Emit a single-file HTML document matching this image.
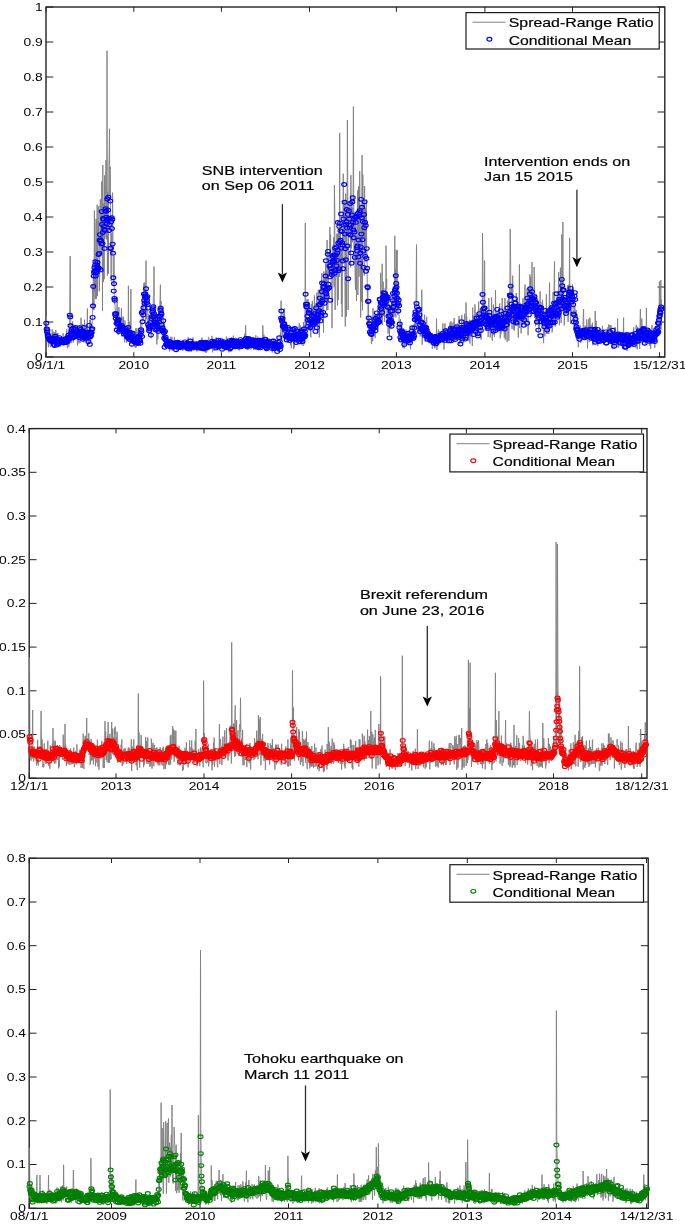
<!DOCTYPE html>
<html><head><meta charset="utf-8"><style>
html,body{margin:0;padding:0;background:#fff;width:685px;height:1224px;overflow:hidden}
svg{display:block;will-change:transform}
text{font-family:"Liberation Sans", sans-serif}
.b{stroke:#000;stroke-width:0.18px}
</style></head><body>
<svg width="685" height="1224" viewBox="0 0 685 1224">
<rect width="685" height="1224" fill="#fff"/>
<path d="M46.0,357.0h7.3M664.8,357.0h-7.3M46.0,322.0h7.3M664.8,322.0h-7.3M46.0,287.0h7.3M664.8,287.0h-7.3M46.0,252.0h7.3M664.8,252.0h-7.3M46.0,217.0h7.3M664.8,217.0h-7.3M46.0,182.0h7.3M664.8,182.0h-7.3M46.0,147.0h7.3M664.8,147.0h-7.3M46.0,112.0h7.3M664.8,112.0h-7.3M46.0,77.0h7.3M664.8,77.0h-7.3M46.0,42.0h7.3M664.8,42.0h-7.3M46.0,7.0h7.3M664.8,7.0h-7.3M46.0,357.0v-4.8M46.0,7.0v4.8M133.8,357.0v-4.8M133.8,7.0v4.8M221.4,357.0v-4.8M221.4,7.0v4.8M309.5,357.0v-4.8M309.5,7.0v4.8M396.4,357.0v-4.8M396.4,7.0v4.8M484.9,357.0v-4.8M484.9,7.0v4.8M572.5,357.0v-4.8M572.5,7.0v4.8M659.6,357.0v-4.8M659.6,7.0v4.8" stroke="#222" stroke-width="1" fill="none"/>
<rect x="46.0" y="7.0" width="618.8" height="350.0" fill="none" stroke="#222" stroke-width="1.4"/>
<text transform="translate(42.80,360.90) scale(1.28,1)" font-size="10.8" text-anchor="end" fill="#000">0</text>
<text transform="translate(42.80,325.90) scale(1.28,1)" font-size="10.8" text-anchor="end" fill="#000">0.1</text>
<text transform="translate(42.80,290.90) scale(1.28,1)" font-size="10.8" text-anchor="end" fill="#000">0.2</text>
<text transform="translate(42.80,255.90) scale(1.28,1)" font-size="10.8" text-anchor="end" fill="#000">0.3</text>
<text transform="translate(42.80,220.90) scale(1.28,1)" font-size="10.8" text-anchor="end" fill="#000">0.4</text>
<text transform="translate(42.80,185.90) scale(1.28,1)" font-size="10.8" text-anchor="end" fill="#000">0.5</text>
<text transform="translate(42.80,150.90) scale(1.28,1)" font-size="10.8" text-anchor="end" fill="#000">0.6</text>
<text transform="translate(42.80,115.90) scale(1.28,1)" font-size="10.8" text-anchor="end" fill="#000">0.7</text>
<text transform="translate(42.80,80.90) scale(1.28,1)" font-size="10.8" text-anchor="end" fill="#000">0.8</text>
<text transform="translate(42.80,45.90) scale(1.28,1)" font-size="10.8" text-anchor="end" fill="#000">0.9</text>
<text transform="translate(42.80,10.90) scale(1.28,1)" font-size="10.8" text-anchor="end" fill="#000">1</text>
<text transform="translate(46.00,368.80) scale(1.28,1)" font-size="10.8" text-anchor="middle" fill="#000">09/1/1</text>
<text transform="translate(133.80,368.80) scale(1.28,1)" font-size="10.8" text-anchor="middle" fill="#000">2010</text>
<text transform="translate(221.40,368.80) scale(1.28,1)" font-size="10.8" text-anchor="middle" fill="#000">2011</text>
<text transform="translate(309.50,368.80) scale(1.28,1)" font-size="10.8" text-anchor="middle" fill="#000">2012</text>
<text transform="translate(396.40,368.80) scale(1.28,1)" font-size="10.8" text-anchor="middle" fill="#000">2013</text>
<text transform="translate(484.90,368.80) scale(1.28,1)" font-size="10.8" text-anchor="middle" fill="#000">2014</text>
<text transform="translate(572.50,368.80) scale(1.28,1)" font-size="10.8" text-anchor="middle" fill="#000">2015</text>
<text transform="translate(659.60,368.80) scale(1.28,1)" font-size="10.8" text-anchor="middle" fill="#000">15/12/31</text>
<polyline points="46.3,315.9 46.7,323.4 47.0,337.5 47.4,330.2 47.7,335.9 48.1,337.0 48.4,347.1 48.8,333.9 49.1,339.6 49.5,327.5 49.8,335.8 50.2,345.9 50.5,347.1 50.9,333.3 51.2,345.1 51.6,336.6 51.9,342.3 52.3,329.2 52.6,340.2 53.0,331.6 53.3,333.0 53.7,343.5 54.0,342.8 54.4,332.2 54.7,340.9 55.1,345.7 55.4,334.2 55.8,330.0 56.1,341.1 56.5,332.9 56.8,341.9 57.2,333.1 57.5,342.3 57.9,333.2 58.2,338.1 58.6,341.9 58.9,339.7 59.3,343.9 59.6,346.6 60.0,346.3 60.3,341.1 60.7,346.3 61.0,338.5 61.4,338.0 61.7,338.3 62.1,343.6 62.4,340.4 62.8,340.8 63.1,333.1 63.5,345.1 63.8,342.9 64.2,342.0 64.5,341.5 64.9,344.8 65.3,344.2 65.6,335.1 66.0,344.3 66.3,335.3 66.7,328.9 67.0,331.9 67.4,348.3 67.7,334.4 68.1,335.8 68.4,335.0 68.8,346.9 69.1,332.7 69.5,344.1 69.8,289.4 70.2,256.0 70.5,306.1 70.9,333.2 71.2,342.9 71.6,323.2 71.9,325.3 72.3,336.0 72.6,321.3 73.0,327.7 73.3,342.6 73.7,336.0 74.0,336.8 74.4,333.8 74.7,331.5 75.1,338.5 75.4,334.4 75.8,328.1 76.1,333.1 76.5,334.9 76.8,335.2 77.2,333.4 77.5,345.6 77.9,331.4 78.2,340.7 78.6,331.8 78.9,343.4 79.3,325.2 79.6,331.1 80.0,342.9 80.3,331.3 80.7,339.3 81.0,317.7 81.4,329.8 81.7,339.8 82.1,332.0 82.4,334.0 82.8,324.2 83.1,331.5 83.5,330.4 83.9,342.3 84.2,328.4 84.6,319.7 84.9,330.0 85.3,334.8 85.6,333.5 86.0,341.6 86.3,333.3 86.7,342.4 87.0,334.3 87.4,308.5 87.7,340.8 88.1,330.4 88.4,344.5 88.8,334.8 89.1,343.7 89.5,319.9 89.8,319.9 90.2,328.3 90.5,319.9 90.9,330.3 91.2,330.7 91.6,337.3 91.9,338.2 92.3,324.3 92.6,284.5 93.0,310.0 93.3,267.6 93.7,279.9 94.0,310.2 94.4,210.6 94.7,291.6 95.1,277.5 95.4,299.1 95.8,236.6 96.1,218.8 96.5,298.8 96.8,250.8 97.2,204.6 97.5,296.1 97.9,260.5 98.2,221.1 98.6,236.7 98.9,206.1 99.3,291.3 99.6,276.7 100.0,238.0 100.3,199.4 100.7,240.7 101.0,255.0 101.4,253.9 101.7,181.4 102.1,216.8 102.5,310.9 102.8,165.0 103.2,250.5 103.5,281.8 103.9,203.5 104.2,279.2 104.6,175.4 104.9,238.4 105.3,195.1 105.6,185.2 106.0,160.1 106.3,239.3 106.7,229.3 107.0,50.6 107.4,275.6 107.7,191.8 108.1,210.0 108.4,273.5 108.8,165.4 109.1,158.3 109.5,128.8 109.8,194.9 110.2,166.8 110.5,188.3 110.9,265.7 111.2,281.1 111.6,233.2 111.9,255.2 112.3,239.2 112.6,192.6 113.0,239.3 113.3,284.9 113.7,284.6 114.0,255.6 114.4,303.8 114.7,297.8 115.1,307.8 115.4,311.2 115.8,328.6 116.1,311.7 116.5,319.8 116.8,310.4 117.2,297.3 117.5,320.5 117.9,315.1 118.2,335.1 118.6,323.5 118.9,307.1 119.3,326.4 119.6,333.1 120.0,324.9 120.3,329.1 120.7,330.0 121.1,331.6 121.4,308.2 121.8,336.6 122.1,332.7 122.5,334.4 122.8,316.8 123.2,332.1 123.5,316.8 123.9,328.4 124.2,330.3 124.6,342.3 124.9,320.3 125.3,327.4 125.6,329.2 126.0,333.9 126.3,336.6 126.7,342.6 127.0,325.9 127.4,331.6 127.7,336.8 128.1,339.0 128.4,285.8 128.8,335.4 129.1,321.6 129.5,329.9 129.8,340.2 130.2,343.5 130.5,338.2 130.9,289.0 131.2,336.7 131.6,335.0 131.9,333.9 132.3,335.7 132.6,339.8 133.0,335.4 133.3,344.5 133.7,340.0 134.0,335.3 134.4,338.4 134.7,346.7 135.1,346.2 135.4,348.0 135.8,328.3 136.1,347.7 136.5,340.7 136.8,328.3 137.2,333.6 137.5,331.9 137.9,342.9 138.2,335.7 138.6,328.3 138.9,340.0 139.3,337.6 139.7,341.8 140.0,339.9 140.4,335.2 140.7,324.2 141.1,340.0 141.4,341.9 141.8,326.4 142.1,320.2 142.5,298.4 142.8,303.9 143.2,320.3 143.5,297.7 143.9,282.9 144.2,295.2 144.6,304.5 144.9,282.4 145.3,302.4 145.6,326.5 146.0,260.6 146.3,319.3 146.7,304.5 147.0,306.8 147.4,309.9 147.7,313.4 148.1,332.9 148.4,314.3 148.8,322.9 149.1,324.7 149.5,316.0 149.8,318.3 150.2,315.3 150.5,306.1 150.9,319.9 151.2,338.2 151.6,317.9 151.9,317.9 152.3,315.1 152.6,323.0 153.0,325.2 153.3,297.3 153.7,294.7 154.0,266.5 154.4,308.1 154.7,320.2 155.1,325.4 155.4,314.2 155.8,324.3 156.1,331.7 156.5,326.8 156.8,344.4 157.2,334.8 157.5,332.0 157.9,339.1 158.3,322.4 158.6,319.8 159.0,328.7 159.3,321.4 159.7,308.2 160.0,299.6 160.4,284.7 160.7,308.7 161.1,301.0 161.4,318.3 161.8,330.0 162.1,331.6 162.5,328.6 162.8,337.0 163.2,309.8 163.5,336.3 163.9,330.4 164.2,333.7 164.6,332.4 164.9,340.8 165.3,346.7 165.6,331.7 166.0,343.3 166.3,342.7 166.7,342.5 167.0,337.6 167.4,340.4 167.7,338.5 168.1,340.5 168.4,343.6 168.8,343.4 169.1,347.8 169.5,351.4 169.8,346.0 170.2,349.2 170.5,336.8 170.9,338.2 171.2,340.2 171.6,347.4 171.9,336.8 172.3,350.9 172.6,349.6 173.0,348.3 173.3,348.9 173.7,344.6 174.0,344.4 174.4,336.9 174.7,341.1 175.1,340.0 175.4,343.5 175.8,345.8 176.1,348.0 176.5,350.5 176.9,348.6 177.2,346.8 177.6,342.2 177.9,351.0 178.3,350.1 178.6,344.4 179.0,349.2 179.3,343.9 179.7,347.0 180.0,348.2 180.4,350.1 180.7,345.6 181.1,348.2 181.4,347.8 181.8,347.8 182.1,344.5 182.5,344.7 182.8,351.1 183.2,346.0 183.5,343.8 183.9,341.1 184.2,342.2 184.6,344.5 184.9,349.6 185.3,348.4 185.6,341.7 186.0,348.1 186.3,341.2 186.7,340.0 187.0,349.3 187.4,343.7 187.7,345.8 188.1,337.3 188.4,342.1 188.8,347.5 189.1,343.9 189.5,348.9 189.8,346.0 190.2,344.6 190.5,344.8 190.9,344.3 191.2,348.9 191.6,351.5 191.9,346.9 192.3,348.9 192.6,348.2 193.0,337.4 193.3,340.7 193.7,346.2 194.0,350.5 194.4,350.1 194.7,344.1 195.1,341.2 195.5,346.7 195.8,345.0 196.2,344.5 196.5,341.3 196.9,351.6 197.2,344.9 197.6,344.0 197.9,341.8 198.3,344.1 198.6,349.6 199.0,347.9 199.3,350.7 199.7,344.8 200.0,344.8 200.4,343.6 200.7,349.2 201.1,349.7 201.4,338.9 201.8,344.7 202.1,337.6 202.5,343.7 202.8,350.5 203.2,342.1 203.5,340.1 203.9,347.1 204.2,351.5 204.6,342.6 204.9,345.7 205.3,344.1 205.6,352.6 206.0,343.3 206.3,352.6 206.7,348.5 207.0,341.4 207.4,351.2 207.7,351.2 208.1,346.8 208.4,337.3 208.8,337.5 209.1,347.4 209.5,340.6 209.8,342.4 210.2,343.7 210.5,343.3 210.9,347.7 211.2,341.3 211.6,340.0 211.9,335.9 212.3,340.7 212.6,352.3 213.0,349.2 213.3,343.1 213.7,344.1 214.0,351.0 214.4,345.0 214.8,346.0 215.1,344.5 215.5,344.8 215.8,340.3 216.2,337.4 216.5,341.3 216.9,348.7 217.2,347.9 217.6,347.1 217.9,344.3 218.3,346.1 218.6,345.8 219.0,348.1 219.3,340.1 219.7,340.7 220.0,340.3 220.4,344.8 220.7,342.6 221.1,348.3 221.4,348.7 221.8,347.0 222.1,342.3 222.5,345.4 222.8,349.2 223.2,344.4 223.5,343.2 223.9,344.3 224.2,347.7 224.6,344.7 224.9,346.9 225.3,346.4 225.6,345.3 226.0,341.9 226.3,336.5 226.7,337.8 227.0,342.3 227.4,346.5 227.7,346.1 228.1,345.8 228.4,339.6 228.8,352.4 229.1,343.4 229.5,351.3 229.8,344.3 230.2,338.3 230.5,348.1 230.9,351.8 231.2,338.2 231.6,337.0 231.9,342.0 232.3,338.3 232.6,347.6 233.0,338.7 233.4,335.7 233.7,341.3 234.1,342.9 234.4,338.1 234.8,338.9 235.1,347.4 235.5,337.7 235.8,340.9 236.2,343.4 236.5,338.0 236.9,340.0 237.2,340.9 237.6,346.4 237.9,340.4 238.3,348.7 238.6,344.6 239.0,350.4 239.3,350.4 239.7,342.2 240.0,344.4 240.4,343.6 240.7,341.4 241.1,342.4 241.4,347.7 241.8,343.4 242.1,344.0 242.5,346.1 242.8,344.2 243.2,345.3 243.5,346.5 243.9,345.1 244.2,342.3 244.6,333.8 244.9,347.0 245.3,340.9 245.6,325.3 246.0,334.8 246.3,344.7 246.7,342.4 247.0,336.7 247.4,338.4 247.7,349.3 248.1,340.6 248.4,344.2 248.8,340.2 249.1,342.4 249.5,339.7 249.8,341.8 250.2,343.8 250.5,337.3 250.9,349.5 251.2,345.2 251.6,347.4 252.0,343.8 252.3,345.3 252.7,343.9 253.0,345.6 253.4,345.6 253.7,349.9 254.1,343.5 254.4,342.1 254.8,346.3 255.1,346.6 255.5,346.6 255.8,335.3 256.2,342.9 256.5,342.2 256.9,345.3 257.2,346.2 257.6,347.8 257.9,336.6 258.3,350.4 258.6,342.7 259.0,343.9 259.3,345.0 259.7,349.9 260.0,348.8 260.4,339.1 260.7,346.7 261.1,339.4 261.4,340.4 261.8,340.7 262.1,339.8 262.5,348.4 262.8,325.3 263.2,340.0 263.5,348.6 263.9,334.6 264.2,346.0 264.6,343.7 264.9,348.0 265.3,341.9 265.6,347.0 266.0,344.8 266.3,348.5 266.7,338.3 267.0,350.1 267.4,342.0 267.7,343.0 268.1,342.3 268.4,348.4 268.8,339.7 269.1,340.1 269.5,343.7 269.8,343.2 270.2,345.2 270.6,341.9 270.9,348.1 271.3,342.5 271.6,343.2 272.0,350.1 272.3,352.5 272.7,345.5 273.0,345.8 273.4,340.1 273.7,345.0 274.1,347.5 274.4,350.3 274.8,346.0 275.1,348.1 275.5,349.8 275.8,346.5 276.2,342.1 276.5,345.9 276.9,350.0 277.2,345.4 277.6,350.2 277.9,351.5 278.3,345.2 278.6,348.9 279.0,343.2 279.3,344.4 279.7,347.5 280.0,341.2 280.4,333.1 280.7,340.4 281.1,300.6 281.4,327.4 281.8,330.9 282.1,335.5 282.5,337.1 282.8,320.0 283.2,312.0 283.5,328.7 283.9,315.4 284.2,315.6 284.6,308.4 284.9,331.0 285.3,334.2 285.6,329.3 286.0,333.4 286.3,332.3 286.7,324.3 287.0,338.2 287.4,333.4 287.7,342.1 288.1,336.4 288.4,340.3 288.8,340.9 289.2,337.1 289.5,338.9 289.9,332.9 290.2,329.7 290.6,345.1 290.9,328.3 291.3,348.2 291.6,334.0 292.0,330.8 292.3,340.6 292.7,337.6 293.0,341.5 293.4,329.5 293.7,349.2 294.1,342.7 294.4,347.3 294.8,334.8 295.1,326.4 295.5,327.3 295.8,331.5 296.2,334.4 296.5,341.5 296.9,327.1 297.2,331.8 297.6,342.0 297.9,344.4 298.3,340.7 298.6,328.3 299.0,326.8 299.3,323.4 299.7,341.6 300.0,338.8 300.4,325.6 300.7,334.6 301.1,330.8 301.4,344.6 301.8,338.9 302.1,336.1 302.5,338.8 302.8,339.2 303.2,345.9 303.5,322.0 303.9,333.7 304.2,344.2 304.6,325.0 304.9,332.6 305.3,223.0 305.6,303.3 306.0,318.9 306.3,321.1 306.7,305.1 307.0,299.1 307.4,306.4 307.8,306.2 308.1,299.2 308.5,313.7 308.8,304.8 309.2,304.1 309.5,315.8 309.9,320.6 310.2,325.8 310.6,334.3 310.9,337.4 311.3,304.3 311.6,321.4 312.0,328.4 312.3,300.7 312.7,309.5 313.0,320.3 313.4,308.3 313.7,322.9 314.1,316.1 314.4,295.3 314.8,306.2 315.1,323.1 315.5,310.7 315.8,303.3 316.2,320.2 316.5,324.1 316.9,292.5 317.2,322.0 317.6,333.6 317.9,315.6 318.3,289.7 318.6,306.0 319.0,299.3 319.3,337.4 319.7,318.2 320.0,289.8 320.4,313.3 320.7,284.4 321.1,296.1 321.4,295.6 321.8,273.2 322.1,311.1 322.5,309.1 322.8,293.9 323.2,291.0 323.5,332.7 323.9,271.4 324.2,287.0 324.6,292.4 324.9,277.8 325.3,298.7 325.6,263.7 326.0,283.2 326.4,270.3 326.7,310.4 327.1,240.0 327.4,272.9 327.8,310.1 328.1,300.6 328.5,277.2 328.8,252.6 329.2,259.1 329.5,254.6 329.9,227.0 330.2,252.1 330.6,234.7 330.9,265.5 331.3,258.8 331.6,254.3 332.0,328.2 332.3,266.5 332.7,254.5 333.0,245.4 333.4,274.4 333.7,237.2 334.1,287.3 334.4,185.0 334.8,212.4 335.1,310.1 335.5,256.8 335.8,258.6 336.2,254.8 336.5,277.1 336.9,233.6 337.2,297.7 337.6,305.3 337.9,233.5 338.3,299.9 338.6,233.3 339.0,241.2 339.3,276.9 339.7,132.9 340.0,240.7 340.4,224.5 340.7,271.7 341.1,246.7 341.4,303.8 341.8,249.9 342.1,316.9 342.5,234.3 342.8,259.7 343.2,173.7 343.5,190.1 343.9,238.7 344.2,200.7 344.6,221.6 345.0,291.6 345.3,326.5 345.7,193.6 346.0,217.2 346.4,316.5 346.7,208.7 347.1,199.0 347.4,120.0 347.8,202.5 348.1,309.9 348.5,241.1 348.8,225.6 349.2,201.9 349.5,214.3 349.9,219.6 350.2,208.9 350.6,267.3 350.9,175.2 351.3,248.5 351.6,200.2 352.0,225.3 352.3,242.3 352.7,207.8 353.0,212.7 353.4,106.6 353.7,192.3 354.1,263.8 354.4,212.6 354.8,225.1 355.1,276.4 355.5,290.0 355.8,221.7 356.2,263.5 356.5,301.0 356.9,235.6 357.2,223.6 357.6,190.4 357.9,294.9 358.3,266.8 358.6,186.3 359.0,276.8 359.3,252.6 359.7,171.0 360.0,221.4 360.4,263.2 360.7,317.5 361.1,222.1 361.4,301.8 361.8,231.7 362.1,155.0 362.5,310.3 362.8,174.6 363.2,237.3 363.6,201.4 363.9,207.3 364.3,275.4 364.6,186.0 365.0,257.8 365.3,207.8 365.7,226.3 366.0,262.2 366.4,199.5 366.7,246.5 367.1,258.8 367.4,303.9 367.8,284.4 368.1,326.3 368.5,301.3 368.8,327.8 369.2,318.1 369.5,328.1 369.9,327.4 370.2,327.9 370.6,331.0 370.9,330.7 371.3,342.0 371.6,344.1 372.0,316.7 372.3,323.5 372.7,341.1 373.0,308.1 373.4,334.9 373.7,322.5 374.1,322.9 374.4,325.0 374.8,319.1 375.1,338.2 375.5,324.1 375.8,326.2 376.2,321.2 376.5,325.0 376.9,328.8 377.2,329.2 377.6,307.8 377.9,329.3 378.3,312.4 378.6,311.0 379.0,315.7 379.3,306.8 379.7,303.4 380.0,318.9 380.4,303.4 380.7,272.8 381.1,323.5 381.4,310.2 381.8,317.1 382.2,263.8 382.5,325.0 382.9,300.2 383.2,281.8 383.6,315.9 383.9,301.3 384.3,312.2 384.6,321.8 385.0,297.8 385.3,287.8 385.7,306.9 386.0,245.6 386.4,288.2 386.7,278.9 387.1,324.0 387.4,293.8 387.8,316.6 388.1,333.7 388.5,324.0 388.8,308.1 389.2,317.5 389.5,336.3 389.9,304.6 390.2,319.0 390.6,323.3 390.9,328.4 391.3,315.9 391.6,324.2 392.0,299.0 392.3,307.4 392.7,298.7 393.0,310.7 393.4,326.1 393.7,289.1 394.1,316.7 394.4,297.4 394.8,235.7 395.1,308.6 395.5,268.9 395.8,317.4 396.2,249.8 396.5,303.9 396.9,271.4 397.2,250.0 397.6,314.6 397.9,314.2 398.3,288.2 398.6,307.4 399.0,314.4 399.3,339.6 399.7,341.0 400.0,326.8 400.4,319.1 400.8,338.7 401.1,340.4 401.5,333.0 401.8,332.1 402.2,332.3 402.5,340.1 402.9,348.1 403.2,328.1 403.6,341.4 403.9,329.7 404.3,348.4 404.6,335.9 405.0,341.4 405.3,344.7 405.7,331.9 406.0,329.4 406.4,341.9 406.7,334.1 407.1,344.6 407.4,342.1 407.8,339.8 408.1,340.4 408.5,334.2 408.8,345.2 409.2,331.9 409.5,331.9 409.9,339.6 410.2,345.0 410.6,349.3 410.9,337.3 411.3,341.5 411.6,335.3 412.0,342.9 412.3,335.1 412.7,335.2 413.0,334.1 413.4,331.8 413.7,331.3 414.1,324.0 414.4,335.7 414.8,316.3 415.1,318.1 415.5,322.1 415.8,326.5 416.2,286.3 416.5,244.5 416.9,320.5 417.2,312.2 417.6,313.9 417.9,322.7 418.3,333.3 418.6,315.6 419.0,321.0 419.4,323.8 419.7,309.5 420.1,336.5 420.4,334.2 420.8,323.6 421.1,317.8 421.5,320.7 421.8,289.8 422.2,344.6 422.5,323.3 422.9,324.5 423.2,322.5 423.6,335.7 423.9,325.1 424.3,320.8 424.6,314.7 425.0,328.7 425.3,341.7 425.7,331.2 426.0,326.9 426.4,328.6 426.7,316.7 427.1,335.3 427.4,341.7 427.8,339.6 428.1,330.6 428.5,341.4 428.8,343.2 429.2,342.4 429.5,329.1 429.9,336.4 430.2,340.4 430.6,332.9 430.9,334.2 431.3,344.3 431.6,333.5 432.0,337.3 432.3,348.9 432.7,345.6 433.0,337.6 433.4,336.4 433.7,341.1 434.1,345.1 434.4,338.1 434.8,348.5 435.1,336.6 435.5,340.7 435.8,340.0 436.2,343.7 436.5,318.5 436.9,350.0 437.2,344.5 437.6,336.0 438.0,343.4 438.3,329.5 438.7,336.4 439.0,343.3 439.4,331.4 439.7,338.8 440.1,334.6 440.4,342.0 440.8,341.7 441.1,333.2 441.5,336.8 441.8,342.3 442.2,342.9 442.5,332.8 442.9,323.4 443.2,342.3 443.6,332.0 443.9,349.5 444.3,344.8 444.6,331.4 445.0,323.5 445.3,335.3 445.7,331.9 446.0,333.8 446.4,328.2 446.7,342.8 447.1,330.9 447.4,338.5 447.8,337.7 448.1,335.0 448.5,336.5 448.8,340.5 449.2,336.7 449.5,341.5 449.9,322.7 450.2,329.5 450.6,337.7 450.9,321.2 451.3,324.1 451.6,330.7 452.0,338.3 452.3,332.2 452.7,329.8 453.0,322.5 453.4,335.2 453.7,338.2 454.1,318.1 454.4,322.0 454.8,331.2 455.1,340.4 455.5,329.7 455.8,324.1 456.2,327.3 456.6,326.6 456.9,332.6 457.3,323.5 457.6,337.8 458.0,336.4 458.3,336.8 458.7,337.9 459.0,316.1 459.4,344.3 459.7,330.5 460.1,340.1 460.4,341.7 460.8,331.2 461.1,343.4 461.5,332.6 461.8,314.9 462.2,332.6 462.5,328.0 462.9,338.7 463.2,327.6 463.6,342.7 463.9,329.8 464.3,332.3 464.6,313.8 465.0,331.8 465.3,334.4 465.7,336.0 466.0,302.4 466.4,324.0 466.7,316.5 467.1,333.7 467.4,323.7 467.8,333.2 468.1,326.0 468.5,325.3 468.8,341.1 469.2,336.2 469.5,319.7 469.9,343.5 470.2,328.0 470.6,331.5 470.9,336.6 471.3,326.9 471.6,324.4 472.0,321.8 472.3,345.9 472.7,307.6 473.0,331.7 473.4,315.5 473.7,327.6 474.1,332.4 474.4,326.6 474.8,304.4 475.2,307.6 475.5,329.5 475.9,323.1 476.2,312.9 476.6,319.1 476.9,324.0 477.3,327.0 477.6,335.9 478.0,316.5 478.3,311.9 478.7,301.6 479.0,330.4 479.4,316.9 479.7,324.0 480.1,308.7 480.4,324.5 480.8,330.8 481.1,339.6 481.5,314.8 481.8,320.9 482.2,309.0 482.5,233.0 482.9,262.5 483.2,318.6 483.6,302.3 483.9,307.0 484.3,298.8 484.6,260.6 485.0,329.5 485.3,330.9 485.7,308.9 486.0,318.4 486.4,316.1 486.7,330.5 487.1,319.1 487.4,318.4 487.8,313.9 488.1,337.0 488.5,330.6 488.8,298.0 489.2,326.5 489.5,322.5 489.9,326.7 490.2,337.5 490.6,333.9 490.9,317.5 491.3,330.0 491.6,297.4 492.0,337.6 492.3,340.8 492.7,326.9 493.0,335.3 493.4,304.5 493.8,327.4 494.1,316.2 494.5,337.1 494.8,314.6 495.2,314.9 495.5,290.0 495.9,319.8 496.2,316.4 496.6,320.3 496.9,311.3 497.3,327.4 497.6,316.1 498.0,329.2 498.3,314.2 498.7,325.8 499.0,330.1 499.4,330.4 499.7,303.5 500.1,338.3 500.4,337.7 500.8,315.0 501.1,333.6 501.5,328.1 501.8,328.4 502.2,298.0 502.5,330.4 502.9,330.9 503.2,327.2 503.6,319.7 503.9,316.6 504.3,337.6 504.6,317.3 505.0,298.0 505.3,339.6 505.7,314.1 506.0,310.7 506.4,317.6 506.7,321.5 507.1,341.8 507.4,300.6 507.8,321.4 508.1,319.2 508.5,297.9 508.8,340.6 509.2,316.0 509.5,306.5 509.9,275.5 510.2,229.0 510.6,258.9 510.9,296.8 511.3,285.3 511.6,292.2 512.0,329.0 512.3,320.7 512.7,275.7 513.1,314.6 513.4,311.7 513.8,329.9 514.1,317.5 514.5,330.5 514.8,322.2 515.2,305.2 515.5,325.6 515.9,323.0 516.2,293.0 516.6,307.1 516.9,306.3 517.3,298.6 517.6,321.8 518.0,319.3 518.3,337.6 518.7,302.1 519.0,316.0 519.4,264.4 519.7,328.0 520.1,303.2 520.4,303.2 520.8,309.9 521.1,333.4 521.5,325.3 521.8,313.3 522.2,325.4 522.5,307.8 522.9,298.3 523.2,324.7 523.6,316.5 523.9,324.0 524.3,298.6 524.6,301.0 525.0,284.5 525.3,313.1 525.7,326.3 526.0,305.8 526.4,314.8 526.7,307.1 527.1,288.1 527.4,313.4 527.8,295.7 528.1,335.3 528.5,287.1 528.8,302.7 529.2,308.7 529.5,312.8 529.9,274.4 530.2,311.9 530.6,276.9 530.9,311.5 531.3,300.3 531.7,294.7 532.0,262.1 532.4,296.1 532.7,296.0 533.1,301.5 533.4,307.5 533.8,314.0 534.1,267.0 534.5,276.7 534.8,318.0 535.2,304.5 535.5,326.3 535.9,294.1 536.2,300.0 536.6,309.9 536.9,324.8 537.3,302.2 537.6,305.0 538.0,316.9 538.3,304.2 538.7,332.3 539.0,324.1 539.4,328.7 539.7,314.7 540.1,291.3 540.4,316.4 540.8,301.9 541.1,318.2 541.5,324.0 541.8,305.6 542.2,312.4 542.5,299.7 542.9,306.7 543.2,329.6 543.6,343.2 543.9,317.8 544.3,333.5 544.6,335.7 545.0,336.3 545.3,328.1 545.7,322.7 546.0,319.8 546.4,294.3 546.7,333.9 547.1,319.5 547.4,334.0 547.8,331.5 548.1,318.1 548.5,313.7 548.8,334.0 549.2,303.1 549.5,282.5 549.9,305.5 550.3,318.4 550.6,305.0 551.0,309.3 551.3,320.4 551.7,309.3 552.0,332.4 552.4,331.7 552.7,319.6 553.1,292.0 553.4,324.2 553.8,321.8 554.1,283.8 554.5,261.6 554.8,311.1 555.2,326.6 555.5,309.6 555.9,301.3 556.2,310.8 556.6,297.6 556.9,304.2 557.3,291.5 557.6,295.2 558.0,310.5 558.3,293.1 558.7,272.1 559.0,301.2 559.4,325.2 559.7,301.5 560.1,308.0 560.4,267.7 560.8,291.0 561.1,323.0 561.5,307.9 561.8,234.4 562.2,310.2 562.5,299.5 562.9,222.0 563.2,297.5 563.6,309.6 563.9,297.1 564.3,325.4 564.6,314.4 565.0,316.0 565.3,312.0 565.7,313.1 566.0,308.5 566.4,313.8 566.7,314.1 567.1,299.3 567.4,288.0 567.8,285.1 568.1,321.9 568.5,295.7 568.9,284.6 569.2,304.4 569.6,237.9 569.9,294.6 570.3,285.6 570.6,323.9 571.0,289.6 571.3,309.7 571.7,315.1 572.0,307.9 572.4,284.2 572.7,286.0 573.1,299.6 573.4,289.0 573.8,312.6 574.1,325.5 574.5,332.7 574.8,306.9 575.2,311.7 575.5,313.5 575.9,318.3 576.2,310.2 576.6,337.4 576.9,337.4 577.3,314.2 577.6,327.5 578.0,337.6 578.3,347.3 578.7,341.4 579.0,337.9 579.4,335.6 579.7,333.4 580.1,336.6 580.4,325.6 580.8,343.0 581.1,336.8 581.5,339.7 581.8,328.4 582.2,332.8 582.5,328.0 582.9,333.3 583.2,317.4 583.6,309.0 583.9,339.7 584.3,333.6 584.6,336.9 585.0,327.4 585.3,325.6 585.7,330.5 586.0,335.1 586.4,339.0 586.7,319.5 587.1,324.5 587.5,348.3 587.8,333.1 588.2,340.3 588.5,337.0 588.9,318.9 589.2,342.2 589.6,341.7 589.9,317.7 590.3,337.9 590.6,336.0 591.0,324.9 591.3,338.2 591.7,333.8 592.0,332.4 592.4,322.7 592.7,345.1 593.1,340.8 593.4,335.7 593.8,327.9 594.1,339.8 594.5,331.8 594.8,339.1 595.2,311.0 595.5,325.6 595.9,337.4 596.2,320.9 596.6,333.4 596.9,327.7 597.3,330.9 597.6,345.8 598.0,345.8 598.3,333.2 598.7,343.8 599.0,340.6 599.4,339.3 599.7,343.1 600.1,328.8 600.4,332.0 600.8,336.0 601.1,333.6 601.5,343.2 601.8,331.5 602.2,342.9 602.5,325.9 602.9,341.9 603.2,341.2 603.6,329.5 603.9,333.3 604.3,343.6 604.6,333.7 605.0,337.5 605.3,337.4 605.7,333.7 606.1,333.8 606.4,331.0 606.8,334.8 607.1,335.8 607.5,338.5 607.8,327.3 608.2,342.9 608.5,324.7 608.9,324.8 609.2,324.8 609.6,338.9 609.9,325.0 610.3,330.4 610.6,331.0 611.0,325.0 611.3,336.8 611.7,334.5 612.0,345.5 612.4,349.2 612.7,336.3 613.1,335.4 613.4,333.6 613.8,336.2 614.1,348.4 614.5,335.8 614.8,330.6 615.2,326.9 615.5,343.9 615.9,343.7 616.2,342.6 616.6,342.2 616.9,347.0 617.3,342.5 617.6,318.5 618.0,344.5 618.3,348.0 618.7,340.0 619.0,341.5 619.4,333.9 619.7,342.9 620.1,339.4 620.4,343.5 620.8,344.3 621.1,336.3 621.5,337.9 621.8,339.1 622.2,335.9 622.5,344.1 622.9,339.0 623.2,338.1 623.6,317.6 623.9,348.8 624.3,341.9 624.7,337.4 625.0,343.4 625.4,339.6 625.7,336.5 626.1,337.8 626.4,348.7 626.8,346.9 627.1,351.0 627.5,337.4 627.8,339.9 628.2,333.3 628.5,340.6 628.9,346.8 629.2,334.7 629.6,347.3 629.9,340.5 630.3,341.7 630.6,336.0 631.0,335.1 631.3,342.7 631.7,344.3 632.0,340.2 632.4,343.4 632.7,334.2 633.1,337.6 633.4,330.7 633.8,327.3 634.1,344.5 634.5,343.0 634.8,336.4 635.2,336.6 635.5,341.0 635.9,347.6 636.2,324.9 636.6,337.2 636.9,344.8 637.3,349.4 637.6,326.7 638.0,334.5 638.3,336.2 638.7,343.2 639.0,336.6 639.4,338.5 639.7,348.9 640.1,319.5 640.4,309.0 640.8,337.2 641.1,341.5 641.5,339.1 641.8,318.6 642.2,331.6 642.5,343.9 642.9,327.9 643.3,331.2 643.6,331.1 644.0,336.1 644.3,336.5 644.7,333.7 645.0,337.0 645.4,344.7 645.7,342.6 646.1,335.5 646.4,308.0 646.8,336.9 647.1,338.4 647.5,330.9 647.8,335.0 648.2,338.5 648.5,338.5 648.9,333.4 649.2,329.7 649.6,343.6 649.9,345.9 650.3,341.8 650.6,348.9 651.0,342.1 651.3,331.0 651.7,329.9 652.0,325.2 652.4,336.4 652.7,335.9 653.1,341.2 653.4,340.8 653.8,335.3 654.1,330.8 654.5,333.7 654.8,347.8 655.2,332.3 655.5,335.2 655.9,339.6 656.2,333.5 656.6,326.6 656.9,330.9 657.3,337.0 657.6,308.6 658.0,333.6 658.3,320.3 658.7,307.9 659.0,331.6 659.4,281.5 659.7,328.6 660.1,319.2 660.4,324.6 660.8,280.0 661.1,329.6 661.5,299.2" fill="none" stroke="#7f7f7f" stroke-width="0.9" stroke-linejoin="miter" stroke-miterlimit="2"/>
<marker id="m1" markerUnits="userSpaceOnUse" markerWidth="8" markerHeight="8" refX="4" refY="4" overflow="visible"><ellipse cx="4" cy="4" rx="2.45" ry="1.85" fill="none" stroke="#0000ff" stroke-width="1.15"/></marker>
<polyline points="46.3,323.2 46.7,329.0 47.0,331.9 47.4,330.6 47.7,335.3 48.1,336.9 48.4,336.1 48.8,338.4 49.1,339.1 49.5,339.7 49.8,339.8 50.2,340.7 50.5,338.7 50.9,339.2 51.2,339.1 51.6,341.4 51.9,341.5 52.3,340.7 52.6,339.1 53.0,339.1 53.3,340.5 53.7,341.0 54.0,344.6 54.4,345.5 54.7,338.0 55.1,336.3 55.4,338.6 55.8,339.7 56.1,341.8 56.5,341.7 56.8,345.1 57.2,339.5 57.5,338.6 57.9,343.8 58.2,343.2 58.6,343.4 58.9,341.0 59.3,337.6 59.6,340.4 60.0,342.0 60.3,340.0 60.7,340.1 61.0,341.1 61.4,339.8 61.7,340.9 62.1,341.3 62.4,341.1 62.8,340.1 63.1,341.6 63.5,343.0 63.8,342.2 64.2,339.7 64.5,341.5 64.9,339.8 65.3,342.5 65.6,339.8 66.0,342.5 66.3,341.6 66.7,338.2 67.0,339.2 67.4,340.1 67.7,341.4 68.1,338.1 68.4,335.2 68.8,338.3 69.1,337.3 69.5,338.7 69.8,315.1 70.2,316.9 70.5,325.8 70.9,333.8 71.2,331.8 71.6,329.4 71.9,334.1 72.3,334.6 72.6,338.0 73.0,334.5 73.3,328.2 73.7,331.5 74.0,332.3 74.4,337.1 74.7,336.7 75.1,329.3 75.4,327.5 75.8,334.0 76.1,336.3 76.5,332.1 76.8,331.9 77.2,333.0 77.5,334.0 77.9,335.9 78.2,335.0 78.6,333.4 78.9,332.2 79.3,337.5 79.6,327.8 80.0,331.8 80.3,333.9 80.7,329.4 81.0,334.2 81.4,331.3 81.7,335.5 82.1,334.1 82.4,336.6 82.8,339.2 83.1,337.1 83.5,332.2 83.9,327.5 84.2,338.0 84.6,336.0 84.9,333.2 85.3,334.6 85.6,333.7 86.0,337.7 86.3,336.8 86.7,335.8 87.0,332.0 87.4,335.3 87.7,332.5 88.1,337.4 88.4,341.7 88.8,332.4 89.1,325.4 89.5,333.1 89.8,344.4 90.2,337.0 90.5,332.8 90.9,335.7 91.2,333.0 91.6,332.7 91.9,329.5 92.3,328.6 92.6,317.4 93.0,306.0 93.3,286.5 93.7,276.1 94.0,272.2 94.4,267.6 94.7,271.0 95.1,265.3 95.4,261.8 95.8,276.1 96.1,272.5 96.5,270.4 96.8,272.4 97.2,265.0 97.5,262.5 97.9,267.5 98.2,269.1 98.6,254.6 98.9,268.3 99.3,253.5 99.6,240.6 100.0,234.6 100.3,239.7 100.7,269.9 101.0,241.0 101.4,243.9 101.7,211.6 102.1,224.5 102.5,243.6 102.8,232.6 103.2,218.4 103.5,219.4 103.9,226.3 104.2,229.7 104.6,248.4 104.9,230.5 105.3,210.9 105.6,208.7 106.0,211.2 106.3,217.1 106.7,219.1 107.0,223.7 107.4,199.0 107.7,220.5 108.1,210.1 108.4,197.2 108.8,218.4 109.1,230.5 109.5,224.7 109.8,218.5 110.2,201.1 110.5,248.6 110.9,248.1 111.2,221.7 111.6,217.6 111.9,228.6 112.3,219.3 112.6,244.1 113.0,253.2 113.3,277.8 113.7,291.1 114.0,283.7 114.4,298.5 114.7,300.2 115.1,313.8 115.4,315.6 115.8,318.6 116.1,313.7 116.5,323.6 116.8,330.0 117.2,321.0 117.5,323.0 117.9,320.0 118.2,322.6 118.6,319.4 118.9,331.5 119.3,325.4 119.6,325.7 120.0,329.6 120.3,326.5 120.7,328.0 121.1,327.1 121.4,328.7 121.8,325.4 122.1,327.0 122.5,328.3 122.8,328.4 123.2,330.3 123.5,329.6 123.9,333.9 124.2,332.0 124.6,331.9 124.9,330.5 125.3,330.9 125.6,328.4 126.0,334.9 126.3,330.8 126.7,331.4 127.0,336.0 127.4,337.6 127.7,336.0 128.1,327.5 128.4,334.4 128.8,337.7 129.1,332.3 129.5,339.4 129.8,335.4 130.2,332.9 130.5,336.5 130.9,336.7 131.2,339.8 131.6,333.0 131.9,344.3 132.3,339.2 132.6,333.2 133.0,340.0 133.3,338.2 133.7,341.7 134.0,340.0 134.4,339.8 134.7,341.7 135.1,338.1 135.4,342.5 135.8,339.6 136.1,336.9 136.5,339.6 136.8,342.7 137.2,342.1 137.5,339.1 137.9,343.6 138.2,336.8 138.6,336.8 138.9,340.1 139.3,336.7 139.7,340.4 140.0,341.0 140.4,343.3 140.7,334.8 141.1,329.8 141.4,331.6 141.8,312.8 142.1,336.6 142.5,321.7 142.8,311.6 143.2,315.0 143.5,307.8 143.9,294.1 144.2,300.5 144.6,303.5 144.9,296.8 145.3,294.0 145.6,295.9 146.0,288.7 146.3,297.9 146.7,302.7 147.0,300.2 147.4,296.6 147.7,304.5 148.1,308.1 148.4,324.4 148.8,326.6 149.1,330.8 149.5,328.4 149.8,328.7 150.2,322.6 150.5,326.8 150.9,335.1 151.2,325.6 151.6,318.6 151.9,316.6 152.3,312.1 152.6,308.8 153.0,310.7 153.3,306.8 153.7,316.7 154.0,313.8 154.4,315.8 154.7,322.4 155.1,319.3 155.4,329.7 155.8,324.3 156.1,322.0 156.5,326.2 156.8,329.4 157.2,323.6 157.5,327.2 157.9,318.8 158.3,331.4 158.6,328.0 159.0,322.2 159.3,317.3 159.7,316.0 160.0,316.3 160.4,310.0 160.7,308.3 161.1,313.1 161.4,314.2 161.8,324.7 162.1,330.7 162.5,327.8 162.8,329.7 163.2,320.7 163.5,330.4 163.9,332.8 164.2,338.2 164.6,347.3 164.9,331.4 165.3,339.5 165.6,337.1 166.0,344.6 166.3,340.2 166.7,341.2 167.0,344.3 167.4,345.9 167.7,345.3 168.1,343.3 168.4,342.8 168.8,345.7 169.1,345.1 169.5,341.5 169.8,345.0 170.2,345.7 170.5,347.1 170.9,345.2 171.2,346.3 171.6,342.8 171.9,344.9 172.3,343.8 172.6,345.8 173.0,347.2 173.3,343.8 173.7,344.1 174.0,344.2 174.4,346.7 174.7,346.6 175.1,342.6 175.4,344.5 175.8,345.7 176.1,349.8 176.5,343.9 176.9,343.3 177.2,346.9 177.6,343.2 177.9,342.2 178.3,345.0 178.6,346.8 179.0,344.4 179.3,345.3 179.7,344.7 180.0,347.6 180.4,346.0 180.7,346.9 181.1,343.3 181.4,343.4 181.8,343.8 182.1,346.5 182.5,346.8 182.8,343.9 183.2,345.7 183.5,347.0 183.9,346.0 184.2,345.3 184.6,345.2 184.9,341.9 185.3,344.9 185.6,346.5 186.0,344.9 186.3,347.1 186.7,343.6 187.0,343.7 187.4,343.7 187.7,348.7 188.1,343.2 188.4,345.2 188.8,347.4 189.1,346.8 189.5,349.1 189.8,345.1 190.2,341.0 190.5,345.6 190.9,343.4 191.2,344.8 191.6,343.1 191.9,346.5 192.3,347.9 192.6,344.8 193.0,346.9 193.3,345.7 193.7,344.8 194.0,345.1 194.4,344.3 194.7,346.0 195.1,346.1 195.5,344.6 195.8,346.5 196.2,344.0 196.5,344.5 196.9,345.1 197.2,347.5 197.6,344.8 197.9,348.1 198.3,346.3 198.6,345.1 199.0,344.1 199.3,346.4 199.7,346.8 200.0,344.4 200.4,342.8 200.7,342.9 201.1,342.8 201.4,346.6 201.8,348.6 202.1,347.9 202.5,345.9 202.8,342.9 203.2,342.9 203.5,345.0 203.9,348.9 204.2,348.3 204.6,345.4 204.9,344.7 205.3,343.1 205.6,342.2 206.0,342.9 206.3,343.5 206.7,347.3 207.0,344.7 207.4,345.9 207.7,347.4 208.1,344.4 208.4,346.7 208.8,345.9 209.1,343.5 209.5,344.3 209.8,344.0 210.2,343.9 210.5,344.1 210.9,345.1 211.2,346.2 211.6,343.7 211.9,344.3 212.3,341.3 212.6,343.6 213.0,345.6 213.3,345.4 213.7,345.4 214.0,345.5 214.4,342.8 214.8,342.0 215.1,343.3 215.5,344.7 215.8,343.9 216.2,348.0 216.5,344.3 216.9,345.4 217.2,346.6 217.6,344.0 217.9,341.9 218.3,340.1 218.6,342.6 219.0,345.9 219.3,346.1 219.7,345.7 220.0,344.1 220.4,345.8 220.7,340.6 221.1,343.7 221.4,345.0 221.8,342.8 222.1,349.3 222.5,344.4 222.8,342.7 223.2,341.6 223.5,345.7 223.9,344.1 224.2,346.6 224.6,346.9 224.9,346.4 225.3,343.2 225.6,343.1 226.0,347.8 226.3,343.7 226.7,342.6 227.0,343.5 227.4,345.6 227.7,345.6 228.1,346.7 228.4,342.7 228.8,344.6 229.1,345.0 229.5,340.6 229.8,345.1 230.2,348.8 230.5,344.6 230.9,344.9 231.2,347.6 231.6,343.2 231.9,340.5 232.3,340.5 232.6,342.4 233.0,343.4 233.4,345.6 233.7,345.1 234.1,341.1 234.4,343.0 234.8,346.3 235.1,346.7 235.5,346.3 235.8,343.8 236.2,344.6 236.5,341.2 236.9,343.8 237.2,343.4 237.6,345.5 237.9,345.6 238.3,342.2 238.6,343.6 239.0,346.9 239.3,343.4 239.7,342.9 240.0,341.7 240.4,339.6 240.7,344.1 241.1,346.6 241.4,346.6 241.8,345.0 242.1,343.0 242.5,342.7 242.8,340.9 243.2,343.7 243.5,345.3 243.9,345.4 244.2,342.2 244.6,342.4 244.9,342.0 245.3,345.8 245.6,344.1 246.0,338.5 246.3,340.9 246.7,345.6 247.0,346.0 247.4,347.0 247.7,345.2 248.1,340.1 248.4,338.4 248.8,339.1 249.1,341.8 249.5,344.0 249.8,345.5 250.2,343.4 250.5,345.1 250.9,343.9 251.2,342.7 251.6,345.7 252.0,343.9 252.3,339.6 252.7,341.2 253.0,344.6 253.4,340.0 253.7,343.6 254.1,344.8 254.4,342.5 254.8,341.3 255.1,342.7 255.5,343.2 255.8,347.1 256.2,346.2 256.5,341.2 256.9,340.4 257.2,342.8 257.6,346.8 257.9,345.5 258.3,344.7 258.6,347.5 259.0,344.3 259.3,343.1 259.7,340.2 260.0,341.2 260.4,347.7 260.7,342.8 261.1,343.5 261.4,340.3 261.8,341.8 262.1,344.4 262.5,342.4 262.8,343.4 263.2,343.6 263.5,343.3 263.9,346.4 264.2,345.6 264.6,343.3 264.9,341.0 265.3,339.3 265.6,341.8 266.0,341.6 266.3,347.6 266.7,348.7 267.0,344.7 267.4,342.6 267.7,346.2 268.1,341.0 268.4,342.2 268.8,345.6 269.1,343.1 269.5,343.2 269.8,343.0 270.2,345.0 270.6,344.8 270.9,345.2 271.3,346.1 271.6,345.7 272.0,348.4 272.3,345.9 272.7,343.1 273.0,341.3 273.4,341.0 273.7,343.8 274.1,348.4 274.4,348.5 274.8,346.6 275.1,344.8 275.5,345.2 275.8,345.7 276.2,346.3 276.5,344.1 276.9,346.2 277.2,351.6 277.6,344.3 277.9,347.8 278.3,342.4 278.6,347.2 279.0,346.5 279.3,337.8 279.7,341.4 280.0,349.6 280.4,345.0 280.7,346.4 281.1,318.1 281.4,311.0 281.8,320.1 282.1,321.4 282.5,318.5 282.8,326.1 283.2,326.4 283.5,323.9 283.9,327.1 284.2,323.6 284.6,328.6 284.9,326.3 285.3,330.5 285.6,328.5 286.0,336.8 286.3,335.9 286.7,340.0 287.0,335.3 287.4,333.6 287.7,337.4 288.1,327.5 288.4,329.1 288.8,336.0 289.2,337.5 289.5,340.6 289.9,337.5 290.2,338.8 290.6,335.8 290.9,332.8 291.3,332.0 291.6,336.0 292.0,338.2 292.3,338.6 292.7,329.2 293.0,329.6 293.4,335.2 293.7,339.4 294.1,338.7 294.4,335.6 294.8,328.4 295.1,338.7 295.5,333.7 295.8,340.0 296.2,342.6 296.5,338.8 296.9,335.0 297.2,335.0 297.6,331.2 297.9,333.9 298.3,334.5 298.6,335.9 299.0,338.2 299.3,341.7 299.7,336.8 300.0,339.5 300.4,334.7 300.7,332.2 301.1,332.1 301.4,330.8 301.8,336.7 302.1,339.2 302.5,341.5 302.8,338.0 303.2,336.7 303.5,333.4 303.9,329.0 304.2,334.9 304.6,337.0 304.9,331.3 305.3,335.5 305.6,294.3 306.0,304.1 306.3,306.5 306.7,306.9 307.0,304.3 307.4,316.1 307.8,320.2 308.1,326.3 308.5,323.1 308.8,312.4 309.2,313.5 309.5,310.3 309.9,319.4 310.2,328.1 310.6,327.2 310.9,321.3 311.3,319.2 311.6,322.4 312.0,315.4 312.3,321.4 312.7,324.5 313.0,321.6 313.4,320.5 313.7,322.4 314.1,316.0 314.4,313.8 314.8,323.3 315.1,323.1 315.5,331.4 315.8,318.4 316.2,307.9 316.5,320.6 316.9,327.8 317.2,321.6 317.6,314.9 317.9,319.7 318.3,311.8 318.6,317.4 319.0,304.7 319.3,310.7 319.7,298.1 320.0,304.5 320.4,320.9 320.7,313.1 321.1,316.0 321.4,302.8 321.8,291.8 322.1,283.0 322.5,301.3 322.8,299.8 323.2,312.4 323.5,287.5 323.9,283.7 324.2,286.7 324.6,303.3 324.9,315.2 325.3,292.4 325.6,276.0 326.0,260.7 326.4,294.0 326.7,296.8 327.1,288.5 327.4,289.6 327.8,254.3 328.1,251.3 328.5,284.2 328.8,288.0 329.2,287.6 329.5,266.2 329.9,276.9 330.2,300.3 330.6,265.4 330.9,268.4 331.3,261.8 331.6,272.2 332.0,275.1 332.3,271.3 332.7,256.4 333.0,261.9 333.4,255.1 333.7,260.4 334.1,261.4 334.4,273.3 334.8,255.4 335.1,248.3 335.5,270.5 335.8,254.8 336.2,247.1 336.5,265.8 336.9,260.4 337.2,253.1 337.6,249.9 337.9,222.4 338.3,243.1 338.6,270.8 339.0,268.9 339.3,226.4 339.7,241.7 340.0,223.2 340.4,230.8 340.7,240.2 341.1,214.0 341.4,248.1 341.8,231.6 342.1,243.0 342.5,244.9 342.8,261.0 343.2,268.8 343.5,219.0 343.9,225.1 344.2,184.5 344.6,202.2 345.0,234.1 345.3,248.7 345.7,259.7 346.0,224.5 346.4,221.7 346.7,209.4 347.1,228.1 347.4,246.0 347.8,214.4 348.1,278.7 348.5,233.8 348.8,210.7 349.2,219.0 349.5,224.8 349.9,228.0 350.2,203.4 350.6,235.0 350.9,225.2 351.3,252.9 351.6,263.2 352.0,215.0 352.3,201.9 352.7,197.7 353.0,222.3 353.4,229.9 353.7,237.7 354.1,219.0 354.4,231.9 354.8,257.4 355.1,217.1 355.5,217.8 355.8,222.4 356.2,216.4 356.5,217.0 356.9,247.6 357.2,250.9 357.6,245.9 357.9,213.3 358.3,257.0 358.6,239.9 359.0,216.5 359.3,212.4 359.7,210.7 360.0,263.3 360.4,253.0 360.7,246.8 361.1,199.3 361.4,234.1 361.8,217.9 362.1,207.2 362.5,239.7 362.8,221.6 363.2,250.9 363.6,267.4 363.9,214.4 364.3,227.8 364.6,201.8 365.0,222.5 365.3,256.4 365.7,225.4 366.0,271.3 366.4,258.5 366.7,248.6 367.1,268.3 367.4,286.8 367.8,287.7 368.1,301.5 368.5,301.1 368.8,318.0 369.2,323.4 369.5,324.1 369.9,332.3 370.2,326.6 370.6,326.3 370.9,334.0 371.3,330.4 371.6,334.5 372.0,331.4 372.3,326.5 372.7,327.0 373.0,329.0 373.4,328.3 373.7,325.8 374.1,323.8 374.4,319.8 374.8,324.6 375.1,327.6 375.5,330.7 375.8,318.4 376.2,324.4 376.5,322.2 376.9,312.9 377.2,316.4 377.6,319.9 377.9,320.0 378.3,321.6 378.6,322.5 379.0,321.8 379.3,315.9 379.7,299.4 380.0,299.3 380.4,306.4 380.7,302.8 381.1,308.4 381.4,308.8 381.8,303.2 382.2,312.5 382.5,297.9 382.9,303.7 383.2,297.2 383.6,292.8 383.9,300.2 384.3,295.6 384.6,303.0 385.0,293.4 385.3,298.0 385.7,295.4 386.0,299.0 386.4,301.7 386.7,297.6 387.1,306.5 387.4,298.7 387.8,297.1 388.1,307.5 388.5,316.2 388.8,321.6 389.2,324.4 389.5,337.9 389.9,321.2 390.2,315.8 390.6,311.3 390.9,320.2 391.3,322.1 391.6,326.2 392.0,322.6 392.3,310.9 392.7,300.6 393.0,293.4 393.4,307.3 393.7,306.4 394.1,303.1 394.4,296.2 394.8,292.3 395.1,290.2 395.5,288.8 395.8,275.7 396.2,283.4 396.5,287.2 396.9,293.3 397.2,298.3 397.6,304.6 397.9,303.0 398.3,311.0 398.6,300.0 399.0,305.7 399.3,327.5 399.7,324.0 400.0,331.1 400.4,337.4 400.8,333.0 401.1,340.0 401.5,334.2 401.8,330.9 402.2,332.3 402.5,332.2 402.9,337.2 403.2,338.0 403.6,339.6 403.9,335.4 404.3,344.4 404.6,340.2 405.0,338.4 405.3,338.9 405.7,336.3 406.0,334.5 406.4,336.1 406.7,339.8 407.1,340.1 407.4,341.1 407.8,336.3 408.1,333.3 408.5,340.6 408.8,337.5 409.2,338.9 409.5,340.3 409.9,342.9 410.2,336.5 410.6,336.1 410.9,337.0 411.3,337.7 411.6,331.4 412.0,335.0 412.3,327.7 412.7,333.9 413.0,337.4 413.4,338.5 413.7,333.3 414.1,336.2 414.4,328.0 414.8,319.8 415.1,315.8 415.5,311.9 415.8,314.1 416.2,319.3 416.5,303.5 416.9,307.1 417.2,316.6 417.6,318.2 417.9,321.5 418.3,310.3 418.6,318.3 419.0,309.2 419.4,314.9 419.7,324.8 420.1,331.7 420.4,328.5 420.8,328.7 421.1,322.6 421.5,322.0 421.8,330.0 422.2,328.6 422.5,328.5 422.9,323.4 423.2,326.8 423.6,330.9 423.9,327.5 424.3,327.8 424.6,335.6 425.0,334.2 425.3,331.9 425.7,328.0 426.0,327.5 426.4,329.9 426.7,336.8 427.1,333.2 427.4,339.3 427.8,333.8 428.1,333.4 428.5,337.4 428.8,336.7 429.2,335.6 429.5,337.1 429.9,339.7 430.2,335.1 430.6,337.0 430.9,338.2 431.3,337.9 431.6,340.9 432.0,338.3 432.3,337.2 432.7,338.1 433.0,340.0 433.4,338.8 433.7,343.0 434.1,337.9 434.4,341.3 434.8,336.7 435.1,336.7 435.5,338.4 435.8,343.9 436.2,343.6 436.5,339.1 436.9,341.9 437.2,338.4 437.6,335.9 438.0,338.5 438.3,338.2 438.7,340.9 439.0,337.5 439.4,338.6 439.7,339.7 440.1,339.0 440.4,337.8 440.8,335.0 441.1,338.8 441.5,338.6 441.8,339.6 442.2,337.0 442.5,336.7 442.9,333.1 443.2,334.9 443.6,337.5 443.9,336.3 444.3,338.8 444.6,337.6 445.0,340.4 445.3,337.3 445.7,330.8 446.0,334.9 446.4,334.7 446.7,332.5 447.1,336.7 447.4,336.6 447.8,336.6 448.1,334.1 448.5,334.4 448.8,334.7 449.2,340.9 449.5,335.9 449.9,335.0 450.2,336.6 450.6,329.9 450.9,328.2 451.3,340.7 451.6,333.2 452.0,338.5 452.3,334.9 452.7,333.4 453.0,328.9 453.4,329.9 453.7,335.8 454.1,330.4 454.4,334.3 454.8,333.9 455.1,339.6 455.5,334.0 455.8,336.6 456.2,337.2 456.6,333.4 456.9,326.9 457.3,335.2 457.6,329.0 458.0,329.8 458.3,335.3 458.7,337.4 459.0,330.4 459.4,330.5 459.7,329.1 460.1,335.5 460.4,344.0 460.8,331.1 461.1,335.0 461.5,321.7 461.8,327.8 462.2,327.4 462.5,338.9 462.9,337.1 463.2,331.5 463.6,329.5 463.9,327.1 464.3,329.6 464.6,329.9 465.0,333.7 465.3,339.1 465.7,337.4 466.0,328.9 466.4,323.4 466.7,324.6 467.1,333.9 467.4,333.0 467.8,330.3 468.1,331.8 468.5,325.6 468.8,324.2 469.2,330.5 469.5,329.8 469.9,329.0 470.2,330.8 470.6,327.1 470.9,325.7 471.3,325.9 471.6,329.9 472.0,328.5 472.3,322.6 472.7,323.3 473.0,327.5 473.4,334.6 473.7,324.3 474.1,324.8 474.4,321.9 474.8,325.9 475.2,327.1 475.5,331.4 475.9,329.0 476.2,321.7 476.6,318.0 476.9,321.2 477.3,323.1 477.6,333.8 478.0,335.9 478.3,323.3 478.7,324.3 479.0,317.7 479.4,313.6 479.7,323.9 480.1,327.6 480.4,321.7 480.8,330.5 481.1,321.5 481.5,316.9 481.8,323.3 482.2,323.6 482.5,294.5 482.9,302.2 483.2,309.1 483.6,312.1 483.9,314.8 484.3,308.3 484.6,307.9 485.0,317.6 485.3,316.0 485.7,320.4 486.0,324.4 486.4,317.2 486.7,316.6 487.1,324.3 487.4,321.5 487.8,327.0 488.1,328.4 488.5,325.3 488.8,320.6 489.2,315.4 489.5,312.3 489.9,319.9 490.2,323.0 490.6,321.2 490.9,325.0 491.3,319.0 491.6,325.1 492.0,321.5 492.3,320.3 492.7,320.3 493.0,318.8 493.4,331.3 493.8,316.7 494.1,318.0 494.5,324.6 494.8,325.6 495.2,322.0 495.5,330.6 495.9,321.7 496.2,316.7 496.6,323.9 496.9,316.3 497.3,309.4 497.6,322.3 498.0,327.2 498.3,328.7 498.7,321.8 499.0,320.3 499.4,315.4 499.7,327.1 500.1,327.0 500.4,325.8 500.8,310.9 501.1,317.9 501.5,325.9 501.8,328.2 502.2,327.2 502.5,321.3 502.9,317.5 503.2,320.7 503.6,322.3 503.9,322.8 504.3,320.4 504.6,329.1 505.0,317.4 505.3,317.0 505.7,313.2 506.0,320.3 506.4,325.1 506.7,324.8 507.1,321.8 507.4,308.0 507.8,321.0 508.1,318.8 508.5,314.9 508.8,314.3 509.2,312.6 509.5,317.1 509.9,295.0 510.2,296.1 510.6,286.1 510.9,296.1 511.3,304.0 511.6,308.9 512.0,306.7 512.3,309.5 512.7,315.3 513.1,310.8 513.4,321.8 513.8,308.4 514.1,306.0 514.5,307.0 514.8,298.7 515.2,303.0 515.5,316.5 515.9,322.2 516.2,317.5 516.6,323.0 516.9,315.9 517.3,310.2 517.6,311.9 518.0,310.7 518.3,315.7 518.7,306.1 519.0,316.1 519.4,312.1 519.7,317.2 520.1,306.9 520.4,306.8 520.8,310.1 521.1,316.5 521.5,306.9 521.8,318.4 522.2,315.7 522.5,307.2 522.9,313.8 523.2,309.8 523.6,315.7 523.9,325.3 524.3,319.9 524.6,311.3 525.0,308.5 525.3,312.8 525.7,312.4 526.0,307.4 526.4,304.8 526.7,311.0 527.1,323.3 527.4,298.1 527.8,305.8 528.1,303.5 528.5,309.3 528.8,314.9 529.2,309.4 529.5,300.6 529.9,294.0 530.2,288.8 530.6,306.9 530.9,305.9 531.3,301.8 531.7,299.7 532.0,291.8 532.4,298.2 532.7,307.6 533.1,311.7 533.4,298.7 533.8,311.3 534.1,304.7 534.5,296.7 534.8,299.9 535.2,302.7 535.5,310.2 535.9,307.7 536.2,302.6 536.6,307.8 536.9,322.0 537.3,313.3 537.6,315.4 538.0,313.9 538.3,330.1 538.7,310.1 539.0,317.6 539.4,307.0 539.7,308.2 540.1,313.1 540.4,335.8 540.8,321.9 541.1,307.8 541.5,321.6 541.8,314.4 542.2,317.1 542.5,318.9 542.9,318.6 543.2,318.0 543.6,320.5 543.9,323.1 544.3,326.8 544.6,320.4 545.0,315.0 545.3,310.5 545.7,318.1 546.0,318.0 546.4,320.7 546.7,322.0 547.1,329.9 547.4,324.5 547.8,326.3 548.1,314.4 548.5,311.1 548.8,315.6 549.2,313.6 549.5,326.1 549.9,318.1 550.3,322.5 550.6,309.1 551.0,310.5 551.3,315.5 551.7,316.6 552.0,307.5 552.4,313.9 552.7,322.1 553.1,322.8 553.4,313.2 553.8,308.1 554.1,303.1 554.5,312.8 554.8,322.2 555.2,315.1 555.5,303.7 555.9,308.1 556.2,313.0 556.6,293.7 556.9,302.5 557.3,317.3 557.6,315.9 558.0,314.5 558.3,310.2 558.7,312.6 559.0,301.9 559.4,299.2 559.7,305.5 560.1,300.8 560.4,305.7 560.8,293.2 561.1,302.9 561.5,308.9 561.8,279.4 562.2,285.8 562.5,298.9 562.9,290.3 563.2,289.7 563.6,290.3 563.9,297.1 564.3,299.7 564.6,306.8 565.0,305.7 565.3,300.2 565.7,297.4 566.0,313.4 566.4,310.5 566.7,306.6 567.1,305.2 567.4,302.7 567.8,307.8 568.1,309.0 568.5,300.3 568.9,294.8 569.2,292.3 569.6,291.9 569.9,299.2 570.3,295.9 570.6,288.4 571.0,292.2 571.3,293.7 571.7,302.0 572.0,296.2 572.4,299.6 572.7,298.9 573.1,304.8 573.4,314.0 573.8,321.9 574.1,315.1 574.5,296.0 574.8,292.6 575.2,299.6 575.5,319.1 575.9,322.5 576.2,329.1 576.6,326.7 576.9,328.7 577.3,332.1 577.6,330.0 578.0,334.3 578.3,336.2 578.7,333.2 579.0,335.9 579.4,339.2 579.7,335.8 580.1,334.5 580.4,332.9 580.8,331.8 581.1,334.8 581.5,334.7 581.8,334.8 582.2,333.6 582.5,330.6 582.9,330.6 583.2,334.0 583.6,330.8 583.9,330.5 584.3,337.3 584.6,337.8 585.0,332.5 585.3,333.8 585.7,329.8 586.0,336.1 586.4,331.9 586.7,332.2 587.1,336.6 587.5,331.4 587.8,336.6 588.2,331.9 588.5,333.2 588.9,333.0 589.2,333.0 589.6,334.0 589.9,333.0 590.3,329.1 590.6,333.8 591.0,335.0 591.3,337.0 591.7,338.4 592.0,329.6 592.4,333.9 592.7,336.4 593.1,332.7 593.4,336.8 593.8,338.6 594.1,333.4 594.5,329.3 594.8,330.8 595.2,342.3 595.5,340.0 595.9,334.2 596.2,335.2 596.6,333.0 596.9,334.5 597.3,337.0 597.6,329.4 598.0,334.9 598.3,341.0 598.7,338.9 599.0,338.0 599.4,341.5 599.7,335.6 600.1,333.6 600.4,331.9 600.8,334.7 601.1,338.0 601.5,337.8 601.8,339.4 602.2,340.1 602.5,339.7 602.9,335.6 603.2,335.6 603.6,340.7 603.9,336.4 604.3,337.6 604.6,336.5 605.0,336.3 605.3,334.1 605.7,331.9 606.1,343.1 606.4,343.0 606.8,337.4 607.1,336.8 607.5,338.5 607.8,337.0 608.2,339.9 608.5,337.9 608.9,337.8 609.2,338.8 609.6,337.8 609.9,331.6 610.3,336.3 610.6,339.0 611.0,341.5 611.3,338.6 611.7,340.5 612.0,341.3 612.4,335.0 612.7,330.2 613.1,336.5 613.4,335.1 613.8,340.8 614.1,346.2 614.5,339.5 614.8,335.9 615.2,335.7 615.5,338.0 615.9,334.1 616.2,339.5 616.6,340.5 616.9,340.4 617.3,336.0 617.6,338.3 618.0,339.5 618.3,334.0 618.7,342.2 619.0,337.6 619.4,338.3 619.7,336.6 620.1,338.5 620.4,343.2 620.8,339.3 621.1,335.0 621.5,336.9 621.8,334.7 622.2,336.3 622.5,338.8 622.9,339.7 623.2,343.9 623.6,337.1 623.9,338.1 624.3,335.3 624.7,340.2 625.0,347.3 625.4,343.5 625.7,346.9 626.1,341.6 626.4,336.5 626.8,335.8 627.1,334.4 627.5,336.3 627.8,339.5 628.2,345.0 628.5,345.5 628.9,344.3 629.2,340.4 629.6,337.4 629.9,338.9 630.3,340.8 630.6,342.5 631.0,343.7 631.3,341.8 631.7,335.3 632.0,334.7 632.4,334.9 632.7,343.0 633.1,339.9 633.4,341.4 633.8,344.5 634.1,341.8 634.5,338.4 634.8,336.8 635.2,333.5 635.5,336.4 635.9,339.6 636.2,339.1 636.6,339.2 636.9,338.4 637.3,341.6 637.6,335.7 638.0,335.8 638.3,337.8 638.7,340.9 639.0,330.8 639.4,331.8 639.7,333.4 640.1,332.1 640.4,338.3 640.8,338.4 641.1,336.1 641.5,331.6 641.8,331.1 642.2,332.7 642.5,338.5 642.9,335.0 643.3,329.3 643.6,328.5 644.0,330.2 644.3,338.0 644.7,343.3 645.0,335.5 645.4,336.5 645.7,338.5 646.1,340.3 646.4,337.5 646.8,332.0 647.1,333.3 647.5,330.0 647.8,335.6 648.2,339.5 648.5,331.7 648.9,333.7 649.2,335.3 649.6,339.3 649.9,341.4 650.3,340.1 650.6,334.8 651.0,333.0 651.3,337.6 651.7,334.9 652.0,336.0 652.4,341.1 652.7,338.8 653.1,333.0 653.4,333.2 653.8,336.5 654.1,336.0 654.5,339.8 654.8,341.6 655.2,335.7 655.5,333.5 655.9,333.2 656.2,329.6 656.6,334.0 656.9,331.5 657.3,333.4 657.6,328.0 658.0,323.1 658.3,332.0 658.7,323.4 659.0,319.9 659.4,316.5 659.7,315.7 660.1,311.9 660.4,313.1 660.8,308.9 661.1,307.0 661.5,309.1" fill="none" stroke="none" marker-start="url(#m1)" marker-mid="url(#m1)" marker-end="url(#m1)"/>
<rect x="466.0" y="12.6" width="193.2" height="36.4" fill="#fff" stroke="#1a1a1a" stroke-width="1.2"/>
<line x1="472.6" y1="22.2" x2="505.6" y2="22.2" stroke="#7f7f7f" stroke-width="1"/>
<ellipse cx="489.4" cy="39.2" rx="2.45" ry="1.85" fill="none" stroke="#0000ff" stroke-width="1.15"/>
<text class="b" transform="translate(508.70,27.40) scale(1.262,1)" font-size="12.6" text-anchor="start" fill="#000">Spread-Range Ratio</text>
<text class="b" transform="translate(508.70,44.60) scale(1.25,1)" font-size="12.6" text-anchor="start" fill="#000">Conditional Mean</text>
<path d="M29.2,778.2h7.3M647.0,778.2h-7.3M29.2,734.5h7.3M647.0,734.5h-7.3M29.2,690.8h7.3M647.0,690.8h-7.3M29.2,647.1h7.3M647.0,647.1h-7.3M29.2,603.4h7.3M647.0,603.4h-7.3M29.2,559.7h7.3M647.0,559.7h-7.3M29.2,516.0h7.3M647.0,516.0h-7.3M29.2,472.3h7.3M647.0,472.3h-7.3M29.2,428.6h7.3M647.0,428.6h-7.3M29.2,778.2v-4.8M29.2,428.6v4.8M116.0,778.2v-4.8M116.0,428.6v4.8M204.0,778.2v-4.8M204.0,428.6v4.8M291.6,778.2v-4.8M291.6,428.6v4.8M379.2,778.2v-4.8M379.2,428.6v4.8M466.4,778.2v-4.8M466.4,428.6v4.8M553.5,778.2v-4.8M553.5,428.6v4.8M641.7,778.2v-4.8M641.7,428.6v4.8" stroke="#222" stroke-width="1" fill="none"/>
<rect x="29.2" y="428.6" width="617.8" height="349.6" fill="none" stroke="#222" stroke-width="1.4"/>
<text transform="translate(26.00,782.10) scale(1.28,1)" font-size="10.8" text-anchor="end" fill="#000">0</text>
<text transform="translate(26.00,738.40) scale(1.28,1)" font-size="10.8" text-anchor="end" fill="#000">0.05</text>
<text transform="translate(26.00,694.70) scale(1.28,1)" font-size="10.8" text-anchor="end" fill="#000">0.1</text>
<text transform="translate(26.00,651.00) scale(1.28,1)" font-size="10.8" text-anchor="end" fill="#000">0.15</text>
<text transform="translate(26.00,607.30) scale(1.28,1)" font-size="10.8" text-anchor="end" fill="#000">0.2</text>
<text transform="translate(26.00,563.60) scale(1.28,1)" font-size="10.8" text-anchor="end" fill="#000">0.25</text>
<text transform="translate(26.00,519.90) scale(1.28,1)" font-size="10.8" text-anchor="end" fill="#000">0.3</text>
<text transform="translate(26.00,476.20) scale(1.28,1)" font-size="10.8" text-anchor="end" fill="#000">0.35</text>
<text transform="translate(26.00,432.50) scale(1.28,1)" font-size="10.8" text-anchor="end" fill="#000">0.4</text>
<text transform="translate(29.20,790.00) scale(1.28,1)" font-size="10.8" text-anchor="middle" fill="#000">12/1/1</text>
<text transform="translate(116.00,790.00) scale(1.28,1)" font-size="10.8" text-anchor="middle" fill="#000">2013</text>
<text transform="translate(204.00,790.00) scale(1.28,1)" font-size="10.8" text-anchor="middle" fill="#000">2014</text>
<text transform="translate(291.60,790.00) scale(1.28,1)" font-size="10.8" text-anchor="middle" fill="#000">2015</text>
<text transform="translate(379.20,790.00) scale(1.28,1)" font-size="10.8" text-anchor="middle" fill="#000">2016</text>
<text transform="translate(466.40,790.00) scale(1.28,1)" font-size="10.8" text-anchor="middle" fill="#000">2017</text>
<text transform="translate(553.50,790.00) scale(1.28,1)" font-size="10.8" text-anchor="middle" fill="#000">2018</text>
<text transform="translate(641.70,790.00) scale(1.28,1)" font-size="10.8" text-anchor="middle" fill="#000">18/12/31</text>
<polyline points="29.5,657.0 29.9,738.9 30.2,757.6 30.6,754.0 30.9,760.7 31.3,760.0 31.6,749.0 32.0,740.6 32.3,744.0 32.7,710.0 33.0,758.9 33.4,749.3 33.7,761.5 34.1,752.1 34.4,746.6 34.8,755.8 35.1,758.5 35.5,758.2 35.8,748.9 36.2,757.1 36.5,765.4 36.9,758.1 37.2,763.2 37.6,739.8 37.9,753.9 38.3,765.7 38.6,752.0 39.0,748.0 39.3,751.0 39.7,757.7 40.0,752.9 40.4,751.9 40.7,745.3 41.1,711.0 41.4,735.9 41.8,756.3 42.1,739.4 42.5,753.9 42.8,767.0 43.2,763.9 43.5,767.5 43.9,767.0 44.2,743.4 44.6,760.5 44.9,749.9 45.3,762.6 45.6,755.4 46.0,764.1 46.4,748.9 46.7,758.4 47.1,760.3 47.4,758.1 47.8,740.8 48.1,753.9 48.5,750.6 48.8,766.0 49.2,762.2 49.5,754.6 49.9,768.8 50.2,745.4 50.6,754.5 50.9,756.5 51.3,758.1 51.6,758.3 52.0,760.5 52.3,743.5 52.7,749.7 53.0,728.0 53.4,757.4 53.7,761.8 54.1,740.5 54.4,763.6 54.8,758.7 55.1,745.7 55.5,741.1 55.8,763.3 56.2,754.2 56.5,750.9 56.9,752.7 57.2,759.9 57.6,745.0 57.9,757.0 58.3,754.1 58.6,768.4 59.0,752.8 59.3,767.0 59.7,745.1 60.0,747.3 60.4,757.1 60.7,750.4 61.1,750.9 61.4,753.5 61.8,748.8 62.2,753.4 62.5,757.0 62.9,759.9 63.2,734.6 63.6,750.9 63.9,752.9 64.3,746.6 64.6,757.2 65.0,724.0 65.3,748.1 65.7,744.9 66.0,748.7 66.4,766.0 66.7,754.3 67.1,755.2 67.4,751.7 67.8,762.9 68.1,764.1 68.5,757.1 68.8,763.4 69.2,764.7 69.5,757.4 69.9,750.0 70.2,756.2 70.6,748.5 70.9,764.7 71.3,752.0 71.6,757.3 72.0,764.0 72.3,760.8 72.7,764.0 73.0,759.3 73.4,763.3 73.7,747.5 74.1,760.5 74.4,767.2 74.8,759.2 75.1,754.9 75.5,760.3 75.8,751.3 76.2,764.5 76.5,764.1 76.9,744.4 77.2,757.7 77.6,754.0 77.9,754.4 78.3,753.8 78.7,757.5 79.0,759.5 79.4,749.8 79.7,761.9 80.1,757.2 80.4,753.2 80.8,761.2 81.1,768.0 81.5,755.0 81.8,750.2 82.2,755.7 82.5,767.6 82.9,749.1 83.2,733.7 83.6,764.6 83.9,768.9 84.3,751.3 84.6,746.0 85.0,736.3 85.3,735.8 85.7,744.3 86.0,739.4 86.4,741.8 86.7,718.0 87.1,746.4 87.4,747.8 87.8,738.0 88.1,741.5 88.5,751.4 88.8,733.3 89.2,755.0 89.5,749.6 89.9,745.6 90.2,764.8 90.6,752.3 90.9,739.0 91.3,739.9 91.6,760.7 92.0,757.9 92.3,760.2 92.7,752.5 93.0,750.8 93.4,764.4 93.7,748.0 94.1,750.5 94.5,752.3 94.8,758.6 95.2,754.0 95.5,766.2 95.9,750.1 96.2,750.3 96.6,753.2 96.9,762.6 97.3,739.7 97.6,741.3 98.0,766.7 98.3,748.5 98.7,750.8 99.0,769.7 99.4,747.6 99.7,746.3 100.1,745.6 100.4,750.7 100.8,758.5 101.1,757.3 101.5,747.6 101.8,740.9 102.2,757.0 102.5,755.0 102.9,745.8 103.2,768.0 103.6,748.2 103.9,754.5 104.3,767.9 104.6,743.0 105.0,721.0 105.3,740.4 105.7,731.6 106.0,759.8 106.4,758.9 106.7,744.8 107.1,762.3 107.4,735.6 107.8,742.1 108.1,722.0 108.5,762.9 108.8,742.1 109.2,739.2 109.5,762.8 109.9,733.9 110.2,759.7 110.6,742.6 111.0,759.2 111.3,735.5 111.7,722.0 112.0,744.0 112.4,744.4 112.7,728.6 113.1,750.7 113.4,744.9 113.8,736.9 114.1,742.2 114.5,728.2 114.8,734.4 115.2,726.5 115.5,748.9 115.9,737.7 116.2,758.2 116.6,741.5 116.9,731.6 117.3,732.3 117.6,762.8 118.0,753.9 118.3,746.7 118.7,761.1 119.0,749.5 119.4,750.2 119.7,759.2 120.1,759.9 120.4,762.8 120.8,753.1 121.1,744.7 121.5,753.3 121.8,739.4 122.2,766.1 122.5,760.3 122.9,750.2 123.2,764.2 123.6,752.8 123.9,748.9 124.3,754.1 124.6,757.2 125.0,747.8 125.3,752.3 125.7,749.7 126.0,751.2 126.4,761.0 126.7,763.9 127.1,758.6 127.5,754.1 127.8,756.9 128.2,747.8 128.5,753.5 128.9,747.5 129.2,754.5 129.6,761.4 129.9,748.7 130.3,751.7 130.6,762.3 131.0,759.0 131.3,739.4 131.7,771.0 132.0,746.1 132.4,755.1 132.7,755.9 133.1,758.1 133.4,759.9 133.8,739.4 134.1,759.4 134.5,758.2 134.8,749.3 135.2,752.7 135.5,756.9 135.9,757.8 136.2,765.3 136.6,745.7 136.9,763.4 137.3,770.1 137.6,745.3 138.0,748.0 138.3,693.5 138.7,758.8 139.0,732.3 139.4,760.0 139.7,767.7 140.1,750.4 140.4,745.3 140.8,747.6 141.1,735.0 141.5,746.2 141.8,755.8 142.2,755.6 142.5,746.1 142.9,754.4 143.3,755.3 143.6,767.2 144.0,757.1 144.3,764.7 144.7,752.4 145.0,753.3 145.4,748.5 145.7,736.9 146.1,756.2 146.4,741.3 146.8,763.9 147.1,753.5 147.5,746.6 147.8,737.5 148.2,763.9 148.5,757.3 148.9,753.9 149.2,755.9 149.6,763.0 149.9,767.0 150.3,764.8 150.6,755.9 151.0,765.6 151.3,738.6 151.7,744.8 152.0,768.5 152.4,759.9 152.7,744.0 153.1,742.8 153.4,746.3 153.8,766.3 154.1,759.1 154.5,744.9 154.8,755.1 155.2,760.0 155.5,752.2 155.9,748.1 156.2,755.0 156.6,754.3 156.9,747.4 157.3,761.0 157.6,763.5 158.0,750.3 158.3,765.3 158.7,752.6 159.0,762.4 159.4,749.8 159.8,765.4 160.1,747.2 160.5,754.4 160.8,759.2 161.2,763.5 161.5,758.0 161.9,763.9 162.2,765.6 162.6,748.2 162.9,752.4 163.3,746.8 163.6,766.5 164.0,769.3 164.3,767.7 164.7,752.1 165.0,750.9 165.4,768.7 165.7,747.6 166.1,759.5 166.4,764.6 166.8,755.3 167.1,749.3 167.5,755.8 167.8,754.9 168.2,760.6 168.5,764.4 168.9,755.7 169.2,765.1 169.6,744.9 169.9,759.1 170.3,735.9 170.6,764.4 171.0,734.6 171.3,759.3 171.7,759.3 172.0,747.3 172.4,740.9 172.7,726.0 173.1,754.2 173.4,728.9 173.8,745.2 174.1,761.8 174.5,753.2 174.8,730.5 175.2,747.2 175.6,742.6 175.9,730.8 176.3,757.8 176.6,748.7 177.0,759.1 177.3,752.9 177.7,748.7 178.0,764.7 178.4,752.9 178.7,753.4 179.1,745.9 179.4,760.7 179.8,765.5 180.1,753.1 180.5,764.9 180.8,754.8 181.2,751.8 181.5,763.3 181.9,757.3 182.2,764.4 182.6,771.0 182.9,766.8 183.3,769.6 183.6,756.1 184.0,764.7 184.3,757.7 184.7,756.8 185.0,747.8 185.4,759.6 185.7,760.0 186.1,752.7 186.4,742.2 186.8,757.2 187.1,754.0 187.5,758.3 187.8,762.4 188.2,767.4 188.5,757.3 188.9,759.0 189.2,758.9 189.6,740.3 189.9,759.7 190.3,754.3 190.6,759.8 191.0,747.1 191.3,759.3 191.7,740.4 192.1,759.1 192.4,750.8 192.8,748.7 193.1,758.9 193.5,750.2 193.8,756.3 194.2,763.0 194.5,762.4 194.9,754.5 195.2,740.9 195.6,761.1 195.9,729.0 196.3,763.4 196.6,755.1 197.0,766.4 197.3,763.3 197.7,757.0 198.0,763.1 198.4,759.4 198.7,749.2 199.1,758.2 199.4,762.9 199.8,766.1 200.1,761.5 200.5,747.5 200.8,757.3 201.2,757.7 201.5,750.6 201.9,749.3 202.2,747.5 202.6,758.9 202.9,763.0 203.3,767.3 203.6,680.7 204.0,744.5 204.3,733.1 204.7,741.7 205.0,754.3 205.4,740.1 205.7,762.7 206.1,761.9 206.4,763.3 206.8,763.2 207.1,756.9 207.5,762.3 207.8,762.0 208.2,743.9 208.6,766.5 208.9,764.1 209.3,758.0 209.6,752.3 210.0,752.0 210.3,758.2 210.7,759.1 211.0,758.1 211.4,749.6 211.7,763.2 212.1,770.3 212.4,754.0 212.8,764.7 213.1,755.9 213.5,742.8 213.8,754.4 214.2,737.6 214.5,766.9 214.9,753.1 215.2,751.9 215.6,747.9 215.9,761.3 216.3,753.5 216.6,753.7 217.0,753.9 217.3,765.4 217.7,767.3 218.0,750.0 218.4,751.6 218.7,754.0 219.1,748.9 219.4,724.0 219.8,763.9 220.1,747.3 220.5,739.3 220.8,744.2 221.2,748.1 221.5,746.7 221.9,764.8 222.2,757.5 222.6,742.4 222.9,736.6 223.3,747.6 223.6,756.3 224.0,752.7 224.4,742.6 224.7,730.4 225.1,742.7 225.4,755.9 225.8,743.8 226.1,745.5 226.5,728.1 226.8,742.9 227.2,748.1 227.5,749.0 227.9,760.6 228.2,758.9 228.6,752.9 228.9,756.2 229.3,744.4 229.6,744.9 230.0,734.5 230.3,725.6 230.7,743.5 231.0,747.5 231.4,763.6 231.7,642.4 232.1,721.0 232.4,746.7 232.8,742.4 233.1,748.2 233.5,723.5 233.8,731.9 234.2,723.9 234.5,756.9 234.9,716.5 235.2,705.4 235.6,756.1 235.9,741.8 236.3,751.6 236.6,720.1 237.0,750.3 237.3,753.8 237.7,733.7 238.0,730.5 238.4,755.9 238.7,752.1 239.1,750.8 239.4,748.4 239.8,724.4 240.1,731.8 240.5,697.8 240.9,732.7 241.2,747.7 241.6,739.0 241.9,749.5 242.3,757.3 242.6,729.9 243.0,765.3 243.3,750.1 243.7,756.8 244.0,765.2 244.4,755.4 244.7,751.0 245.1,747.8 245.4,760.0 245.8,745.0 246.1,749.3 246.5,744.4 246.8,767.1 247.2,756.8 247.5,758.3 247.9,746.8 248.2,759.4 248.6,757.4 248.9,762.5 249.3,762.9 249.6,761.0 250.0,742.9 250.3,762.0 250.7,769.5 251.0,749.6 251.4,756.9 251.7,747.2 252.1,747.4 252.4,755.6 252.8,756.7 253.1,757.9 253.5,752.3 253.8,759.9 254.2,750.5 254.5,738.2 254.9,758.9 255.2,758.1 255.6,757.5 255.9,743.6 256.3,742.0 256.7,730.7 257.0,739.0 257.4,744.5 257.7,739.9 258.1,759.3 258.4,715.0 258.8,742.6 259.1,719.4 259.5,727.1 259.8,755.3 260.2,717.0 260.5,735.0 260.9,765.3 261.2,756.7 261.6,741.9 261.9,738.9 262.3,744.7 262.6,733.8 263.0,751.4 263.3,747.8 263.7,751.8 264.0,761.0 264.4,750.4 264.7,757.3 265.1,751.5 265.4,770.0 265.8,752.7 266.1,759.3 266.5,759.9 266.8,753.7 267.2,758.7 267.5,746.1 267.9,742.8 268.2,746.6 268.6,745.8 268.9,751.3 269.3,754.0 269.6,764.7 270.0,757.9 270.3,743.4 270.7,747.9 271.0,759.1 271.4,753.6 271.7,745.2 272.1,756.1 272.4,739.0 272.8,761.3 273.2,747.9 273.5,748.8 273.9,753.2 274.2,752.2 274.6,750.3 274.9,769.7 275.3,750.9 275.6,744.6 276.0,751.6 276.3,744.8 276.7,764.4 277.0,755.4 277.4,752.2 277.7,757.4 278.1,744.4 278.4,751.1 278.8,759.6 279.1,748.2 279.5,748.2 279.8,759.1 280.2,750.0 280.5,752.1 280.9,752.3 281.2,764.9 281.6,743.7 281.9,749.8 282.3,755.2 282.6,752.3 283.0,752.4 283.3,757.9 283.7,760.3 284.0,754.3 284.4,760.4 284.7,759.5 285.1,764.4 285.4,757.7 285.8,746.5 286.1,753.4 286.5,754.6 286.8,758.1 287.2,759.0 287.5,766.3 287.9,739.5 288.2,761.5 288.6,766.4 288.9,751.9 289.3,752.9 289.7,759.5 290.0,765.9 290.4,765.2 290.7,738.6 291.1,754.9 291.4,759.7 291.8,734.5 292.1,758.4 292.5,670.3 292.8,719.5 293.2,726.3 293.5,707.6 293.9,757.7 294.2,735.3 294.6,760.6 294.9,736.3 295.3,752.2 295.6,750.8 296.0,754.7 296.3,737.0 296.7,727.0 297.0,749.1 297.4,751.7 297.7,754.9 298.1,744.4 298.4,760.4 298.8,729.2 299.1,753.3 299.5,731.5 299.8,749.7 300.2,763.6 300.5,764.9 300.9,755.9 301.2,758.8 301.6,754.2 301.9,762.2 302.3,731.2 302.6,731.2 303.0,766.3 303.3,747.0 303.7,739.2 304.0,755.1 304.4,753.9 304.7,740.3 305.1,746.2 305.5,762.6 305.8,738.6 306.2,756.6 306.5,731.6 306.9,761.3 307.2,769.1 307.6,752.2 307.9,742.0 308.3,749.5 308.6,753.0 309.0,762.7 309.3,747.4 309.7,768.4 310.0,749.6 310.4,765.6 310.7,761.9 311.1,766.7 311.4,764.6 311.8,746.1 312.1,766.6 312.5,757.1 312.8,764.5 313.2,751.0 313.5,767.7 313.9,758.7 314.2,752.3 314.6,743.6 314.9,766.9 315.3,765.3 315.6,759.5 316.0,747.6 316.3,766.3 316.7,753.5 317.0,764.0 317.4,766.5 317.7,769.1 318.1,758.5 318.4,752.6 318.8,760.5 319.1,771.2 319.5,763.9 319.8,753.0 320.2,753.9 320.5,758.1 320.9,748.9 321.2,768.0 321.6,767.9 322.0,745.6 322.3,755.8 322.7,761.8 323.0,763.9 323.4,772.2 323.7,754.8 324.1,771.3 324.4,771.0 324.8,761.0 325.1,749.6 325.5,763.3 325.8,757.7 326.2,763.2 326.5,757.0 326.9,769.5 327.2,744.0 327.6,765.9 327.9,754.9 328.3,727.2 328.6,743.2 329.0,755.0 329.3,741.7 329.7,763.1 330.0,749.3 330.4,758.9 330.7,757.5 331.1,745.8 331.4,764.0 331.8,750.4 332.1,738.6 332.5,739.2 332.8,746.5 333.2,752.9 333.5,763.7 333.9,742.4 334.2,761.7 334.6,744.9 334.9,758.8 335.3,755.5 335.6,755.7 336.0,750.7 336.3,759.8 336.7,754.2 337.0,760.5 337.4,751.5 337.8,753.5 338.1,752.3 338.5,763.0 338.8,753.2 339.2,755.4 339.5,751.1 339.9,755.4 340.2,763.9 340.6,750.0 340.9,761.8 341.3,753.7 341.6,769.6 342.0,752.0 342.3,750.7 342.7,763.7 343.0,751.4 343.4,759.6 343.7,743.8 344.1,750.8 344.4,765.8 344.8,758.2 345.1,768.4 345.5,759.2 345.8,752.0 346.2,749.5 346.5,757.3 346.9,758.6 347.2,755.0 347.6,761.6 347.9,753.8 348.3,746.9 348.6,754.8 349.0,749.4 349.3,762.9 349.7,760.8 350.0,753.8 350.4,739.3 350.7,747.8 351.1,740.2 351.4,755.6 351.8,745.1 352.1,767.8 352.5,751.7 352.8,769.5 353.2,744.8 353.5,751.7 353.9,745.2 354.3,752.2 354.6,759.9 355.0,761.8 355.3,753.6 355.7,741.0 356.0,749.8 356.4,759.9 356.7,760.1 357.1,761.2 357.4,756.8 357.8,755.5 358.1,759.2 358.5,754.4 358.8,766.6 359.2,739.2 359.5,752.3 359.9,739.4 360.2,751.8 360.6,756.1 360.9,753.3 361.3,751.9 361.6,759.7 362.0,756.9 362.3,733.6 362.7,743.3 363.0,757.3 363.4,746.7 363.7,759.6 364.1,735.6 364.4,760.6 364.8,740.9 365.1,749.6 365.5,749.6 365.8,758.6 366.2,753.0 366.5,758.2 366.9,759.1 367.2,745.7 367.6,729.6 367.9,754.2 368.3,740.0 368.6,750.4 369.0,758.0 369.3,735.9 369.7,744.4 370.0,738.6 370.4,749.5 370.8,711.0 371.1,759.1 371.5,753.8 371.8,731.8 372.2,768.4 372.5,747.0 372.9,734.3 373.2,742.4 373.6,741.4 373.9,753.2 374.3,738.0 374.6,737.5 375.0,750.1 375.3,729.9 375.7,755.0 376.0,768.8 376.4,749.3 376.7,750.4 377.1,758.2 377.4,754.3 377.8,755.0 378.1,765.3 378.5,735.4 378.8,724.0 379.2,728.9 379.5,750.1 379.9,746.6 380.2,764.2 380.6,676.4 380.9,753.1 381.3,733.6 381.6,731.3 382.0,736.3 382.3,756.6 382.7,757.4 383.0,741.9 383.4,738.2 383.7,736.1 384.1,752.5 384.4,754.3 384.8,736.5 385.1,760.4 385.5,749.8 385.8,759.3 386.2,767.2 386.6,765.9 386.9,755.7 387.3,758.0 387.6,757.0 388.0,763.2 388.3,764.3 388.7,759.3 389.0,762.3 389.4,769.9 389.7,764.1 390.1,749.3 390.4,766.1 390.8,758.1 391.1,761.9 391.5,757.1 391.8,766.9 392.2,768.8 392.5,759.1 392.9,766.1 393.2,761.9 393.6,763.9 393.9,756.0 394.3,760.5 394.6,761.2 395.0,767.7 395.3,770.1 395.7,766.8 396.0,756.5 396.4,757.2 396.7,757.7 397.1,763.8 397.4,767.2 397.8,753.0 398.1,759.4 398.5,757.0 398.8,766.3 399.2,764.7 399.5,755.6 399.9,754.7 400.2,766.2 400.6,757.4 400.9,766.9 401.3,750.0 401.6,754.4 402.0,744.2 402.3,655.7 402.7,751.2 403.1,744.0 403.4,754.7 403.8,750.2 404.1,746.2 404.5,754.3 404.8,754.7 405.2,766.0 405.5,752.2 405.9,757.0 406.2,752.7 406.6,749.5 406.9,757.4 407.3,752.8 407.6,762.7 408.0,751.1 408.3,758.3 408.7,762.8 409.0,760.2 409.4,767.6 409.7,763.3 410.1,761.8 410.4,758.2 410.8,759.1 411.1,763.4 411.5,760.0 411.8,770.6 412.2,757.9 412.5,754.8 412.9,753.1 413.2,750.8 413.6,760.3 413.9,759.4 414.3,762.4 414.6,762.5 415.0,758.0 415.3,748.7 415.7,769.1 416.0,762.7 416.4,757.1 416.7,765.8 417.1,756.3 417.4,729.0 417.8,761.8 418.1,769.0 418.5,757.3 418.8,764.8 419.2,754.9 419.6,761.5 419.9,765.8 420.3,762.4 420.6,758.3 421.0,759.1 421.3,761.0 421.7,761.7 422.0,758.7 422.4,752.8 422.7,763.0 423.1,755.6 423.4,767.3 423.8,751.7 424.1,755.8 424.5,761.1 424.8,760.8 425.2,768.7 425.5,757.2 425.9,759.9 426.2,767.2 426.6,761.3 426.9,753.5 427.3,756.2 427.6,755.5 428.0,761.9 428.3,750.9 428.7,757.3 429.0,750.6 429.4,740.6 429.7,769.4 430.1,761.0 430.4,756.6 430.8,762.6 431.1,748.2 431.5,759.5 431.8,741.4 432.2,750.4 432.5,753.0 432.9,756.3 433.2,749.5 433.6,752.4 433.9,743.3 434.3,752.9 434.6,747.6 435.0,752.9 435.4,753.4 435.7,767.0 436.1,755.7 436.4,752.9 436.8,764.8 437.1,766.1 437.5,758.5 437.8,753.5 438.2,767.6 438.5,753.4 438.9,747.9 439.2,758.0 439.6,753.8 439.9,752.1 440.3,761.3 440.6,750.8 441.0,752.1 441.3,765.1 441.7,751.5 442.0,748.4 442.4,764.1 442.7,748.4 443.1,757.9 443.4,765.6 443.8,763.8 444.1,762.8 444.5,751.2 444.8,759.7 445.2,758.9 445.5,765.1 445.9,755.1 446.2,765.0 446.6,761.1 446.9,750.4 447.3,749.9 447.6,760.0 448.0,755.6 448.3,751.0 448.7,755.2 449.0,744.7 449.4,743.2 449.7,755.9 450.1,764.8 450.4,756.5 450.8,742.9 451.1,745.1 451.5,744.4 451.9,745.0 452.2,759.4 452.6,752.5 452.9,745.1 453.3,752.4 453.6,747.0 454.0,762.9 454.3,764.3 454.7,736.3 455.0,747.7 455.4,749.0 455.7,740.1 456.1,735.9 456.4,735.8 456.8,769.9 457.1,750.6 457.5,744.4 457.8,767.7 458.2,767.1 458.5,755.3 458.9,735.1 459.2,744.9 459.6,734.9 459.9,750.9 460.3,743.3 460.6,738.0 461.0,749.2 461.3,753.1 461.7,728.0 462.0,770.0 462.4,750.1 462.7,767.2 463.1,760.5 463.4,746.3 463.8,749.1 464.1,767.7 464.5,747.7 464.8,745.4 465.2,750.5 465.5,745.9 465.9,746.9 466.2,766.0 466.6,754.4 466.9,755.3 467.3,763.1 467.7,752.6 468.0,760.1 468.4,659.8 468.7,746.8 469.1,719.0 469.4,708.4 469.8,749.3 470.1,662.7 470.5,743.9 470.8,741.0 471.2,749.3 471.5,767.1 471.9,745.2 472.2,751.2 472.6,761.2 472.9,753.8 473.3,757.6 473.6,751.1 474.0,757.0 474.3,757.2 474.7,754.2 475.0,753.7 475.4,755.6 475.7,745.9 476.1,754.1 476.4,762.5 476.8,740.1 477.1,755.1 477.5,742.1 477.8,764.5 478.2,751.8 478.5,740.4 478.9,745.4 479.2,755.5 479.6,761.3 479.9,761.4 480.3,758.0 480.6,764.0 481.0,762.5 481.3,764.2 481.7,764.2 482.0,754.5 482.4,768.3 482.7,755.0 483.1,750.9 483.4,763.8 483.8,763.6 484.2,756.0 484.5,756.7 484.9,748.6 485.2,769.3 485.6,756.9 485.9,744.1 486.3,755.6 486.6,740.0 487.0,739.4 487.3,761.0 487.7,743.1 488.0,752.3 488.4,756.3 488.7,758.8 489.1,758.3 489.4,763.6 489.8,757.8 490.1,748.5 490.5,745.0 490.8,759.1 491.2,751.1 491.5,751.2 491.9,770.1 492.2,748.5 492.6,764.4 492.9,763.7 493.3,746.2 493.6,736.3 494.0,763.0 494.3,761.2 494.7,761.5 495.0,757.8 495.4,672.8 495.7,753.0 496.1,761.5 496.4,720.2 496.8,752.4 497.1,755.9 497.5,737.2 497.8,752.3 498.2,735.7 498.5,739.7 498.9,711.0 499.2,753.4 499.6,742.3 499.9,763.8 500.3,762.7 500.7,749.0 501.0,753.6 501.4,735.6 501.7,753.6 502.1,765.8 502.4,750.2 502.8,754.4 503.1,749.5 503.5,762.4 503.8,759.5 504.2,751.2 504.5,745.1 504.9,748.5 505.2,745.3 505.6,720.0 505.9,754.7 506.3,750.5 506.6,743.3 507.0,750.1 507.3,755.1 507.7,753.8 508.0,753.5 508.4,764.7 508.7,752.3 509.1,745.3 509.4,746.3 509.8,767.2 510.1,752.7 510.5,765.3 510.8,742.6 511.2,748.2 511.5,746.7 511.9,759.5 512.2,767.7 512.6,762.5 512.9,756.8 513.3,765.4 513.6,762.3 514.0,725.0 514.3,764.4 514.7,748.7 515.0,767.5 515.4,751.4 515.7,746.1 516.1,749.8 516.5,742.4 516.8,735.2 517.2,765.0 517.5,751.6 517.9,749.4 518.2,750.3 518.6,738.2 518.9,751.6 519.3,742.8 519.6,743.3 520.0,752.7 520.3,749.3 520.7,760.9 521.0,751.3 521.4,752.3 521.7,755.3 522.1,758.3 522.4,745.2 522.8,754.8 523.1,735.9 523.5,741.5 523.8,747.2 524.2,759.2 524.5,745.7 524.9,752.6 525.2,753.0 525.6,763.1 525.9,748.8 526.3,751.7 526.6,758.1 527.0,759.9 527.3,756.3 527.7,764.5 528.0,758.9 528.4,740.7 528.7,759.9 529.1,736.7 529.4,711.3 529.8,733.7 530.1,737.9 530.5,739.7 530.8,747.7 531.2,766.1 531.5,743.9 531.9,745.3 532.2,754.6 532.6,770.2 533.0,746.5 533.3,763.1 533.7,758.0 534.0,744.9 534.4,744.0 534.7,752.7 535.1,760.4 535.4,739.7 535.8,745.7 536.1,756.8 536.5,763.4 536.8,753.3 537.2,765.8 537.5,739.0 537.9,751.6 538.2,758.7 538.6,752.3 538.9,767.4 539.3,756.0 539.6,761.0 540.0,767.0 540.3,761.0 540.7,752.8 541.0,766.2 541.4,757.2 541.7,766.3 542.1,753.9 542.4,767.8 542.8,723.0 543.1,750.1 543.5,748.6 543.8,738.4 544.2,754.0 544.5,754.4 544.9,750.5 545.2,759.6 545.6,768.4 545.9,765.0 546.3,765.0 546.6,753.8 547.0,760.9 547.3,758.9 547.7,750.8 548.0,753.8 548.4,738.0 548.8,755.6 549.1,763.1 549.5,743.9 549.8,759.0 550.2,755.8 550.5,746.6 550.9,753.7 551.2,749.3 551.6,760.6 551.9,757.8 552.3,749.4 552.6,759.2 553.0,757.6 553.3,753.6 553.7,736.5 554.0,737.3 554.4,749.9 554.7,749.5 555.1,755.7 555.4,728.2 555.8,730.9 556.1,542.0 556.5,746.1 556.8,691.2 557.2,700.9 557.5,544.0 557.9,673.2 558.2,705.4 558.6,719.1 558.9,697.1 559.3,743.6 559.6,697.4 560.0,728.5 560.3,753.1 560.7,722.5 561.0,732.4 561.4,726.9 561.7,737.5 562.1,745.9 562.4,752.2 562.8,762.4 563.1,747.9 563.5,750.8 563.8,760.0 564.2,753.6 564.5,765.1 564.9,752.9 565.3,759.8 565.6,759.6 566.0,765.9 566.3,756.1 566.7,761.3 567.0,765.8 567.4,760.9 567.7,764.3 568.1,757.7 568.4,770.2 568.8,768.4 569.1,749.5 569.5,763.8 569.8,756.7 570.2,762.0 570.5,757.0 570.9,743.4 571.2,769.4 571.6,752.7 571.9,755.9 572.3,755.7 572.6,762.1 573.0,762.9 573.3,742.3 573.7,750.2 574.0,763.8 574.4,753.4 574.7,764.3 575.1,734.8 575.4,749.0 575.8,766.4 576.1,742.5 576.5,745.2 576.8,747.8 577.2,748.6 577.5,755.8 577.9,751.5 578.2,766.6 578.6,735.9 578.9,730.9 579.3,746.3 579.6,666.3 580.0,759.0 580.3,751.1 580.7,762.0 581.0,762.1 581.4,745.7 581.8,737.2 582.1,753.3 582.5,736.1 582.8,747.3 583.2,769.7 583.5,759.1 583.9,745.0 584.2,755.2 584.6,748.0 584.9,767.9 585.3,745.7 585.6,765.3 586.0,753.9 586.3,740.7 586.7,755.8 587.0,758.3 587.4,750.4 587.7,763.0 588.1,763.8 588.4,748.3 588.8,766.9 589.1,765.5 589.5,740.2 589.8,765.5 590.2,752.8 590.5,746.9 590.9,756.4 591.2,764.3 591.6,749.4 591.9,763.5 592.3,739.8 592.6,739.7 593.0,764.0 593.3,751.3 593.7,761.8 594.0,752.9 594.4,758.0 594.7,763.6 595.1,751.7 595.4,767.4 595.8,753.3 596.1,757.0 596.5,762.2 596.8,748.1 597.2,755.2 597.6,758.6 597.9,757.0 598.3,757.5 598.6,747.7 599.0,758.0 599.3,770.8 599.7,770.8 600.0,763.9 600.4,765.1 600.7,757.8 601.1,765.7 601.4,762.1 601.8,743.4 602.1,765.5 602.5,748.0 602.8,756.2 603.2,743.3 603.5,747.4 603.9,754.4 604.2,745.4 604.6,753.0 604.9,764.0 605.3,750.4 605.6,749.9 606.0,754.7 606.3,751.1 606.7,757.2 607.0,749.7 607.4,754.9 607.7,764.9 608.1,754.2 608.4,733.6 608.8,742.6 609.1,733.6 609.5,749.9 609.8,754.1 610.2,760.1 610.5,747.4 610.9,737.4 611.2,739.4 611.6,739.9 611.9,753.5 612.3,746.8 612.6,757.0 613.0,740.3 613.3,743.5 613.7,756.8 614.1,749.4 614.4,768.4 614.8,745.1 615.1,760.0 615.5,756.4 615.8,748.1 616.2,748.1 616.5,760.4 616.9,739.9 617.2,739.1 617.6,743.3 617.9,745.5 618.3,756.2 618.6,745.0 619.0,763.6 619.3,765.1 619.7,755.6 620.0,754.9 620.4,763.5 620.7,741.4 621.1,767.0 621.4,769.7 621.8,760.2 622.1,742.6 622.5,751.3 622.8,754.4 623.2,756.0 623.5,752.8 623.9,754.7 624.2,756.3 624.6,758.0 624.9,767.9 625.3,749.6 625.6,760.7 626.0,754.4 626.3,753.6 626.7,749.1 627.0,763.4 627.4,751.0 627.7,750.8 628.1,758.1 628.4,726.0 628.8,756.2 629.1,764.9 629.5,761.1 629.9,765.6 630.2,748.0 630.6,763.5 630.9,765.3 631.3,756.3 631.6,753.6 632.0,760.5 632.3,764.6 632.7,754.6 633.0,751.2 633.4,768.3 633.7,750.8 634.1,768.9 634.4,752.9 634.8,761.2 635.1,759.7 635.5,752.5 635.8,746.0 636.2,742.6 636.5,746.8 636.9,752.8 637.2,766.9 637.6,761.1 637.9,756.9 638.3,762.5 638.6,753.7 639.0,759.8 639.3,742.9 639.7,759.4 640.0,766.6 640.4,761.3 640.7,729.0 641.1,749.7 641.4,741.5 641.8,744.5 642.1,743.3 642.5,758.9 642.8,761.7 643.2,758.7 643.5,749.2 643.9,752.8 644.2,745.0 644.6,735.2 644.9,745.3 645.3,722.3 645.6,754.2 646.0,736.0" fill="none" stroke="#7f7f7f" stroke-width="0.9" stroke-linejoin="miter" stroke-miterlimit="2"/>
<marker id="m2" markerUnits="userSpaceOnUse" markerWidth="8" markerHeight="8" refX="4" refY="4" overflow="visible"><ellipse cx="4" cy="4" rx="2.45" ry="1.85" fill="none" stroke="#ff0000" stroke-width="1.15"/></marker>
<polyline points="29.5,736.8 29.9,739.4 30.2,742.2 30.6,740.0 30.9,748.7 31.3,752.0 31.6,750.6 32.0,752.6 32.3,752.4 32.7,751.5 33.0,754.7 33.4,753.4 33.7,752.8 34.1,751.8 34.4,753.9 34.8,754.1 35.1,755.3 35.5,753.3 35.8,753.7 36.2,751.8 36.5,754.8 36.9,754.7 37.2,754.3 37.6,754.8 37.9,752.2 38.3,755.3 38.6,759.3 39.0,753.3 39.3,750.3 39.7,749.0 40.0,753.5 40.4,754.4 40.7,756.5 41.1,756.1 41.4,754.7 41.8,754.6 42.1,753.5 42.5,755.0 42.8,751.9 43.2,752.2 43.5,754.0 43.9,757.8 44.2,754.6 44.6,752.0 44.9,752.5 45.3,755.9 45.6,755.1 46.0,758.4 46.4,753.0 46.7,756.6 47.1,758.4 47.4,753.9 47.8,755.1 48.1,757.4 48.5,756.2 48.8,758.0 49.2,761.2 49.5,758.2 49.9,755.9 50.2,753.9 50.6,756.0 50.9,755.9 51.3,756.3 51.6,757.1 52.0,758.5 52.3,755.3 52.7,752.2 53.0,748.7 53.4,754.6 53.7,754.8 54.1,757.4 54.4,755.0 54.8,751.8 55.1,752.6 55.5,751.4 55.8,748.5 56.2,748.0 56.5,753.5 56.9,752.9 57.2,752.8 57.6,751.2 57.9,749.5 58.3,752.7 58.6,752.1 59.0,750.3 59.3,751.0 59.7,749.2 60.0,751.1 60.4,753.9 60.7,751.0 61.1,754.6 61.4,751.6 61.8,752.1 62.2,750.7 62.5,751.4 62.9,752.8 63.2,752.8 63.6,752.5 63.9,752.3 64.3,751.7 64.6,749.9 65.0,751.3 65.3,753.2 65.7,755.2 66.0,755.1 66.4,758.9 66.7,755.9 67.1,753.4 67.4,757.5 67.8,753.9 68.1,757.0 68.5,754.6 68.8,756.6 69.2,752.7 69.5,756.8 69.9,756.7 70.2,754.9 70.6,759.8 70.9,759.6 71.3,758.1 71.6,755.5 72.0,755.8 72.3,756.2 72.7,758.6 73.0,760.1 73.4,757.7 73.7,756.9 74.1,756.4 74.4,754.3 74.8,755.4 75.1,756.6 75.5,758.9 75.8,760.6 76.2,756.6 76.5,757.4 76.9,755.9 77.2,760.9 77.6,759.0 77.9,759.2 78.3,756.3 78.7,755.5 79.0,757.7 79.4,757.6 79.7,758.9 80.1,755.2 80.4,757.9 80.8,756.2 81.1,760.8 81.5,758.9 81.8,760.7 82.2,755.7 82.5,756.0 82.9,752.8 83.2,751.2 83.6,750.8 83.9,748.7 84.3,748.7 84.6,748.8 85.0,747.7 85.3,746.8 85.7,743.6 86.0,743.5 86.4,745.0 86.7,741.6 87.1,746.0 87.4,745.6 87.8,745.4 88.1,747.8 88.5,747.8 88.8,747.3 89.2,744.3 89.5,745.8 89.9,747.5 90.2,745.9 90.6,749.9 90.9,750.2 91.3,745.2 91.6,747.9 92.0,746.3 92.3,751.2 92.7,753.0 93.0,749.1 93.4,747.9 93.7,749.4 94.1,749.7 94.5,754.4 94.8,754.8 95.2,752.4 95.5,753.1 95.9,748.0 96.2,750.9 96.6,753.1 96.9,751.7 97.3,750.4 97.6,751.7 98.0,755.8 98.3,753.9 98.7,750.4 99.0,753.9 99.4,748.7 99.7,751.6 100.1,750.6 100.4,753.5 100.8,751.8 101.1,755.3 101.5,754.5 101.8,749.7 102.2,747.2 102.5,749.4 102.9,754.0 103.2,753.6 103.6,752.8 103.9,751.5 104.3,751.9 104.6,750.7 105.0,749.8 105.3,745.7 105.7,747.7 106.0,748.7 106.4,743.6 106.7,748.3 107.1,746.4 107.4,743.8 107.8,740.4 108.1,743.8 108.5,745.8 108.8,744.6 109.2,740.7 109.5,744.3 109.9,742.2 110.2,741.7 110.6,748.4 111.0,750.0 111.3,748.5 111.7,744.8 112.0,745.8 112.4,741.1 112.7,744.4 113.1,744.4 113.4,743.7 113.8,743.0 114.1,747.1 114.5,748.7 114.8,750.2 115.2,752.4 115.5,749.5 115.9,747.9 116.2,746.1 116.6,749.0 116.9,753.3 117.3,753.5 117.6,755.6 118.0,752.1 118.3,752.0 118.7,752.0 119.0,751.4 119.4,758.2 119.7,759.5 120.1,756.6 120.4,755.2 120.8,755.9 121.1,753.9 121.5,757.4 121.8,755.3 122.2,756.6 122.5,756.0 122.9,756.7 123.2,755.4 123.6,753.9 123.9,754.1 124.3,754.4 124.6,755.3 125.0,756.0 125.3,759.2 125.7,758.5 126.0,755.7 126.4,756.7 126.7,754.0 127.1,757.5 127.5,758.0 127.8,754.3 128.2,757.4 128.5,759.2 128.9,753.2 129.2,754.9 129.6,755.9 129.9,753.3 130.3,753.6 130.6,753.4 131.0,756.0 131.3,756.5 131.7,761.3 132.0,756.9 132.4,758.5 132.7,757.3 133.1,757.0 133.4,754.1 133.8,750.9 134.1,752.1 134.5,756.1 134.8,759.4 135.2,758.1 135.5,756.8 135.9,753.1 136.2,756.8 136.6,758.0 136.9,754.5 137.3,754.0 137.6,751.3 138.0,755.6 138.3,755.5 138.7,754.5 139.0,748.0 139.4,751.3 139.7,751.7 140.1,750.0 140.4,749.7 140.8,748.9 141.1,753.3 141.5,759.2 141.8,753.2 142.2,754.4 142.5,754.9 142.9,752.4 143.3,754.4 143.6,752.0 144.0,756.0 144.3,754.5 144.7,755.2 145.0,756.7 145.4,754.8 145.7,751.2 146.1,752.5 146.4,755.9 146.8,755.6 147.1,756.0 147.5,752.6 147.8,753.6 148.2,755.8 148.5,755.7 148.9,759.5 149.2,756.4 149.6,753.0 149.9,750.4 150.3,754.8 150.6,754.4 151.0,756.5 151.3,756.1 151.7,757.7 152.0,758.3 152.4,754.7 152.7,754.5 153.1,756.0 153.4,752.2 153.8,756.5 154.1,758.1 154.5,758.4 154.8,756.5 155.2,756.4 155.5,753.8 155.9,755.3 156.2,754.6 156.6,756.1 156.9,755.3 157.3,756.9 157.6,760.1 158.0,756.1 158.3,759.1 158.7,754.0 159.0,751.8 159.4,755.5 159.8,757.1 160.1,758.8 160.5,754.6 160.8,755.5 161.2,756.5 161.5,759.4 161.9,758.1 162.2,758.3 162.6,755.4 162.9,756.0 163.3,755.9 163.6,757.9 164.0,755.2 164.3,754.1 164.7,756.7 165.0,760.0 165.4,758.1 165.7,756.1 166.1,753.3 166.4,755.2 166.8,755.2 167.1,757.8 167.5,756.0 167.8,751.8 168.2,750.6 168.5,749.2 168.9,747.8 169.2,752.3 169.6,753.1 169.9,748.5 170.3,752.9 170.6,751.5 171.0,749.0 171.3,751.0 171.7,750.5 172.0,749.9 172.4,747.0 172.7,749.5 173.1,751.5 173.4,746.1 173.8,750.3 174.1,752.1 174.5,750.6 174.8,751.0 175.2,750.3 175.6,749.1 175.9,750.0 176.3,754.3 176.6,750.6 177.0,753.1 177.3,754.3 177.7,753.1 178.0,753.6 178.4,751.9 178.7,751.8 179.1,754.1 179.4,755.8 179.8,754.1 180.1,761.7 180.5,756.7 180.8,756.1 181.2,754.8 181.5,753.4 181.9,757.4 182.2,755.0 182.6,758.0 182.9,758.3 183.3,753.7 183.6,756.6 184.0,754.7 184.3,761.8 184.7,758.6 185.0,756.0 185.4,753.3 185.7,753.4 186.1,755.7 186.4,755.4 186.8,755.0 187.1,755.7 187.5,756.9 187.8,761.3 188.2,756.5 188.5,756.8 188.9,755.7 189.2,754.1 189.6,754.3 189.9,754.7 190.3,758.1 190.6,757.6 191.0,756.1 191.3,757.9 191.7,757.6 192.1,756.4 192.4,757.3 192.8,755.2 193.1,757.2 193.5,757.8 193.8,755.4 194.2,752.9 194.5,757.2 194.9,756.4 195.2,762.5 195.6,756.9 195.9,757.6 196.3,755.5 196.6,756.0 197.0,758.2 197.3,755.4 197.7,755.6 198.0,756.0 198.4,756.0 198.7,757.4 199.1,759.0 199.4,759.5 199.8,758.7 200.1,756.8 200.5,754.3 200.8,754.4 201.2,754.9 201.5,757.9 201.9,756.9 202.2,754.2 202.6,756.7 202.9,755.0 203.3,754.7 203.6,755.4 204.0,740.6 204.3,739.5 204.7,742.8 205.0,747.4 205.4,749.4 205.7,749.8 206.1,750.4 206.4,755.1 206.8,753.5 207.1,755.6 207.5,756.9 207.8,755.2 208.2,756.5 208.6,755.1 208.9,754.4 209.3,753.4 209.6,756.8 210.0,755.4 210.3,754.4 210.7,752.7 211.0,758.4 211.4,758.7 211.7,756.8 212.1,754.9 212.4,751.6 212.8,754.3 213.1,755.9 213.5,753.0 213.8,757.2 214.2,757.8 214.5,754.4 214.9,754.1 215.2,753.6 215.6,754.8 215.9,754.5 216.3,750.6 216.6,755.4 217.0,754.9 217.3,756.5 217.7,757.0 218.0,753.7 218.4,753.8 218.7,754.8 219.1,755.8 219.4,754.6 219.8,753.5 220.1,754.3 220.5,753.2 220.8,753.4 221.2,750.1 221.5,752.9 221.9,751.1 222.2,751.0 222.6,752.1 222.9,752.7 223.3,756.5 223.6,754.0 224.0,749.3 224.4,750.6 224.7,749.7 225.1,751.9 225.4,750.9 225.8,750.1 226.1,750.0 226.5,749.1 226.8,746.0 227.2,746.9 227.5,748.2 227.9,751.0 228.2,748.2 228.6,746.1 228.9,746.8 229.3,746.5 229.6,748.4 230.0,747.0 230.3,744.7 230.7,747.1 231.0,748.7 231.4,745.5 231.7,729.9 232.1,729.2 232.4,733.1 232.8,734.8 233.1,737.5 233.5,738.9 233.8,740.5 234.2,741.9 234.5,743.7 234.9,743.9 235.2,742.5 235.6,740.3 235.9,745.4 236.3,748.7 236.6,746.4 237.0,747.2 237.3,743.1 237.7,741.8 238.0,744.1 238.4,749.3 238.7,746.3 239.1,745.0 239.4,749.5 239.8,743.9 240.1,746.8 240.5,748.0 240.9,747.1 241.2,748.2 241.6,753.9 241.9,749.0 242.3,748.5 242.6,748.5 243.0,748.2 243.3,747.6 243.7,753.6 244.0,753.3 244.4,749.4 244.7,749.9 245.1,752.4 245.4,753.6 245.8,750.1 246.1,751.5 246.5,752.2 246.8,752.9 247.2,752.9 247.5,747.0 247.9,752.4 248.2,751.6 248.6,754.6 248.9,758.4 249.3,753.2 249.6,749.2 250.0,751.6 250.3,751.0 250.7,751.1 251.0,750.0 251.4,755.4 251.7,753.4 252.1,750.4 252.4,751.3 252.8,749.8 253.1,752.5 253.5,752.2 253.8,750.0 254.2,752.6 254.5,751.0 254.9,753.2 255.2,754.4 255.6,750.5 255.9,747.7 256.3,747.7 256.7,748.7 257.0,746.9 257.4,745.9 257.7,744.6 258.1,744.4 258.4,745.9 258.8,743.8 259.1,743.3 259.5,744.3 259.8,743.5 260.2,745.4 260.5,746.6 260.9,745.7 261.2,744.4 261.6,743.5 261.9,748.4 262.3,748.9 262.6,745.2 263.0,744.1 263.3,750.1 263.7,752.8 264.0,751.4 264.4,753.6 264.7,749.2 265.1,751.1 265.4,754.0 265.8,750.2 266.1,751.2 266.5,754.2 266.8,756.4 267.2,754.1 267.5,754.6 267.9,757.6 268.2,754.5 268.6,751.3 268.9,752.7 269.3,752.1 269.6,756.0 270.0,755.1 270.3,752.1 270.7,757.6 271.0,753.6 271.4,754.1 271.7,754.9 272.1,755.6 272.4,755.2 272.8,755.9 273.2,755.0 273.5,751.7 273.9,753.3 274.2,753.7 274.6,753.8 274.9,755.0 275.3,753.5 275.6,757.3 276.0,760.1 276.3,753.0 276.7,754.8 277.0,754.0 277.4,750.0 277.7,755.0 278.1,754.1 278.4,754.2 278.8,753.3 279.1,756.1 279.5,757.8 279.8,756.5 280.2,756.7 280.5,755.1 280.9,755.0 281.2,753.2 281.6,754.1 281.9,752.7 282.3,753.8 282.6,755.8 283.0,755.4 283.3,757.3 283.7,761.4 284.0,753.1 284.4,754.2 284.7,753.6 285.1,754.0 285.4,752.9 285.8,755.2 286.1,756.1 286.5,755.3 286.8,755.7 287.2,755.0 287.5,750.8 287.9,756.6 288.2,756.5 288.6,754.7 288.9,757.0 289.3,755.1 289.7,751.1 290.0,755.4 290.4,751.1 290.7,752.3 291.1,753.5 291.4,756.1 291.8,756.8 292.1,753.9 292.5,722.3 292.8,725.5 293.2,731.9 293.5,738.0 293.9,739.2 294.2,738.0 294.6,741.6 294.9,740.9 295.3,741.5 295.6,742.5 296.0,745.0 296.3,746.7 296.7,749.8 297.0,752.0 297.4,751.5 297.7,744.9 298.1,743.6 298.4,747.6 298.8,749.2 299.1,754.8 299.5,752.1 299.8,750.2 300.2,752.1 300.5,753.5 300.9,751.4 301.2,752.4 301.6,749.1 301.9,748.1 302.3,752.5 302.6,748.4 303.0,751.6 303.3,752.7 303.7,753.5 304.0,754.5 304.4,753.6 304.7,747.8 305.1,747.9 305.5,749.2 305.8,752.9 306.2,750.8 306.5,750.9 306.9,751.5 307.2,756.1 307.6,752.5 307.9,751.1 308.3,755.3 308.6,751.3 309.0,755.8 309.3,755.9 309.7,753.2 310.0,754.6 310.4,753.7 310.7,756.1 311.1,757.9 311.4,761.0 311.8,759.0 312.1,758.6 312.5,756.8 312.8,757.4 313.2,760.5 313.5,755.2 313.9,758.4 314.2,757.0 314.6,757.9 314.9,759.0 315.3,760.3 315.6,759.7 316.0,757.9 316.3,758.5 316.7,758.2 317.0,757.7 317.4,758.9 317.7,760.8 318.1,760.6 318.4,760.4 318.8,757.4 319.1,758.3 319.5,754.4 319.8,758.5 320.2,756.5 320.5,760.1 320.9,765.6 321.2,760.4 321.6,761.9 322.0,760.0 322.3,757.3 322.7,756.6 323.0,759.5 323.4,763.1 323.7,762.2 324.1,757.5 324.4,756.2 324.8,757.3 325.1,761.6 325.5,761.1 325.8,760.5 326.2,762.2 326.5,759.6 326.9,758.8 327.2,757.9 327.6,754.2 327.9,757.9 328.3,759.1 328.6,760.6 329.0,756.0 329.3,754.4 329.7,757.5 330.0,757.7 330.4,760.2 330.7,756.0 331.1,756.1 331.4,754.0 331.8,755.0 332.1,754.4 332.5,755.8 332.8,757.5 333.2,757.4 333.5,752.2 333.9,755.9 334.2,756.4 334.6,753.8 334.9,753.5 335.3,754.9 335.6,756.9 336.0,755.1 336.3,751.8 336.7,753.6 337.0,753.8 337.4,759.0 337.8,752.6 338.1,757.7 338.5,758.2 338.8,755.4 339.2,757.7 339.5,755.3 339.9,757.1 340.2,754.7 340.6,755.7 340.9,753.9 341.3,751.6 341.6,753.8 342.0,753.7 342.3,756.4 342.7,759.3 343.0,757.0 343.4,756.4 343.7,756.3 344.1,752.5 344.4,756.0 344.8,757.0 345.1,757.2 345.5,754.7 345.8,751.0 346.2,752.9 346.5,754.9 346.9,757.8 347.2,758.4 347.6,758.8 347.9,756.3 348.3,756.3 348.6,753.6 349.0,754.8 349.3,756.1 349.7,760.8 350.0,757.8 350.4,753.1 350.7,757.2 351.1,754.1 351.4,754.8 351.8,754.7 352.1,753.0 352.5,757.6 352.8,757.7 353.2,755.0 353.5,755.5 353.9,754.4 354.3,756.7 354.6,755.6 355.0,754.2 355.3,753.9 355.7,754.0 356.0,755.1 356.4,752.6 356.7,753.9 357.1,755.5 357.4,760.5 357.8,759.3 358.1,749.7 358.5,750.5 358.8,751.8 359.2,754.5 359.5,758.6 359.9,757.7 360.2,750.1 360.6,752.6 360.9,753.0 361.3,754.5 361.6,757.1 362.0,752.1 362.3,754.0 362.7,748.7 363.0,750.4 363.4,751.9 363.7,756.5 364.1,751.7 364.4,746.8 364.8,750.0 365.1,748.2 365.5,753.0 365.8,749.7 366.2,747.8 366.5,751.5 366.9,750.5 367.2,752.4 367.6,747.9 367.9,752.9 368.3,750.6 368.6,752.7 369.0,749.5 369.3,746.4 369.7,748.1 370.0,749.6 370.4,752.8 370.8,751.6 371.1,751.1 371.5,750.8 371.8,756.1 372.2,750.2 372.5,751.9 372.9,750.0 373.2,750.4 373.6,749.6 373.9,753.0 374.3,749.3 374.6,747.1 375.0,748.8 375.3,747.0 375.7,750.8 376.0,752.6 376.4,749.3 376.7,750.6 377.1,747.7 377.4,748.1 377.8,748.7 378.1,752.8 378.5,751.3 378.8,748.8 379.2,747.8 379.5,752.9 379.9,749.5 380.2,750.6 380.6,751.2 380.9,733.2 381.3,738.9 381.6,745.3 382.0,746.8 382.3,745.8 382.7,749.1 383.0,750.6 383.4,755.3 383.7,751.8 384.1,751.2 384.4,752.8 384.8,754.1 385.1,756.3 385.5,757.4 385.8,757.2 386.2,755.5 386.6,757.4 386.9,756.5 387.3,757.5 387.6,759.1 388.0,762.0 388.3,763.8 388.7,760.4 389.0,762.2 389.4,763.9 389.7,762.6 390.1,758.7 390.4,755.8 390.8,760.8 391.1,763.3 391.5,763.0 391.8,759.6 392.2,763.6 392.5,764.9 392.9,763.4 393.2,762.2 393.6,757.4 393.9,761.6 394.3,758.2 394.6,761.9 395.0,763.5 395.3,761.9 395.7,764.5 396.0,761.1 396.4,761.3 396.7,761.9 397.1,760.9 397.4,759.3 397.8,762.0 398.1,760.9 398.5,759.1 398.8,758.4 399.2,758.8 399.5,764.3 399.9,762.4 400.2,760.6 400.6,757.8 400.9,756.4 401.3,755.1 401.6,759.4 402.0,760.9 402.3,759.2 402.7,740.4 403.1,745.6 403.4,748.8 403.8,749.2 404.1,753.5 404.5,754.9 404.8,755.6 405.2,757.8 405.5,755.3 405.9,759.0 406.2,755.5 406.6,757.7 406.9,759.6 407.3,758.5 407.6,759.9 408.0,756.5 408.3,754.6 408.7,756.7 409.0,756.4 409.4,759.2 409.7,758.9 410.1,759.8 410.4,759.7 410.8,758.7 411.1,758.6 411.5,757.5 411.8,756.8 412.2,762.0 412.5,755.6 412.9,756.2 413.2,759.3 413.6,759.4 413.9,762.5 414.3,761.3 414.6,756.3 415.0,756.5 415.3,754.2 415.7,759.0 416.0,762.7 416.4,759.9 416.7,761.2 417.1,759.5 417.4,756.6 417.8,757.7 418.1,755.2 418.5,756.6 418.8,758.8 419.2,760.5 419.6,762.4 419.9,759.8 420.3,760.0 420.6,760.2 421.0,761.1 421.3,754.0 421.7,755.2 422.0,759.7 422.4,757.5 422.7,759.7 423.1,761.2 423.4,755.9 423.8,757.4 424.1,758.8 424.5,758.8 424.8,755.3 425.2,757.6 425.5,756.5 425.9,759.3 426.2,759.7 426.6,757.7 426.9,758.6 427.3,756.6 427.6,755.8 428.0,753.6 428.3,755.5 428.7,758.9 429.0,758.4 429.4,758.1 429.7,755.6 430.1,754.6 430.4,756.6 430.8,752.2 431.1,758.2 431.5,755.8 431.8,759.5 432.2,759.0 432.5,754.6 432.9,755.8 433.2,755.5 433.6,756.4 433.9,758.2 434.3,755.9 434.6,754.8 435.0,754.8 435.4,752.7 435.7,754.5 436.1,756.1 436.4,757.2 436.8,757.6 437.1,756.2 437.5,757.9 437.8,752.1 438.2,753.1 438.5,753.8 438.9,756.5 439.2,757.6 439.6,757.9 439.9,756.6 440.3,757.7 440.6,753.5 441.0,754.4 441.3,750.3 441.7,757.6 442.0,761.2 442.4,757.6 442.7,755.4 443.1,751.5 443.4,751.5 443.8,755.8 444.1,756.9 444.5,754.0 444.8,754.4 445.2,753.8 445.5,756.1 445.9,758.1 446.2,756.5 446.6,756.4 446.9,755.8 447.3,751.3 447.6,754.4 448.0,755.4 448.3,757.6 448.7,752.4 449.0,755.8 449.4,754.5 449.7,755.7 450.1,758.8 450.4,753.9 450.8,752.1 451.1,756.3 451.5,753.2 451.9,752.4 452.2,755.2 452.6,754.0 452.9,755.4 453.3,754.6 453.6,752.9 454.0,754.3 454.3,757.5 454.7,753.8 455.0,756.0 455.4,756.3 455.7,754.3 456.1,754.7 456.4,751.3 456.8,751.2 457.1,753.5 457.5,754.0 457.8,757.3 458.2,752.4 458.5,752.6 458.9,751.7 459.2,752.5 459.6,756.2 459.9,751.9 460.3,754.6 460.6,752.2 461.0,751.6 461.3,754.7 461.7,752.9 462.0,754.8 462.4,754.5 462.7,753.5 463.1,752.7 463.4,749.6 463.8,750.2 464.1,752.4 464.5,753.7 464.8,750.6 465.2,754.3 465.5,755.1 465.9,751.5 466.2,750.5 466.6,753.2 466.9,749.6 467.3,750.3 467.7,752.0 468.0,752.5 468.4,752.5 468.7,733.1 469.1,734.4 469.4,736.9 469.8,745.1 470.1,741.5 470.5,742.9 470.8,745.0 471.2,745.3 471.5,750.2 471.9,749.6 472.2,751.5 472.6,745.0 472.9,750.9 473.3,753.9 473.6,750.9 474.0,754.8 474.3,754.1 474.7,755.9 475.0,759.7 475.4,757.3 475.7,754.3 476.1,755.5 476.4,753.1 476.8,753.4 477.1,753.9 477.5,753.7 477.8,758.3 478.2,759.5 478.5,755.9 478.9,758.4 479.2,752.8 479.6,752.8 479.9,753.9 480.3,757.0 480.6,757.2 481.0,756.5 481.3,758.4 481.7,758.0 482.0,759.3 482.4,755.2 482.7,751.2 483.1,752.4 483.4,755.8 483.8,756.2 484.2,757.8 484.5,757.4 484.9,757.0 485.2,757.7 485.6,754.9 485.9,757.9 486.3,755.0 486.6,755.6 487.0,753.4 487.3,756.5 487.7,753.6 488.0,758.9 488.4,754.7 488.7,756.3 489.1,755.8 489.4,753.8 489.8,758.2 490.1,756.5 490.5,759.7 490.8,755.1 491.2,753.1 491.5,749.7 491.9,753.9 492.2,756.3 492.6,755.2 492.9,753.9 493.3,751.1 493.6,757.8 494.0,756.9 494.3,750.1 494.7,749.9 495.0,744.2 495.4,738.7 495.7,746.1 496.1,748.4 496.4,746.8 496.8,744.7 497.1,742.7 497.5,747.1 497.8,746.4 498.2,746.6 498.5,745.9 498.9,746.0 499.2,749.4 499.6,753.2 499.9,751.7 500.3,750.5 500.7,747.4 501.0,745.8 501.4,746.0 501.7,750.7 502.1,751.8 502.4,753.9 502.8,753.7 503.1,751.1 503.5,748.3 503.8,749.3 504.2,747.1 504.5,754.3 504.9,753.4 505.2,751.3 505.6,755.6 505.9,751.8 506.3,752.7 506.6,751.2 507.0,751.9 507.3,751.7 507.7,753.2 508.0,756.1 508.4,751.0 508.7,746.7 509.1,752.5 509.4,752.1 509.8,754.2 510.1,752.0 510.5,754.9 510.8,757.6 511.2,752.1 511.5,753.9 511.9,752.1 512.2,749.7 512.6,751.9 512.9,754.5 513.3,751.4 513.6,750.3 514.0,755.4 514.3,754.8 514.7,755.6 515.0,752.0 515.4,750.8 515.7,752.3 516.1,753.6 516.5,754.4 516.8,757.9 517.2,755.7 517.5,751.0 517.9,750.6 518.2,752.4 518.6,756.8 518.9,754.6 519.3,754.0 519.6,754.1 520.0,752.5 520.3,751.8 520.7,752.6 521.0,756.1 521.4,756.2 521.7,754.1 522.1,754.4 522.4,751.0 522.8,754.5 523.1,756.4 523.5,756.4 523.8,752.2 524.2,758.3 524.5,750.3 524.9,751.2 525.2,752.0 525.6,755.7 525.9,752.6 526.3,754.1 526.6,753.5 527.0,752.7 527.3,755.8 527.7,757.7 528.0,756.4 528.4,754.8 528.7,749.4 529.1,755.6 529.4,742.8 529.8,743.6 530.1,748.8 530.5,754.0 530.8,753.4 531.2,750.7 531.5,757.7 531.9,757.3 532.2,757.0 532.6,758.0 533.0,751.0 533.3,753.4 533.7,754.7 534.0,761.2 534.4,757.9 534.7,755.9 535.1,753.0 535.4,752.5 535.8,754.1 536.1,755.6 536.5,754.7 536.8,758.9 537.2,757.1 537.5,757.0 537.9,758.7 538.2,757.8 538.6,755.0 538.9,751.6 539.3,755.2 539.6,754.4 540.0,758.9 540.3,756.0 540.7,750.9 541.0,753.9 541.4,757.0 541.7,755.6 542.1,755.7 542.4,755.3 542.8,759.1 543.1,757.5 543.5,755.6 543.8,753.7 544.2,750.3 544.5,756.2 544.9,758.4 545.2,754.6 545.6,756.2 545.9,756.1 546.3,754.9 546.6,754.8 547.0,757.0 547.3,753.7 547.7,753.8 548.0,754.6 548.4,755.3 548.8,755.2 549.1,756.1 549.5,756.6 549.8,753.9 550.2,755.0 550.5,753.8 550.9,758.1 551.2,753.5 551.6,754.1 551.9,756.4 552.3,755.0 552.6,754.4 553.0,753.1 553.3,754.6 553.7,751.7 554.0,752.7 554.4,752.7 554.7,747.7 555.1,747.8 555.4,744.8 555.8,737.9 556.1,730.2 556.5,721.8 556.8,710.3 557.2,706.1 557.5,697.9 557.9,700.2 558.2,709.6 558.6,711.9 558.9,718.3 559.3,721.5 559.6,727.2 560.0,731.4 560.3,738.4 560.7,741.1 561.0,745.9 561.4,748.2 561.7,750.5 562.1,752.9 562.4,753.5 562.8,754.0 563.1,753.0 563.5,749.4 563.8,754.5 564.2,761.3 564.5,762.9 564.9,766.8 565.3,763.7 565.6,759.2 566.0,757.6 566.3,761.7 566.7,763.2 567.0,763.1 567.4,765.1 567.7,761.8 568.1,763.9 568.4,761.9 568.8,761.2 569.1,763.3 569.5,760.0 569.8,762.0 570.2,762.4 570.5,757.2 570.9,762.6 571.2,756.2 571.6,755.8 571.9,757.8 572.3,751.2 572.6,756.2 573.0,758.2 573.3,755.7 573.7,755.6 574.0,754.5 574.4,753.1 574.7,755.2 575.1,752.3 575.4,752.0 575.8,753.1 576.1,754.6 576.5,755.9 576.8,750.4 577.2,746.3 577.5,748.6 577.9,749.8 578.2,748.1 578.6,750.8 578.9,752.4 579.3,752.3 579.6,743.9 580.0,742.1 580.3,744.8 580.7,751.2 581.0,751.4 581.4,748.2 581.8,749.7 582.1,753.4 582.5,758.1 582.8,757.1 583.2,758.1 583.5,753.6 583.9,754.6 584.2,758.6 584.6,755.5 584.9,756.4 585.3,752.6 585.6,759.0 586.0,758.0 586.3,759.0 586.7,754.7 587.0,752.6 587.4,759.1 587.7,757.5 588.1,756.7 588.4,758.4 588.8,758.9 589.1,753.6 589.5,753.5 589.8,755.8 590.2,756.8 590.5,758.3 590.9,756.9 591.2,756.5 591.6,757.4 591.9,755.8 592.3,754.9 592.6,755.1 593.0,756.4 593.3,756.6 593.7,755.6 594.0,755.8 594.4,755.9 594.7,757.2 595.1,757.7 595.4,754.2 595.8,757.6 596.1,752.8 596.5,756.2 596.8,754.8 597.2,756.7 597.6,759.0 597.9,752.7 598.3,755.9 598.6,756.3 599.0,755.2 599.3,756.7 599.7,754.7 600.0,755.2 600.4,752.9 600.7,755.5 601.1,755.8 601.4,756.2 601.8,753.2 602.1,757.5 602.5,759.7 602.8,755.8 603.2,753.6 603.5,753.0 603.9,755.6 604.2,758.1 604.6,755.0 604.9,750.4 605.3,754.0 605.6,754.4 606.0,755.2 606.3,755.9 606.7,751.4 607.0,752.0 607.4,751.5 607.7,752.3 608.1,754.4 608.4,752.1 608.8,749.4 609.1,753.0 609.5,753.2 609.8,751.2 610.2,746.5 610.5,746.0 610.9,748.5 611.2,750.6 611.6,748.7 611.9,749.5 612.3,747.6 612.6,747.4 613.0,749.7 613.3,749.2 613.7,750.4 614.1,753.1 614.4,755.4 614.8,752.8 615.1,752.8 615.5,751.1 615.8,750.7 616.2,755.1 616.5,755.4 616.9,752.5 617.2,756.6 617.6,755.3 617.9,756.7 618.3,758.7 618.6,759.2 619.0,758.9 619.3,754.6 619.7,758.2 620.0,757.2 620.4,754.9 620.7,751.9 621.1,758.3 621.4,758.9 621.8,758.8 622.1,759.3 622.5,757.3 622.8,753.0 623.2,755.7 623.5,757.9 623.9,758.0 624.2,760.2 624.6,761.6 624.9,756.1 625.3,754.5 625.6,756.8 626.0,756.7 626.3,757.2 626.7,759.1 627.0,759.5 627.4,757.4 627.7,758.3 628.1,757.0 628.4,758.0 628.8,756.3 629.1,753.1 629.5,755.0 629.9,755.4 630.2,759.1 630.6,762.4 630.9,759.8 631.3,759.6 631.6,756.8 632.0,755.0 632.3,755.7 632.7,756.1 633.0,758.2 633.4,758.5 633.7,762.1 634.1,759.3 634.4,754.4 634.8,756.5 635.1,755.7 635.5,757.7 635.8,760.9 636.2,757.8 636.5,757.6 636.9,758.5 637.2,755.3 637.6,756.7 637.9,757.8 638.3,759.3 638.6,761.5 639.0,761.2 639.3,760.4 639.7,756.0 640.0,751.8 640.4,753.5 640.7,759.3 641.1,759.1 641.4,752.5 641.8,753.0 642.1,754.0 642.5,749.3 642.8,751.5 643.2,747.9 643.5,750.7 643.9,749.6 644.2,755.0 644.6,746.8 644.9,746.2 645.3,741.7 645.6,745.2 646.0,744.8" fill="none" stroke="none" marker-start="url(#m2)" marker-mid="url(#m2)" marker-end="url(#m2)"/>
<rect x="449.9" y="434.1" width="193.6" height="37.8" fill="#fff" stroke="#1a1a1a" stroke-width="1.2"/>
<line x1="456.5" y1="443.7" x2="489.5" y2="443.7" stroke="#7f7f7f" stroke-width="1"/>
<ellipse cx="473.3" cy="460.7" rx="2.45" ry="1.85" fill="none" stroke="#ff0000" stroke-width="1.15"/>
<text class="b" transform="translate(492.60,448.90) scale(1.262,1)" font-size="12.6" text-anchor="start" fill="#000">Spread-Range Ratio</text>
<text class="b" transform="translate(492.60,466.10) scale(1.25,1)" font-size="12.6" text-anchor="start" fill="#000">Conditional Mean</text>
<path d="M29.2,1208.3h7.3M648.2,1208.3h-7.3M29.2,1164.5h7.3M648.2,1164.5h-7.3M29.2,1120.8h7.3M648.2,1120.8h-7.3M29.2,1077.0h7.3M648.2,1077.0h-7.3M29.2,1033.2h7.3M648.2,1033.2h-7.3M29.2,989.5h7.3M648.2,989.5h-7.3M29.2,945.7h7.3M648.2,945.7h-7.3M29.2,902.0h7.3M648.2,902.0h-7.3M29.2,858.2h7.3M648.2,858.2h-7.3M29.2,1208.3v-4.8M29.2,858.2v4.8M111.5,1208.3v-4.8M111.5,858.2v4.8M200.0,1208.3v-4.8M200.0,858.2v4.8M288.5,1208.3v-4.8M288.5,858.2v4.8M377.9,1208.3v-4.8M377.9,858.2v4.8M467.3,1208.3v-4.8M467.3,858.2v4.8M556.3,1208.3v-4.8M556.3,858.2v4.8M646.5,1208.3v-4.8M646.5,858.2v4.8" stroke="#222" stroke-width="1" fill="none"/>
<rect x="29.2" y="858.2" width="619.0" height="350.1" fill="none" stroke="#222" stroke-width="1.4"/>
<text transform="translate(26.00,1212.20) scale(1.28,1)" font-size="10.8" text-anchor="end" fill="#000">0</text>
<text transform="translate(26.00,1168.44) scale(1.28,1)" font-size="10.8" text-anchor="end" fill="#000">0.1</text>
<text transform="translate(26.00,1124.68) scale(1.28,1)" font-size="10.8" text-anchor="end" fill="#000">0.2</text>
<text transform="translate(26.00,1080.91) scale(1.28,1)" font-size="10.8" text-anchor="end" fill="#000">0.3</text>
<text transform="translate(26.00,1037.15) scale(1.28,1)" font-size="10.8" text-anchor="end" fill="#000">0.4</text>
<text transform="translate(26.00,993.39) scale(1.28,1)" font-size="10.8" text-anchor="end" fill="#000">0.5</text>
<text transform="translate(26.00,949.62) scale(1.28,1)" font-size="10.8" text-anchor="end" fill="#000">0.6</text>
<text transform="translate(26.00,905.86) scale(1.28,1)" font-size="10.8" text-anchor="end" fill="#000">0.7</text>
<text transform="translate(26.00,862.10) scale(1.28,1)" font-size="10.8" text-anchor="end" fill="#000">0.8</text>
<text transform="translate(29.20,1220.10) scale(1.28,1)" font-size="10.8" text-anchor="middle" fill="#000">08/1/1</text>
<text transform="translate(111.50,1220.10) scale(1.28,1)" font-size="10.8" text-anchor="middle" fill="#000">2009</text>
<text transform="translate(200.00,1220.10) scale(1.28,1)" font-size="10.8" text-anchor="middle" fill="#000">2010</text>
<text transform="translate(288.50,1220.10) scale(1.28,1)" font-size="10.8" text-anchor="middle" fill="#000">2011</text>
<text transform="translate(377.90,1220.10) scale(1.28,1)" font-size="10.8" text-anchor="middle" fill="#000">2012</text>
<text transform="translate(467.30,1220.10) scale(1.28,1)" font-size="10.8" text-anchor="middle" fill="#000">2013</text>
<text transform="translate(556.30,1220.10) scale(1.28,1)" font-size="10.8" text-anchor="middle" fill="#000">2014</text>
<text transform="translate(646.50,1220.10) scale(1.28,1)" font-size="10.8" text-anchor="middle" fill="#000">14/12/31</text>
<polyline points="29.5,1147.7 29.9,1197.3 30.2,1189.1 30.6,1185.1 30.9,1191.5 31.3,1189.1 31.6,1197.4 32.0,1189.2 32.3,1199.3 32.7,1187.6 33.0,1198.4 33.4,1199.7 33.7,1200.4 34.1,1198.7 34.4,1199.1 34.8,1200.0 35.1,1198.6 35.5,1194.9 35.8,1194.2 36.2,1198.8 36.5,1192.9 36.9,1175.0 37.2,1201.4 37.6,1201.7 37.9,1195.5 38.3,1202.9 38.6,1202.5 39.0,1193.1 39.3,1191.2 39.7,1192.9 40.0,1175.0 40.4,1197.6 40.7,1195.0 41.1,1197.4 41.4,1203.2 41.8,1199.3 42.1,1203.4 42.5,1202.3 42.8,1190.3 43.2,1195.8 43.5,1202.9 43.9,1203.0 44.2,1196.6 44.6,1200.5 44.9,1196.3 45.3,1200.6 45.6,1198.9 46.0,1197.2 46.4,1201.8 46.7,1203.9 47.1,1202.2 47.4,1200.6 47.8,1198.7 48.1,1198.0 48.5,1175.0 48.8,1196.1 49.2,1201.2 49.5,1192.7 49.9,1189.8 50.2,1196.4 50.6,1196.9 50.9,1193.1 51.3,1195.3 51.6,1196.8 52.0,1198.2 52.3,1200.4 52.7,1201.8 53.0,1195.1 53.4,1193.0 53.7,1201.4 54.1,1197.5 54.4,1196.4 54.8,1199.1 55.1,1200.3 55.5,1198.7 55.8,1203.5 56.2,1196.9 56.5,1197.9 56.9,1187.5 57.2,1192.6 57.6,1197.8 57.9,1195.9 58.3,1188.2 58.6,1188.6 59.0,1194.7 59.3,1196.0 59.7,1201.4 60.0,1196.8 60.4,1195.8 60.7,1198.5 61.1,1186.2 61.4,1202.3 61.8,1195.0 62.1,1192.4 62.5,1192.1 62.8,1185.4 63.2,1200.5 63.6,1164.8 63.9,1190.0 64.3,1190.6 64.6,1194.4 65.0,1196.8 65.3,1187.4 65.7,1198.9 66.0,1197.1 66.4,1187.5 66.7,1186.4 67.1,1191.5 67.4,1199.6 67.8,1199.8 68.1,1200.1 68.5,1200.8 68.8,1197.8 69.2,1190.2 69.5,1194.5 69.9,1199.0 70.2,1198.9 70.6,1200.4 70.9,1189.3 71.3,1202.7 71.6,1193.2 72.0,1200.9 72.3,1199.5 72.7,1201.1 73.0,1190.1 73.4,1170.0 73.7,1184.3 74.1,1199.7 74.4,1199.9 74.8,1192.2 75.1,1192.4 75.5,1196.4 75.8,1202.9 76.2,1188.4 76.5,1192.7 76.9,1193.4 77.2,1198.2 77.6,1192.6 77.9,1198.1 78.3,1195.3 78.6,1196.9 79.0,1191.2 79.3,1198.8 79.7,1198.6 80.1,1193.3 80.4,1196.9 80.8,1198.1 81.1,1199.4 81.5,1195.7 81.8,1201.4 82.2,1197.9 82.5,1192.4 82.9,1198.1 83.2,1201.9 83.6,1203.0 83.9,1198.8 84.3,1203.1 84.6,1203.9 85.0,1201.9 85.3,1202.8 85.7,1196.7 86.0,1203.6 86.4,1194.3 86.7,1201.9 87.1,1198.8 87.4,1196.8 87.8,1197.8 88.1,1195.9 88.5,1201.6 88.8,1204.3 89.2,1198.1 89.5,1202.9 89.9,1199.2 90.2,1192.8 90.6,1197.6 90.9,1158.2 91.3,1198.2 91.6,1195.1 92.0,1195.5 92.3,1201.9 92.7,1194.8 93.0,1201.0 93.4,1196.0 93.7,1199.2 94.1,1193.8 94.4,1194.6 94.8,1197.7 95.1,1198.4 95.5,1196.5 95.8,1193.3 96.2,1194.7 96.6,1197.7 96.9,1197.4 97.3,1193.1 97.6,1203.6 98.0,1197.0 98.3,1201.9 98.7,1194.5 99.0,1200.8 99.4,1199.5 99.7,1202.7 100.1,1199.1 100.4,1196.8 100.8,1193.7 101.1,1203.0 101.5,1200.6 101.8,1191.9 102.2,1196.0 102.5,1198.8 102.9,1197.2 103.2,1204.8 103.6,1193.2 103.9,1198.0 104.3,1203.1 104.6,1194.7 105.0,1200.8 105.3,1202.0 105.7,1196.7 106.0,1197.0 106.4,1200.0 106.7,1198.4 107.1,1202.7 107.4,1202.9 107.8,1195.2 108.1,1193.6 108.5,1196.7 108.8,1196.9 109.2,1199.7 109.5,1198.6 109.9,1201.5 110.2,1089.5 110.6,1180.6 110.9,1174.2 111.3,1182.0 111.6,1196.1 112.0,1174.0 112.3,1192.9 112.7,1196.6 113.1,1192.6 113.4,1198.8 113.8,1194.8 114.1,1200.0 114.5,1194.2 114.8,1196.6 115.2,1202.3 115.5,1194.1 115.9,1197.3 116.2,1202.1 116.6,1197.4 116.9,1197.4 117.3,1192.6 117.6,1202.0 118.0,1196.7 118.3,1199.6 118.7,1197.8 119.0,1200.5 119.4,1199.9 119.7,1198.6 120.1,1203.4 120.4,1205.1 120.8,1200.0 121.1,1201.6 121.5,1199.9 121.8,1198.6 122.2,1200.9 122.5,1197.1 122.9,1200.4 123.2,1200.0 123.6,1198.3 123.9,1199.0 124.3,1200.7 124.6,1200.1 125.0,1202.7 125.3,1202.3 125.7,1200.3 126.0,1198.6 126.4,1201.9 126.7,1198.6 127.1,1195.3 127.4,1195.3 127.8,1200.6 128.1,1198.2 128.5,1199.4 128.8,1199.0 129.2,1198.9 129.5,1199.7 129.9,1199.0 130.3,1200.4 130.6,1201.4 131.0,1199.9 131.3,1199.1 131.7,1196.8 132.0,1199.0 132.4,1197.8 132.7,1195.4 133.1,1202.4 133.4,1200.1 133.8,1197.5 134.1,1198.7 134.5,1202.1 134.8,1195.4 135.2,1198.5 135.5,1201.7 135.9,1179.6 136.2,1202.4 136.6,1198.0 136.9,1200.7 137.3,1197.9 137.6,1196.6 138.0,1201.4 138.3,1198.8 138.7,1199.0 139.0,1202.1 139.4,1195.2 139.7,1198.4 140.1,1200.0 140.4,1201.3 140.8,1200.2 141.1,1198.6 141.5,1200.7 141.8,1195.4 142.2,1205.1 142.5,1204.8 142.9,1200.1 143.2,1204.3 143.6,1199.5 143.9,1201.5 144.3,1197.8 144.6,1198.3 145.0,1195.6 145.3,1196.9 145.7,1195.9 146.0,1198.1 146.4,1196.6 146.8,1198.3 147.1,1201.6 147.5,1203.3 147.8,1203.3 148.2,1198.5 148.5,1205.3 148.9,1199.4 149.2,1202.2 149.6,1198.0 149.9,1199.4 150.3,1202.2 150.6,1199.8 151.0,1205.2 151.3,1199.1 151.7,1198.5 152.0,1204.5 152.4,1197.3 152.7,1199.9 153.1,1199.1 153.4,1203.6 153.8,1197.8 154.1,1197.8 154.5,1199.4 154.8,1202.5 155.2,1197.2 155.5,1195.5 155.9,1198.1 156.2,1196.2 156.6,1201.1 156.9,1198.6 157.3,1197.9 157.6,1198.5 158.0,1192.3 158.3,1192.2 158.7,1194.0 159.0,1176.6 159.4,1194.1 159.7,1170.9 160.1,1161.3 160.4,1181.5 160.8,1175.4 161.1,1102.7 161.5,1163.5 161.8,1182.4 162.2,1128.0 162.5,1153.9 162.9,1170.7 163.3,1193.8 163.6,1122.1 164.0,1138.6 164.3,1156.5 164.7,1161.3 165.0,1161.6 165.4,1176.6 165.7,1121.3 166.1,1160.5 166.4,1193.6 166.8,1180.7 167.1,1123.0 167.5,1151.3 167.8,1148.9 168.2,1122.7 168.5,1118.5 168.9,1182.8 169.2,1154.6 169.6,1142.7 169.9,1147.2 170.3,1176.5 170.6,1147.5 171.0,1154.1 171.3,1134.7 171.7,1163.9 172.0,1105.0 172.4,1177.5 172.7,1174.3 173.1,1183.5 173.4,1173.7 173.8,1156.3 174.1,1127.0 174.5,1139.2 174.8,1144.9 175.2,1155.1 175.5,1190.9 175.9,1156.7 176.2,1144.8 176.6,1193.2 176.9,1190.8 177.3,1188.5 177.6,1190.0 178.0,1175.1 178.3,1188.7 178.7,1162.3 179.0,1192.8 179.4,1171.6 179.8,1181.2 180.1,1189.9 180.5,1153.3 180.8,1171.0 181.2,1133.0 181.5,1180.8 181.9,1164.4 182.2,1167.0 182.6,1179.1 182.9,1200.6 183.3,1168.9 183.6,1173.4 184.0,1181.6 184.3,1183.3 184.7,1186.6 185.0,1188.3 185.4,1199.9 185.7,1192.9 186.1,1192.5 186.4,1199.0 186.8,1201.1 187.1,1191.0 187.5,1196.0 187.8,1199.2 188.2,1199.9 188.5,1204.7 188.9,1202.8 189.2,1199.0 189.6,1193.8 189.9,1204.2 190.3,1200.8 190.6,1191.3 191.0,1196.2 191.3,1197.0 191.7,1194.4 192.0,1198.7 192.4,1199.0 192.7,1196.2 193.1,1195.8 193.4,1202.1 193.8,1193.4 194.1,1203.8 194.5,1201.1 194.8,1191.8 195.2,1200.5 195.5,1196.7 195.9,1202.1 196.2,1199.9 196.6,1201.3 197.0,1200.2 197.3,1196.9 197.7,1193.1 198.0,1196.3 198.4,1115.0 198.7,1200.6 199.1,1193.9 199.4,1196.9 199.8,1194.1 200.1,1200.0 200.5,950.0 200.8,1129.5 201.2,1158.8 201.5,1174.3 201.9,1188.5 202.2,1187.0 202.6,1186.8 202.9,1188.2 203.3,1196.7 203.6,1196.6 204.0,1194.2 204.3,1201.1 204.7,1193.8 205.0,1197.4 205.4,1198.3 205.7,1204.7 206.1,1203.3 206.4,1202.0 206.8,1200.7 207.1,1202.3 207.5,1197.6 207.8,1198.4 208.2,1199.9 208.5,1204.5 208.9,1194.7 209.2,1199.3 209.6,1195.0 209.9,1199.0 210.3,1194.5 210.6,1190.1 211.0,1191.0 211.3,1165.5 211.7,1193.1 212.0,1180.0 212.4,1201.2 212.7,1195.3 213.1,1186.4 213.5,1193.2 213.8,1194.4 214.2,1200.6 214.5,1184.6 214.9,1201.0 215.2,1188.3 215.6,1189.5 215.9,1185.3 216.3,1180.9 216.6,1194.6 217.0,1195.0 217.3,1191.4 217.7,1199.2 218.0,1183.1 218.4,1191.2 218.7,1186.5 219.1,1170.0 219.4,1186.7 219.8,1191.8 220.1,1187.1 220.5,1195.1 220.8,1180.0 221.2,1192.6 221.5,1200.8 221.9,1183.8 222.2,1190.7 222.6,1194.9 222.9,1174.1 223.3,1189.4 223.6,1197.9 224.0,1194.1 224.3,1187.7 224.7,1191.9 225.0,1183.0 225.4,1184.4 225.7,1195.9 226.1,1190.5 226.4,1187.5 226.8,1194.0 227.1,1194.5 227.5,1186.7 227.8,1189.2 228.2,1199.5 228.5,1195.4 228.9,1194.8 229.2,1193.0 229.6,1196.7 230.0,1185.3 230.3,1198.1 230.7,1198.7 231.0,1191.8 231.4,1202.8 231.7,1198.8 232.1,1190.4 232.4,1200.0 232.8,1198.0 233.1,1188.0 233.5,1191.2 233.8,1192.9 234.2,1192.1 234.5,1197.2 234.9,1191.8 235.2,1194.5 235.6,1182.0 235.9,1190.8 236.3,1195.3 236.6,1193.6 237.0,1192.9 237.3,1200.2 237.7,1197.9 238.0,1185.4 238.4,1200.3 238.7,1196.7 239.1,1188.3 239.4,1185.4 239.8,1198.7 240.1,1185.7 240.5,1195.4 240.8,1184.3 241.2,1190.7 241.5,1194.8 241.9,1189.5 242.2,1190.2 242.6,1197.3 242.9,1181.4 243.3,1194.9 243.6,1186.8 244.0,1195.7 244.3,1201.4 244.7,1198.8 245.0,1193.1 245.4,1189.1 245.7,1182.5 246.1,1191.9 246.4,1170.7 246.8,1199.0 247.2,1192.5 247.5,1190.7 247.9,1202.3 248.2,1185.1 248.6,1186.0 248.9,1180.0 249.3,1197.4 249.6,1191.6 250.0,1191.7 250.3,1199.2 250.7,1197.0 251.0,1197.6 251.4,1189.1 251.7,1189.4 252.1,1184.1 252.4,1194.3 252.8,1199.3 253.1,1189.2 253.5,1189.5 253.8,1187.9 254.2,1184.4 254.5,1195.2 254.9,1187.0 255.2,1197.3 255.6,1190.1 255.9,1187.1 256.3,1191.5 256.6,1189.3 257.0,1198.7 257.3,1194.8 257.7,1189.2 258.0,1197.6 258.4,1195.7 258.7,1175.9 259.1,1188.0 259.4,1195.2 259.8,1196.3 260.1,1180.2 260.5,1201.3 260.8,1191.8 261.2,1185.2 261.5,1193.3 261.9,1185.6 262.2,1196.2 262.6,1188.9 262.9,1188.3 263.3,1188.5 263.7,1187.3 264.0,1188.1 264.4,1180.7 264.7,1190.5 265.1,1192.8 265.4,1165.0 265.8,1190.5 266.1,1198.0 266.5,1199.6 266.8,1197.1 267.2,1185.3 267.5,1192.9 267.9,1190.9 268.2,1170.5 268.6,1180.2 268.9,1190.3 269.3,1193.8 269.6,1167.0 270.0,1195.4 270.3,1182.6 270.7,1187.3 271.0,1183.0 271.4,1196.4 271.7,1187.3 272.1,1201.4 272.4,1194.3 272.8,1188.2 273.1,1190.5 273.5,1202.1 273.8,1190.8 274.2,1192.0 274.5,1194.7 274.9,1198.3 275.2,1196.2 275.6,1197.7 275.9,1190.3 276.3,1192.6 276.6,1190.0 277.0,1191.9 277.3,1200.9 277.7,1194.4 278.0,1184.5 278.4,1200.5 278.7,1194.1 279.1,1199.3 279.4,1199.8 279.8,1194.7 280.2,1191.9 280.5,1192.5 280.9,1193.8 281.2,1191.7 281.6,1202.3 281.9,1192.3 282.3,1194.0 282.6,1196.8 283.0,1195.9 283.3,1199.8 283.7,1190.8 284.0,1199.4 284.4,1201.9 284.7,1195.9 285.1,1198.7 285.4,1196.2 285.8,1189.0 286.1,1196.6 286.5,1195.1 286.8,1185.5 287.2,1201.7 287.5,1194.2 287.9,1155.8 288.2,1180.5 288.6,1178.4 288.9,1197.0 289.3,1190.8 289.6,1195.0 290.0,1197.3 290.3,1198.8 290.7,1201.6 291.0,1194.0 291.4,1192.4 291.7,1200.5 292.1,1192.6 292.4,1198.7 292.8,1200.5 293.1,1203.7 293.5,1191.4 293.8,1193.1 294.2,1197.7 294.5,1198.1 294.9,1201.6 295.2,1194.1 295.6,1196.6 295.9,1194.1 296.3,1195.4 296.7,1202.0 297.0,1202.4 297.4,1194.7 297.7,1202.8 298.1,1195.3 298.4,1192.8 298.8,1201.7 299.1,1193.9 299.5,1196.3 299.8,1194.4 300.2,1199.5 300.5,1196.6 300.9,1194.8 301.2,1188.5 301.6,1175.7 301.9,1194.5 302.3,1201.7 302.6,1195.1 303.0,1199.5 303.3,1196.7 303.7,1195.3 304.0,1192.5 304.4,1194.1 304.7,1195.5 305.1,1196.6 305.4,1190.8 305.8,1200.3 306.1,1196.1 306.5,1190.6 306.8,1197.3 307.2,1193.1 307.5,1192.8 307.9,1187.5 308.2,1191.8 308.6,1202.6 308.9,1196.2 309.3,1195.1 309.6,1193.1 310.0,1194.8 310.3,1188.0 310.7,1191.9 311.0,1201.3 311.4,1199.3 311.7,1203.6 312.1,1189.0 312.4,1197.1 312.8,1197.2 313.1,1202.5 313.5,1198.7 313.9,1194.9 314.2,1198.6 314.6,1198.6 314.9,1199.5 315.3,1187.9 315.6,1199.3 316.0,1202.3 316.3,1199.2 316.7,1198.5 317.0,1197.4 317.4,1198.1 317.7,1201.5 318.1,1197.9 318.4,1195.3 318.8,1202.3 319.1,1188.2 319.5,1189.7 319.8,1203.4 320.2,1198.7 320.5,1192.8 320.9,1191.2 321.2,1188.9 321.6,1203.3 321.9,1201.3 322.3,1199.1 322.6,1194.2 323.0,1201.1 323.3,1194.5 323.7,1194.4 324.0,1193.2 324.4,1201.6 324.7,1195.1 325.1,1195.7 325.4,1198.1 325.8,1190.1 326.1,1197.4 326.5,1189.1 326.8,1198.7 327.2,1187.5 327.5,1187.7 327.9,1199.5 328.2,1193.8 328.6,1193.8 328.9,1199.9 329.3,1191.6 329.6,1192.3 330.0,1199.3 330.4,1194.2 330.7,1190.7 331.1,1195.7 331.4,1198.4 331.8,1186.4 332.1,1199.5 332.5,1192.8 332.8,1188.9 333.2,1190.5 333.5,1202.2 333.9,1196.0 334.2,1194.8 334.6,1195.2 334.9,1190.9 335.3,1191.2 335.6,1192.9 336.0,1192.3 336.3,1188.5 336.7,1187.1 337.0,1202.0 337.4,1174.5 337.7,1196.6 338.1,1189.6 338.4,1201.2 338.8,1196.5 339.1,1199.9 339.5,1188.1 339.8,1189.2 340.2,1193.3 340.5,1194.5 340.9,1191.7 341.2,1198.6 341.6,1197.1 341.9,1197.9 342.3,1189.7 342.6,1193.4 343.0,1200.1 343.3,1192.1 343.7,1191.3 344.0,1186.8 344.4,1197.0 344.7,1191.9 345.1,1183.1 345.4,1195.8 345.8,1196.0 346.1,1191.6 346.5,1196.8 346.9,1193.9 347.2,1196.9 347.6,1198.2 347.9,1190.0 348.3,1196.2 348.6,1199.3 349.0,1195.8 349.3,1195.0 349.7,1192.8 350.0,1189.9 350.4,1185.2 350.7,1200.2 351.1,1195.6 351.4,1202.1 351.8,1193.0 352.1,1191.7 352.5,1197.7 352.8,1198.9 353.2,1199.2 353.5,1201.0 353.9,1173.5 354.2,1183.8 354.6,1199.7 354.9,1185.5 355.3,1194.6 355.6,1200.6 356.0,1191.2 356.3,1190.2 356.7,1191.9 357.0,1195.4 357.4,1185.0 357.7,1195.5 358.1,1190.7 358.4,1190.6 358.8,1198.5 359.1,1202.0 359.5,1201.6 359.8,1196.0 360.2,1191.7 360.5,1201.7 360.9,1197.4 361.2,1184.8 361.6,1201.5 361.9,1190.5 362.3,1190.9 362.6,1188.5 363.0,1200.2 363.4,1190.5 363.7,1199.8 364.1,1184.5 364.4,1197.3 364.8,1189.7 365.1,1196.7 365.5,1190.4 365.8,1199.8 366.2,1189.1 366.5,1187.0 366.9,1190.4 367.2,1179.4 367.6,1187.5 367.9,1184.6 368.3,1186.0 368.6,1175.4 369.0,1193.8 369.3,1190.7 369.7,1190.1 370.0,1183.7 370.4,1185.6 370.7,1181.3 371.1,1184.6 371.4,1191.1 371.8,1186.8 372.1,1182.5 372.5,1199.9 372.8,1173.8 373.2,1190.1 373.5,1187.9 373.9,1181.8 374.2,1186.3 374.6,1195.5 374.9,1185.6 375.3,1170.5 375.6,1173.5 376.0,1171.2 376.3,1147.0 376.7,1181.3 377.0,1169.9 377.4,1167.0 377.7,1181.9 378.1,1192.2 378.4,1143.4 378.8,1173.8 379.1,1197.3 379.5,1184.5 379.8,1182.7 380.2,1175.6 380.6,1189.5 380.9,1192.5 381.3,1190.6 381.6,1191.5 382.0,1188.8 382.3,1192.2 382.7,1199.0 383.0,1203.3 383.4,1194.0 383.7,1198.7 384.1,1189.0 384.4,1201.2 384.8,1194.6 385.1,1199.1 385.5,1199.7 385.8,1187.9 386.2,1194.9 386.5,1196.6 386.9,1192.7 387.2,1199.5 387.6,1197.7 387.9,1199.0 388.3,1186.8 388.6,1194.6 389.0,1193.5 389.3,1191.4 389.7,1197.0 390.0,1196.9 390.4,1202.6 390.7,1194.3 391.1,1195.2 391.4,1198.3 391.8,1191.3 392.1,1203.0 392.5,1194.8 392.8,1202.0 393.2,1201.3 393.5,1197.5 393.9,1191.0 394.2,1201.5 394.6,1200.9 394.9,1201.6 395.3,1188.1 395.6,1194.7 396.0,1195.2 396.3,1188.3 396.7,1195.8 397.1,1204.0 397.4,1199.2 397.8,1201.7 398.1,1188.6 398.5,1202.4 398.8,1195.9 399.2,1199.4 399.5,1199.1 399.9,1196.9 400.2,1197.6 400.6,1199.9 400.9,1201.7 401.3,1199.5 401.6,1200.9 402.0,1200.3 402.3,1195.4 402.7,1196.6 403.0,1193.7 403.4,1196.7 403.7,1185.8 404.1,1198.9 404.4,1199.9 404.8,1190.1 405.1,1198.4 405.5,1193.8 405.8,1189.7 406.2,1194.6 406.5,1196.0 406.9,1189.0 407.2,1192.0 407.6,1196.6 407.9,1199.6 408.3,1195.4 408.6,1201.2 409.0,1197.9 409.3,1198.8 409.7,1190.8 410.0,1188.2 410.4,1196.4 410.7,1195.1 411.1,1198.6 411.4,1199.8 411.8,1195.1 412.1,1189.3 412.5,1189.8 412.8,1189.2 413.2,1194.1 413.6,1202.5 413.9,1187.3 414.3,1184.8 414.6,1187.4 415.0,1187.4 415.3,1186.2 415.7,1180.3 416.0,1190.5 416.4,1183.2 416.7,1187.9 417.1,1188.6 417.4,1193.0 417.8,1194.5 418.1,1198.7 418.5,1189.1 418.8,1194.2 419.2,1199.0 419.5,1196.9 419.9,1199.0 420.2,1182.7 420.6,1193.6 420.9,1191.2 421.3,1198.8 421.6,1197.9 422.0,1185.5 422.3,1192.9 422.7,1189.9 423.0,1179.1 423.4,1178.2 423.7,1186.8 424.1,1187.9 424.4,1189.1 424.8,1192.5 425.1,1177.0 425.5,1197.9 425.8,1190.6 426.2,1200.7 426.5,1197.9 426.9,1187.2 427.2,1186.7 427.6,1187.3 427.9,1191.7 428.3,1194.5 428.6,1162.5 429.0,1192.4 429.3,1182.5 429.7,1179.9 430.1,1187.0 430.4,1193.8 430.8,1196.3 431.1,1188.1 431.5,1191.7 431.8,1200.5 432.2,1181.4 432.5,1190.0 432.9,1192.4 433.2,1196.0 433.6,1196.0 433.9,1184.4 434.3,1196.3 434.6,1189.2 435.0,1186.0 435.3,1176.9 435.7,1186.1 436.0,1189.8 436.4,1193.0 436.7,1184.3 437.1,1183.2 437.4,1192.7 437.8,1185.9 438.1,1190.4 438.5,1199.4 438.8,1196.3 439.2,1184.2 439.5,1179.5 439.9,1185.0 440.2,1171.0 440.6,1194.7 440.9,1186.5 441.3,1188.0 441.6,1199.7 442.0,1186.6 442.3,1195.4 442.7,1186.9 443.0,1188.0 443.4,1187.1 443.7,1185.3 444.1,1187.8 444.4,1198.1 444.8,1198.1 445.1,1186.6 445.5,1190.0 445.8,1200.7 446.2,1202.2 446.5,1188.5 446.9,1182.3 447.3,1189.4 447.6,1195.1 448.0,1192.6 448.3,1203.2 448.7,1199.4 449.0,1189.8 449.4,1190.9 449.7,1203.3 450.1,1189.7 450.4,1192.8 450.8,1191.0 451.1,1196.2 451.5,1195.0 451.8,1200.3 452.2,1193.7 452.5,1191.2 452.9,1199.7 453.2,1193.5 453.6,1197.9 453.9,1190.5 454.3,1190.8 454.6,1203.6 455.0,1193.2 455.3,1190.6 455.7,1198.1 456.0,1196.3 456.4,1195.9 456.7,1200.5 457.1,1195.7 457.4,1187.7 457.8,1193.1 458.1,1187.9 458.5,1190.7 458.8,1189.7 459.2,1194.5 459.5,1191.7 459.9,1185.5 460.2,1188.2 460.6,1193.7 460.9,1198.7 461.3,1199.6 461.6,1194.1 462.0,1193.2 462.3,1202.7 462.7,1194.1 463.0,1193.6 463.4,1193.9 463.8,1198.1 464.1,1185.7 464.5,1191.6 464.8,1201.4 465.2,1199.0 465.5,1192.1 465.9,1162.0 466.2,1195.0 466.6,1195.7 466.9,1196.8 467.3,1198.0 467.6,1139.7 468.0,1178.8 468.3,1200.5 468.7,1194.5 469.0,1183.4 469.4,1197.1 469.7,1199.7 470.1,1183.9 470.4,1189.8 470.8,1195.9 471.1,1198.4 471.5,1196.9 471.8,1197.7 472.2,1197.3 472.5,1199.6 472.9,1194.1 473.2,1199.0 473.6,1203.1 473.9,1201.8 474.3,1196.4 474.6,1200.9 475.0,1204.0 475.3,1190.2 475.7,1194.7 476.0,1198.9 476.4,1199.2 476.7,1194.7 477.1,1191.1 477.4,1199.6 477.8,1195.2 478.1,1199.7 478.5,1195.5 478.8,1201.5 479.2,1203.4 479.5,1196.4 479.9,1197.2 480.3,1194.2 480.6,1200.0 481.0,1191.4 481.3,1196.5 481.7,1190.6 482.0,1198.6 482.4,1190.8 482.7,1197.4 483.1,1196.4 483.4,1193.4 483.8,1203.4 484.1,1201.5 484.5,1189.3 484.8,1202.8 485.2,1199.4 485.5,1195.1 485.9,1191.3 486.2,1199.5 486.6,1196.6 486.9,1201.7 487.3,1199.0 487.6,1193.4 488.0,1196.0 488.3,1197.4 488.7,1195.7 489.0,1196.7 489.4,1173.0 489.7,1199.0 490.1,1201.3 490.4,1194.9 490.8,1201.9 491.1,1193.7 491.5,1189.2 491.8,1191.6 492.2,1189.3 492.5,1201.7 492.9,1196.7 493.2,1201.0 493.6,1200.7 493.9,1203.5 494.3,1202.3 494.6,1194.7 495.0,1195.3 495.3,1193.4 495.7,1193.8 496.0,1195.1 496.4,1201.1 496.7,1198.4 497.1,1195.4 497.5,1193.5 497.8,1199.6 498.2,1200.1 498.5,1199.9 498.9,1192.1 499.2,1196.2 499.6,1199.4 499.9,1201.1 500.3,1196.8 500.6,1203.7 501.0,1199.3 501.3,1200.7 501.7,1200.9 502.0,1198.1 502.4,1197.6 502.7,1192.0 503.1,1198.7 503.4,1197.0 503.8,1202.0 504.1,1204.1 504.5,1196.0 504.8,1193.1 505.2,1202.8 505.5,1199.9 505.9,1196.6 506.2,1199.6 506.6,1205.3 506.9,1197.4 507.3,1200.7 507.6,1198.5 508.0,1203.2 508.3,1198.3 508.7,1198.0 509.0,1202.8 509.4,1199.7 509.7,1202.8 510.1,1202.5 510.4,1203.4 510.8,1202.2 511.1,1202.8 511.5,1197.7 511.8,1201.3 512.2,1203.7 512.5,1196.8 512.9,1199.1 513.2,1197.8 513.6,1200.5 514.0,1198.4 514.3,1200.4 514.7,1203.0 515.0,1199.7 515.4,1199.5 515.7,1199.5 516.1,1197.5 516.4,1204.4 516.8,1198.8 517.1,1202.2 517.5,1200.5 517.8,1198.2 518.2,1199.1 518.5,1201.6 518.9,1197.0 519.2,1199.2 519.6,1196.2 519.9,1195.1 520.3,1200.2 520.6,1202.4 521.0,1198.3 521.3,1195.9 521.7,1197.3 522.0,1202.3 522.4,1203.5 522.7,1201.5 523.1,1201.4 523.4,1195.6 523.8,1197.3 524.1,1194.4 524.5,1197.5 524.8,1190.5 525.2,1196.9 525.5,1194.9 525.9,1198.6 526.2,1195.0 526.6,1192.3 526.9,1193.5 527.3,1191.1 527.6,1198.9 528.0,1194.3 528.3,1188.3 528.7,1194.7 529.0,1196.3 529.4,1196.5 529.7,1197.9 530.1,1194.6 530.5,1188.8 530.8,1193.1 531.2,1194.9 531.5,1198.7 531.9,1200.0 532.2,1184.9 532.6,1196.8 532.9,1193.7 533.3,1196.7 533.6,1193.2 534.0,1196.2 534.3,1193.3 534.7,1186.6 535.0,1197.8 535.4,1191.4 535.7,1194.0 536.1,1190.5 536.4,1197.5 536.8,1191.9 537.1,1198.8 537.5,1201.9 537.8,1200.2 538.2,1198.7 538.5,1199.4 538.9,1195.6 539.2,1188.4 539.6,1199.5 539.9,1191.6 540.3,1192.9 540.6,1197.6 541.0,1198.6 541.3,1191.7 541.7,1191.4 542.0,1174.7 542.4,1194.4 542.7,1193.5 543.1,1200.1 543.4,1193.0 543.8,1192.1 544.1,1184.2 544.5,1199.9 544.8,1198.2 545.2,1192.9 545.5,1196.8 545.9,1195.8 546.2,1193.2 546.6,1195.1 547.0,1193.4 547.3,1191.2 547.7,1201.0 548.0,1190.6 548.4,1202.8 548.7,1184.1 549.1,1188.7 549.4,1196.7 549.8,1188.1 550.1,1193.9 550.5,1191.0 550.8,1189.3 551.2,1191.2 551.5,1192.7 551.9,1189.7 552.2,1193.8 552.6,1194.9 552.9,1197.9 553.3,1201.2 553.6,1183.6 554.0,1188.3 554.3,1199.7 554.7,1190.2 555.0,1191.0 555.4,1202.3 555.7,1197.4 556.1,1193.4 556.4,1010.6 556.8,1143.5 557.1,1154.1 557.5,1173.8 557.8,1173.4 558.2,1194.8 558.5,1184.5 558.9,1186.2 559.2,1198.9 559.6,1191.8 559.9,1186.3 560.3,1185.0 560.6,1188.9 561.0,1199.0 561.3,1196.4 561.7,1198.8 562.0,1192.0 562.4,1200.3 562.7,1200.9 563.1,1202.6 563.4,1195.8 563.8,1194.9 564.2,1199.1 564.5,1199.7 564.9,1197.0 565.2,1190.7 565.6,1201.5 565.9,1196.0 566.3,1195.1 566.6,1194.3 567.0,1190.5 567.3,1192.3 567.7,1194.4 568.0,1189.0 568.4,1190.5 568.7,1194.1 569.1,1194.2 569.4,1200.4 569.8,1194.4 570.1,1198.7 570.5,1200.1 570.8,1196.0 571.2,1201.9 571.5,1198.9 571.9,1197.0 572.2,1192.7 572.6,1195.8 572.9,1192.3 573.3,1186.0 573.6,1190.0 574.0,1199.5 574.3,1201.6 574.7,1198.4 575.0,1198.2 575.4,1202.1 575.7,1201.3 576.1,1201.2 576.4,1196.5 576.8,1185.4 577.1,1183.5 577.5,1198.4 577.8,1195.5 578.2,1199.8 578.5,1200.7 578.9,1192.9 579.2,1191.9 579.6,1196.2 579.9,1188.9 580.3,1194.3 580.7,1186.1 581.0,1195.2 581.4,1187.2 581.7,1193.2 582.1,1190.8 582.4,1188.1 582.8,1199.1 583.1,1171.0 583.5,1191.7 583.8,1193.1 584.2,1189.4 584.5,1196.2 584.9,1198.7 585.2,1191.5 585.6,1188.9 585.9,1196.0 586.3,1183.3 586.6,1186.5 587.0,1185.5 587.3,1185.8 587.7,1196.1 588.0,1176.2 588.4,1195.1 588.7,1187.8 589.1,1185.7 589.4,1187.9 589.8,1188.6 590.1,1195.3 590.5,1192.5 590.8,1189.1 591.2,1181.2 591.5,1194.0 591.9,1185.1 592.2,1186.5 592.6,1188.4 592.9,1193.0 593.3,1189.8 593.6,1199.2 594.0,1188.0 594.3,1186.6 594.7,1192.3 595.0,1185.3 595.4,1186.4 595.7,1193.6 596.1,1183.0 596.4,1192.1 596.8,1174.2 597.2,1195.2 597.5,1193.9 597.9,1192.7 598.2,1186.4 598.6,1180.1 598.9,1187.1 599.3,1190.7 599.6,1173.7 600.0,1180.9 600.3,1189.6 600.7,1187.9 601.0,1197.5 601.4,1186.6 601.7,1173.9 602.1,1195.2 602.4,1196.5 602.8,1185.4 603.1,1200.5 603.5,1175.6 603.8,1196.7 604.2,1191.7 604.5,1186.8 604.9,1176.4 605.2,1182.5 605.6,1198.3 605.9,1197.2 606.3,1183.7 606.6,1169.0 607.0,1188.4 607.3,1192.8 607.7,1180.9 608.0,1178.1 608.4,1200.7 608.7,1184.5 609.1,1183.4 609.4,1193.7 609.8,1192.8 610.1,1196.6 610.5,1191.3 610.8,1186.3 611.2,1180.2 611.5,1179.7 611.9,1191.5 612.2,1195.3 612.6,1183.6 612.9,1201.6 613.3,1198.5 613.7,1186.6 614.0,1176.9 614.4,1195.8 614.7,1190.0 615.1,1197.7 615.4,1191.6 615.8,1191.8 616.1,1196.2 616.5,1189.5 616.8,1192.9 617.2,1189.3 617.5,1193.4 617.9,1198.9 618.2,1191.6 618.6,1188.2 618.9,1197.3 619.3,1185.9 619.6,1190.9 620.0,1195.4 620.3,1193.1 620.7,1196.0 621.0,1198.5 621.4,1189.6 621.7,1189.9 622.1,1196.7 622.4,1195.3 622.8,1195.6 623.1,1191.5 623.5,1187.8 623.8,1198.1 624.2,1193.5 624.5,1194.9 624.9,1192.7 625.2,1188.7 625.6,1199.4 625.9,1203.1 626.3,1196.3 626.6,1202.0 627.0,1188.2 627.3,1199.0 627.7,1197.2 628.0,1195.0 628.4,1195.2 628.7,1198.2 629.1,1196.2 629.4,1192.7 629.8,1197.9 630.1,1188.8 630.5,1195.4 630.9,1204.2 631.2,1193.6 631.6,1203.1 631.9,1195.9 632.3,1189.2 632.6,1193.4 633.0,1201.7 633.3,1200.7 633.7,1197.5 634.0,1192.5 634.4,1200.7 634.7,1194.2 635.1,1197.0 635.4,1198.3 635.8,1198.5 636.1,1191.7 636.5,1202.9 636.8,1201.9 637.2,1194.6 637.5,1194.2 637.9,1202.2 638.2,1201.1 638.6,1201.7 638.9,1195.5 639.3,1200.0 639.6,1191.9 640.0,1194.5 640.3,1196.2 640.7,1196.3 641.0,1195.1 641.4,1193.4 641.7,1196.0 642.1,1194.7 642.4,1192.1 642.8,1195.2 643.1,1190.1 643.5,1194.8 643.8,1174.7 644.2,1192.4 644.5,1184.0 644.9,1184.4 645.2,1200.3 645.6,1190.1 645.9,1194.5 646.3,1193.1 646.6,1192.9 647.0,1191.7" fill="none" stroke="#7f7f7f" stroke-width="0.9" stroke-linejoin="miter" stroke-miterlimit="2"/>
<marker id="m3" markerUnits="userSpaceOnUse" markerWidth="8" markerHeight="8" refX="4" refY="4" overflow="visible"><ellipse cx="4" cy="4" rx="2.45" ry="1.85" fill="none" stroke="#008000" stroke-width="1.15"/></marker>
<polyline points="29.5,1186.6 29.9,1183.5 30.2,1189.9 30.6,1191.4 30.9,1193.1 31.3,1194.0 31.6,1190.2 32.0,1193.0 32.3,1192.9 32.7,1202.2 33.0,1200.0 33.4,1197.4 33.7,1196.3 34.1,1194.9 34.4,1194.0 34.8,1195.2 35.1,1197.6 35.5,1196.7 35.8,1198.7 36.2,1196.9 36.5,1196.6 36.9,1199.8 37.2,1198.5 37.6,1196.0 37.9,1195.6 38.3,1196.7 38.6,1200.9 39.0,1198.2 39.3,1196.7 39.7,1198.6 40.0,1195.4 40.4,1195.6 40.7,1199.0 41.1,1199.5 41.4,1199.2 41.8,1200.5 42.1,1193.3 42.5,1198.5 42.8,1196.8 43.2,1194.8 43.5,1198.3 43.9,1200.2 44.2,1198.4 44.6,1195.8 44.9,1196.7 45.3,1196.6 45.6,1200.0 46.0,1200.2 46.4,1198.6 46.7,1199.8 47.1,1197.4 47.4,1195.3 47.8,1197.8 48.1,1199.5 48.5,1198.6 48.8,1196.8 49.2,1198.3 49.5,1193.2 49.9,1198.2 50.2,1199.8 50.6,1196.1 50.9,1198.4 51.3,1196.4 51.6,1199.1 52.0,1194.9 52.3,1195.1 52.7,1198.7 53.0,1201.2 53.4,1194.8 53.7,1195.4 54.1,1197.1 54.4,1196.2 54.8,1200.6 55.1,1195.9 55.5,1197.0 55.8,1194.8 56.2,1198.6 56.5,1197.3 56.9,1195.4 57.2,1191.3 57.6,1196.5 57.9,1197.2 58.3,1197.6 58.6,1198.7 59.0,1196.6 59.3,1194.2 59.7,1193.0 60.0,1192.6 60.4,1197.3 60.7,1193.1 61.1,1193.2 61.4,1194.0 61.8,1195.2 62.1,1196.5 62.5,1192.5 62.8,1189.4 63.2,1191.7 63.6,1191.1 63.9,1193.1 64.3,1192.6 64.6,1191.1 65.0,1191.9 65.3,1191.8 65.7,1194.5 66.0,1192.4 66.4,1193.0 66.7,1192.7 67.1,1193.7 67.4,1194.4 67.8,1199.9 68.1,1200.3 68.5,1200.1 68.8,1192.8 69.2,1192.9 69.5,1192.7 69.9,1195.6 70.2,1191.3 70.6,1196.5 70.9,1198.5 71.3,1193.7 71.6,1191.8 72.0,1190.8 72.3,1192.4 72.7,1194.7 73.0,1198.1 73.4,1194.3 73.7,1194.2 74.1,1193.1 74.4,1196.4 74.8,1196.4 75.1,1197.4 75.5,1192.5 75.8,1192.4 76.2,1191.5 76.5,1196.4 76.9,1197.2 77.2,1195.5 77.6,1194.2 77.9,1195.0 78.3,1193.4 78.6,1192.7 79.0,1195.9 79.3,1202.1 79.7,1199.1 80.1,1196.9 80.4,1194.5 80.8,1193.3 81.1,1197.6 81.5,1200.4 81.8,1200.2 82.2,1200.7 82.5,1200.0 82.9,1200.0 83.2,1196.7 83.6,1197.8 83.9,1199.7 84.3,1198.4 84.6,1198.6 85.0,1197.6 85.3,1197.9 85.7,1200.6 86.0,1198.4 86.4,1198.3 86.7,1200.0 87.1,1200.4 87.4,1202.7 87.8,1194.9 88.1,1197.4 88.5,1195.4 88.8,1195.7 89.2,1197.2 89.5,1197.8 89.9,1198.0 90.2,1196.0 90.6,1198.6 90.9,1195.3 91.3,1188.7 91.6,1191.7 92.0,1190.7 92.3,1197.0 92.7,1197.5 93.0,1200.2 93.4,1197.1 93.7,1194.8 94.1,1195.6 94.4,1197.2 94.8,1195.8 95.1,1197.1 95.5,1196.9 95.8,1200.8 96.2,1197.9 96.6,1200.6 96.9,1198.2 97.3,1196.2 97.6,1196.3 98.0,1195.0 98.3,1197.3 98.7,1200.1 99.0,1199.2 99.4,1199.8 99.7,1202.4 100.1,1200.5 100.4,1200.0 100.8,1198.7 101.1,1195.2 101.5,1199.0 101.8,1195.2 102.2,1199.0 102.5,1199.1 102.9,1201.4 103.2,1199.9 103.6,1197.2 103.9,1198.7 104.3,1197.4 104.6,1198.1 105.0,1198.9 105.3,1199.1 105.7,1199.2 106.0,1198.0 106.4,1198.5 106.7,1194.1 107.1,1196.9 107.4,1195.8 107.8,1200.3 108.1,1202.8 108.5,1196.2 108.8,1197.9 109.2,1198.3 109.5,1196.7 109.9,1199.8 110.2,1198.6 110.6,1169.9 110.9,1177.0 111.3,1181.8 111.6,1186.4 112.0,1186.7 112.3,1191.3 112.7,1194.5 113.1,1191.9 113.4,1192.2 113.8,1193.9 114.1,1194.3 114.5,1200.0 114.8,1198.6 115.2,1195.4 115.5,1194.6 115.9,1195.7 116.2,1201.9 116.6,1198.9 116.9,1198.2 117.3,1198.5 117.6,1197.4 118.0,1202.6 118.3,1199.0 118.7,1199.9 119.0,1199.2 119.4,1200.0 119.7,1197.3 120.1,1202.6 120.4,1200.9 120.8,1200.3 121.1,1197.9 121.5,1196.7 121.8,1199.2 122.2,1201.3 122.5,1201.6 122.9,1202.3 123.2,1201.4 123.6,1199.5 123.9,1200.4 124.3,1200.4 124.6,1199.2 125.0,1200.6 125.3,1202.0 125.7,1200.6 126.0,1198.8 126.4,1200.4 126.7,1203.6 127.1,1201.2 127.4,1200.4 127.8,1199.6 128.1,1202.6 128.5,1197.3 128.8,1199.6 129.2,1202.6 129.5,1199.5 129.9,1203.8 130.3,1203.3 130.6,1200.1 131.0,1200.8 131.3,1196.5 131.7,1197.0 132.0,1202.3 132.4,1198.4 132.7,1203.2 133.1,1200.8 133.4,1201.8 133.8,1200.8 134.1,1195.3 134.5,1196.8 134.8,1199.2 135.2,1197.9 135.5,1196.9 135.9,1199.4 136.2,1198.4 136.6,1195.5 136.9,1195.8 137.3,1199.1 137.6,1198.0 138.0,1200.8 138.3,1203.1 138.7,1200.4 139.0,1196.9 139.4,1194.7 139.7,1196.9 140.1,1200.3 140.4,1200.5 140.8,1201.1 141.1,1199.2 141.5,1200.4 141.8,1199.5 142.2,1199.8 142.5,1198.2 142.9,1196.7 143.2,1198.5 143.6,1197.1 143.9,1196.5 144.3,1199.7 144.6,1198.9 145.0,1204.9 145.3,1203.2 145.7,1198.5 146.0,1199.9 146.4,1200.3 146.8,1198.8 147.1,1202.4 147.5,1199.4 147.8,1193.4 148.2,1199.6 148.5,1198.7 148.9,1203.5 149.2,1200.7 149.6,1197.3 149.9,1201.9 150.3,1198.0 150.6,1199.4 151.0,1202.4 151.3,1200.6 151.7,1199.6 152.0,1199.2 152.4,1200.0 152.7,1197.2 153.1,1199.3 153.4,1199.9 153.8,1204.2 154.1,1200.3 154.5,1197.1 154.8,1199.1 155.2,1197.8 155.5,1199.2 155.9,1200.1 156.2,1202.7 156.6,1199.7 156.9,1199.6 157.3,1194.3 157.6,1196.0 158.0,1202.1 158.3,1195.3 158.7,1189.4 159.0,1180.8 159.4,1180.3 159.7,1178.1 160.1,1169.3 160.4,1172.0 160.8,1168.7 161.1,1170.5 161.5,1163.0 161.8,1176.0 162.2,1172.0 162.5,1166.4 162.9,1160.5 163.3,1158.8 163.6,1166.9 164.0,1161.4 164.3,1169.2 164.7,1170.0 165.0,1175.8 165.4,1174.3 165.7,1166.4 166.1,1149.0 166.4,1159.0 166.8,1168.6 167.1,1169.6 167.5,1171.7 167.8,1163.0 168.2,1160.3 168.5,1156.5 168.9,1172.7 169.2,1170.0 169.6,1162.8 169.9,1153.4 170.3,1156.3 170.6,1170.1 171.0,1168.1 171.3,1157.1 171.7,1166.7 172.0,1170.6 172.4,1169.5 172.7,1168.8 173.1,1169.5 173.4,1166.2 173.8,1166.1 174.1,1156.8 174.5,1170.4 174.8,1167.0 175.2,1180.1 175.5,1155.1 175.9,1163.8 176.2,1170.8 176.6,1164.5 176.9,1169.7 177.3,1171.9 177.6,1171.2 178.0,1163.1 178.3,1162.3 178.7,1171.2 179.0,1177.1 179.4,1172.1 179.8,1170.6 180.1,1170.9 180.5,1180.0 180.8,1170.2 181.2,1164.2 181.5,1172.8 181.9,1168.8 182.2,1171.9 182.6,1179.1 182.9,1183.6 183.3,1178.4 183.6,1188.2 184.0,1179.4 184.3,1188.4 184.7,1184.8 185.0,1186.0 185.4,1193.4 185.7,1193.4 186.1,1193.6 186.4,1194.6 186.8,1197.7 187.1,1198.5 187.5,1198.6 187.8,1200.5 188.2,1197.2 188.5,1196.0 188.9,1195.4 189.2,1198.9 189.6,1200.1 189.9,1201.3 190.3,1198.6 190.6,1196.8 191.0,1198.7 191.3,1197.1 191.7,1199.5 192.0,1199.9 192.4,1196.3 192.7,1196.2 193.1,1196.1 193.4,1200.8 193.8,1205.0 194.1,1200.8 194.5,1199.5 194.8,1193.6 195.2,1197.3 195.5,1199.1 195.9,1197.6 196.2,1201.3 196.6,1197.1 197.0,1197.9 197.3,1199.4 197.7,1197.2 198.0,1200.9 198.4,1202.5 198.7,1198.1 199.1,1196.1 199.4,1199.3 199.8,1199.6 200.1,1197.1 200.5,1136.7 200.8,1153.6 201.2,1165.6 201.5,1176.1 201.9,1181.7 202.2,1188.5 202.6,1191.7 202.9,1192.7 203.3,1194.7 203.6,1196.7 204.0,1196.7 204.3,1193.0 204.7,1196.2 205.0,1196.2 205.4,1199.6 205.7,1198.0 206.1,1198.1 206.4,1197.9 206.8,1201.0 207.1,1199.5 207.5,1197.9 207.8,1198.5 208.2,1196.8 208.5,1197.9 208.9,1198.1 209.2,1198.0 209.6,1200.6 209.9,1196.1 210.3,1194.7 210.6,1192.8 211.0,1193.1 211.3,1190.1 211.7,1189.8 212.0,1191.3 212.4,1193.1 212.7,1192.3 213.1,1190.5 213.5,1188.7 213.8,1190.7 214.2,1194.0 214.5,1193.0 214.9,1192.2 215.2,1191.9 215.6,1188.6 215.9,1188.9 216.3,1188.8 216.6,1189.4 217.0,1189.0 217.3,1185.6 217.7,1188.9 218.0,1191.2 218.4,1188.2 218.7,1187.7 219.1,1186.8 219.4,1187.3 219.8,1182.8 220.1,1187.6 220.5,1185.6 220.8,1188.6 221.2,1187.9 221.5,1186.4 221.9,1186.9 222.2,1189.9 222.6,1187.5 222.9,1187.6 223.3,1187.4 223.6,1184.5 224.0,1190.4 224.3,1191.4 224.7,1190.2 225.0,1192.1 225.4,1188.4 225.7,1189.9 226.1,1195.0 226.4,1195.5 226.8,1189.1 227.1,1183.7 227.5,1186.3 227.8,1192.7 228.2,1192.5 228.5,1192.4 228.9,1193.3 229.2,1190.1 229.6,1191.6 230.0,1193.4 230.3,1193.6 230.7,1193.5 231.0,1190.4 231.4,1191.8 231.7,1191.2 232.1,1195.0 232.4,1199.5 232.8,1193.8 233.1,1187.9 233.5,1189.2 233.8,1192.1 234.2,1195.2 234.5,1196.7 234.9,1192.5 235.2,1190.6 235.6,1194.1 235.9,1190.6 236.3,1193.9 236.6,1192.1 237.0,1193.5 237.3,1194.3 237.7,1194.5 238.0,1194.9 238.4,1190.7 238.7,1191.9 239.1,1192.2 239.4,1193.3 239.8,1196.1 240.1,1193.7 240.5,1191.8 240.8,1190.6 241.2,1191.0 241.5,1193.8 241.9,1191.9 242.2,1195.1 242.6,1194.3 242.9,1193.1 243.3,1190.0 243.6,1191.4 244.0,1193.2 244.3,1188.6 244.7,1192.3 245.0,1194.3 245.4,1192.6 245.7,1192.3 246.1,1196.0 246.4,1195.4 246.8,1191.4 247.2,1191.4 247.5,1191.3 247.9,1191.8 248.2,1187.5 248.6,1191.9 248.9,1190.9 249.3,1192.4 249.6,1192.2 250.0,1193.3 250.3,1191.5 250.7,1189.1 251.0,1190.9 251.4,1193.7 251.7,1190.9 252.1,1193.5 252.4,1191.8 252.8,1189.5 253.1,1193.2 253.5,1189.9 253.8,1193.0 254.2,1190.8 254.5,1191.7 254.9,1188.7 255.2,1188.1 255.6,1192.0 255.9,1192.0 256.3,1192.0 256.6,1190.6 257.0,1191.8 257.3,1188.6 257.7,1187.8 258.0,1189.5 258.4,1188.7 258.7,1188.2 259.1,1188.7 259.4,1188.1 259.8,1187.5 260.1,1191.3 260.5,1191.6 260.8,1192.2 261.2,1190.1 261.5,1188.2 261.9,1185.3 262.2,1186.3 262.6,1182.9 262.9,1184.8 263.3,1188.3 263.7,1191.5 264.0,1191.2 264.4,1186.5 264.7,1186.9 265.1,1183.8 265.4,1186.1 265.8,1184.6 266.1,1185.8 266.5,1190.2 266.8,1188.0 267.2,1189.8 267.5,1185.9 267.9,1183.2 268.2,1186.9 268.6,1190.1 268.9,1187.1 269.3,1187.5 269.6,1184.7 270.0,1187.1 270.3,1191.2 270.7,1190.8 271.0,1189.7 271.4,1187.2 271.7,1190.6 272.1,1193.1 272.4,1194.0 272.8,1193.8 273.1,1190.0 273.5,1195.5 273.8,1194.3 274.2,1193.8 274.5,1195.5 274.9,1189.3 275.2,1191.5 275.6,1192.8 275.9,1194.6 276.3,1197.8 276.6,1196.8 277.0,1191.6 277.3,1193.0 277.7,1194.8 278.0,1195.8 278.4,1193.3 278.7,1191.3 279.1,1194.9 279.4,1196.8 279.8,1197.1 280.2,1192.6 280.5,1197.9 280.9,1190.1 281.2,1192.6 281.6,1198.7 281.9,1196.4 282.3,1196.6 282.6,1192.9 283.0,1196.9 283.3,1193.2 283.7,1195.3 284.0,1196.1 284.4,1193.7 284.7,1197.2 285.1,1193.3 285.4,1193.0 285.8,1194.4 286.1,1194.1 286.5,1196.2 286.8,1197.9 287.2,1195.7 287.5,1194.1 287.9,1185.0 288.2,1187.5 288.6,1192.3 288.9,1192.4 289.3,1194.2 289.6,1194.0 290.0,1192.0 290.3,1195.5 290.7,1192.9 291.0,1194.6 291.4,1198.8 291.7,1195.2 292.1,1196.2 292.4,1193.2 292.8,1194.2 293.1,1192.5 293.5,1193.9 293.8,1194.0 294.2,1195.1 294.5,1198.8 294.9,1197.5 295.2,1198.1 295.6,1196.6 295.9,1195.2 296.3,1193.6 296.7,1190.9 297.0,1193.6 297.4,1198.4 297.7,1198.1 298.1,1195.9 298.4,1199.5 298.8,1196.6 299.1,1194.9 299.5,1192.9 299.8,1192.8 300.2,1194.8 300.5,1200.6 300.9,1198.7 301.2,1195.6 301.6,1194.8 301.9,1195.1 302.3,1192.3 302.6,1195.4 303.0,1198.2 303.3,1198.2 303.7,1198.4 304.0,1194.4 304.4,1191.6 304.7,1197.1 305.1,1199.1 305.4,1194.3 305.8,1195.8 306.1,1195.6 306.5,1196.9 306.8,1197.1 307.2,1195.6 307.5,1197.3 307.9,1198.2 308.2,1198.6 308.6,1194.9 308.9,1190.4 309.3,1193.2 309.6,1192.7 310.0,1196.6 310.3,1198.7 310.7,1198.0 311.0,1195.9 311.4,1195.4 311.7,1197.6 312.1,1194.2 312.4,1196.5 312.8,1196.8 313.1,1196.2 313.5,1199.0 313.9,1195.6 314.2,1197.8 314.6,1195.1 314.9,1194.3 315.3,1193.9 315.6,1196.6 316.0,1194.6 316.3,1195.5 316.7,1192.8 317.0,1196.0 317.4,1198.7 317.7,1196.1 318.1,1198.5 318.4,1196.5 318.8,1199.4 319.1,1196.9 319.5,1192.3 319.8,1197.8 320.2,1196.8 320.5,1195.2 320.9,1194.9 321.2,1192.0 321.6,1194.7 321.9,1194.2 322.3,1199.5 322.6,1200.3 323.0,1195.2 323.3,1193.1 323.7,1194.2 324.0,1192.1 324.4,1195.2 324.7,1195.9 325.1,1193.9 325.4,1193.3 325.8,1194.6 326.1,1197.3 326.5,1198.6 326.8,1195.9 327.2,1196.2 327.5,1193.2 327.9,1195.0 328.2,1193.1 328.6,1195.7 328.9,1193.2 329.3,1192.5 329.6,1194.4 330.0,1196.1 330.4,1192.9 330.7,1193.0 331.1,1194.4 331.4,1194.8 331.8,1192.6 332.1,1193.6 332.5,1193.6 332.8,1197.3 333.2,1196.8 333.5,1192.2 333.9,1188.0 334.2,1191.1 334.6,1195.6 334.9,1195.3 335.3,1196.3 335.6,1193.0 336.0,1190.0 336.3,1193.4 336.7,1193.7 337.0,1195.1 337.4,1191.3 337.7,1192.8 338.1,1192.1 338.4,1194.6 338.8,1192.9 339.1,1191.9 339.5,1191.9 339.8,1196.0 340.2,1195.0 340.5,1193.1 340.9,1191.8 341.2,1190.9 341.6,1196.0 341.9,1191.2 342.3,1190.7 342.6,1193.4 343.0,1195.3 343.3,1193.6 343.7,1194.1 344.0,1194.0 344.4,1194.2 344.7,1192.8 345.1,1195.5 345.4,1194.0 345.8,1196.8 346.1,1192.5 346.5,1195.2 346.9,1191.9 347.2,1190.2 347.6,1193.9 347.9,1192.3 348.3,1195.0 348.6,1192.5 349.0,1196.7 349.3,1195.4 349.7,1192.0 350.0,1192.9 350.4,1194.4 350.7,1191.8 351.1,1193.6 351.4,1197.3 351.8,1196.8 352.1,1195.6 352.5,1193.7 352.8,1195.8 353.2,1192.2 353.5,1187.4 353.9,1190.6 354.2,1191.3 354.6,1197.8 354.9,1197.1 355.3,1193.6 355.6,1191.5 356.0,1193.9 356.3,1192.5 356.7,1192.3 357.0,1192.8 357.4,1192.7 357.7,1193.1 358.1,1192.5 358.4,1194.7 358.8,1196.2 359.1,1189.7 359.5,1196.0 359.8,1193.4 360.2,1194.9 360.5,1191.3 360.9,1191.4 361.2,1192.0 361.6,1192.0 361.9,1193.7 362.3,1193.5 362.6,1190.0 363.0,1190.3 363.4,1192.4 363.7,1193.6 364.1,1192.3 364.4,1191.1 364.8,1190.8 365.1,1188.7 365.5,1187.4 365.8,1192.6 366.2,1190.0 366.5,1189.7 366.9,1187.2 367.2,1190.3 367.6,1192.5 367.9,1188.6 368.3,1188.6 368.6,1185.2 369.0,1189.2 369.3,1189.4 369.7,1185.3 370.0,1188.1 370.4,1187.2 370.7,1187.0 371.1,1186.8 371.4,1184.3 371.8,1183.1 372.1,1185.0 372.5,1184.5 372.8,1182.3 373.2,1187.4 373.5,1184.2 373.9,1181.8 374.2,1180.1 374.6,1182.4 374.9,1184.5 375.3,1183.7 375.6,1184.4 376.0,1179.1 376.3,1179.7 376.7,1175.9 377.0,1178.5 377.4,1181.6 377.7,1177.4 378.1,1187.1 378.4,1183.1 378.8,1185.1 379.1,1188.1 379.5,1189.6 379.8,1190.5 380.2,1184.6 380.6,1187.3 380.9,1193.1 381.3,1192.6 381.6,1193.0 382.0,1190.3 382.3,1196.3 382.7,1197.9 383.0,1195.5 383.4,1195.7 383.7,1195.2 384.1,1192.8 384.4,1193.7 384.8,1195.2 385.1,1196.4 385.5,1198.6 385.8,1197.0 386.2,1194.9 386.5,1196.0 386.9,1194.4 387.2,1192.4 387.6,1197.1 387.9,1195.6 388.3,1196.1 388.6,1197.4 389.0,1193.7 389.3,1196.4 389.7,1197.6 390.0,1197.1 390.4,1198.3 390.7,1195.9 391.1,1191.7 391.4,1194.4 391.8,1194.1 392.1,1197.7 392.5,1197.6 392.8,1195.2 393.2,1195.2 393.5,1197.9 393.9,1198.9 394.2,1197.7 394.6,1197.1 394.9,1195.3 395.3,1195.4 395.6,1197.8 396.0,1197.8 396.3,1198.9 396.7,1196.0 397.1,1193.1 397.4,1192.2 397.8,1194.9 398.1,1199.9 398.5,1201.5 398.8,1197.3 399.2,1193.6 399.5,1196.9 399.9,1197.7 400.2,1194.2 400.6,1197.3 400.9,1196.2 401.3,1198.6 401.6,1197.6 402.0,1198.0 402.3,1197.0 402.7,1193.9 403.0,1194.7 403.4,1193.9 403.7,1196.7 404.1,1193.5 404.4,1190.3 404.8,1194.0 405.1,1196.6 405.5,1198.6 405.8,1198.4 406.2,1192.7 406.5,1192.0 406.9,1192.1 407.2,1193.8 407.6,1190.0 407.9,1192.2 408.3,1193.6 408.6,1191.0 409.0,1191.9 409.3,1193.9 409.7,1192.1 410.0,1193.6 410.4,1193.7 410.7,1192.6 411.1,1192.5 411.4,1190.6 411.8,1193.7 412.1,1191.5 412.5,1189.9 412.8,1192.3 413.2,1190.1 413.6,1191.7 413.9,1193.6 414.3,1192.4 414.6,1192.5 415.0,1193.8 415.3,1194.0 415.7,1189.9 416.0,1188.8 416.4,1194.2 416.7,1195.0 417.1,1190.0 417.4,1189.0 417.8,1191.1 418.1,1190.4 418.5,1193.3 418.8,1192.7 419.2,1193.2 419.5,1189.5 419.9,1191.3 420.2,1194.9 420.6,1190.4 420.9,1193.4 421.3,1193.8 421.6,1193.2 422.0,1191.5 422.3,1187.7 422.7,1186.7 423.0,1189.8 423.4,1191.8 423.7,1193.5 424.1,1193.3 424.4,1192.6 424.8,1189.5 425.1,1186.9 425.5,1189.2 425.8,1191.4 426.2,1191.6 426.5,1188.3 426.9,1188.6 427.2,1186.6 427.6,1189.2 427.9,1187.4 428.3,1188.6 428.6,1190.6 429.0,1190.6 429.3,1193.0 429.7,1188.1 430.1,1183.5 430.4,1188.3 430.8,1191.5 431.1,1193.7 431.5,1192.1 431.8,1191.3 432.2,1190.4 432.5,1186.7 432.9,1187.3 433.2,1190.1 433.6,1188.9 433.9,1193.9 434.3,1188.5 434.6,1188.7 435.0,1192.5 435.3,1189.8 435.7,1187.8 436.0,1185.9 436.4,1186.4 436.7,1191.6 437.1,1191.4 437.4,1191.4 437.8,1188.9 438.1,1190.5 438.5,1189.7 438.8,1187.1 439.2,1187.0 439.5,1187.7 439.9,1190.6 440.2,1189.6 440.6,1190.1 440.9,1193.5 441.3,1189.1 441.6,1186.5 442.0,1190.3 442.3,1191.0 442.7,1190.8 443.0,1191.3 443.4,1190.2 443.7,1192.2 444.1,1191.4 444.4,1193.7 444.8,1190.5 445.1,1189.8 445.5,1192.0 445.8,1191.6 446.2,1194.5 446.5,1194.3 446.9,1193.4 447.3,1194.9 447.6,1194.1 448.0,1191.8 448.3,1191.5 448.7,1192.0 449.0,1192.7 449.4,1193.9 449.7,1196.0 450.1,1195.6 450.4,1197.5 450.8,1197.3 451.1,1193.9 451.5,1196.4 451.8,1196.5 452.2,1193.2 452.5,1193.6 452.9,1195.3 453.2,1194.6 453.6,1196.2 453.9,1195.6 454.3,1195.9 454.6,1194.4 455.0,1195.3 455.3,1194.0 455.7,1195.7 456.0,1191.4 456.4,1193.7 456.7,1197.1 457.1,1197.2 457.4,1196.2 457.8,1196.6 458.1,1193.6 458.5,1192.8 458.8,1193.4 459.2,1194.5 459.5,1197.7 459.9,1194.9 460.2,1197.3 460.6,1192.8 460.9,1193.0 461.3,1194.9 461.6,1198.1 462.0,1196.2 462.3,1191.8 462.7,1195.5 463.0,1196.1 463.4,1194.3 463.8,1193.7 464.1,1193.2 464.5,1194.9 464.8,1197.0 465.2,1192.8 465.5,1199.0 465.9,1195.9 466.2,1193.6 466.6,1195.1 466.9,1194.3 467.3,1199.6 467.6,1199.3 468.0,1183.2 468.3,1185.0 468.7,1186.3 469.0,1188.5 469.4,1192.6 469.7,1191.6 470.1,1196.8 470.4,1195.8 470.8,1195.1 471.1,1197.5 471.5,1192.1 471.8,1192.3 472.2,1196.0 472.5,1196.4 472.9,1197.2 473.2,1198.4 473.6,1196.2 473.9,1196.6 474.3,1194.4 474.6,1191.9 475.0,1197.5 475.3,1195.2 475.7,1194.8 476.0,1198.9 476.4,1199.8 476.7,1196.9 477.1,1195.4 477.4,1195.5 477.8,1193.7 478.1,1196.4 478.5,1196.1 478.8,1195.5 479.2,1196.9 479.5,1197.1 479.9,1200.0 480.3,1201.1 480.6,1194.3 481.0,1197.3 481.3,1194.5 481.7,1192.8 482.0,1197.3 482.4,1196.0 482.7,1196.4 483.1,1199.1 483.4,1196.0 483.8,1194.7 484.1,1196.7 484.5,1199.6 484.8,1199.2 485.2,1194.0 485.5,1193.3 485.9,1193.8 486.2,1199.1 486.6,1199.1 486.9,1198.6 487.3,1199.2 487.6,1196.2 488.0,1196.8 488.3,1197.7 488.7,1194.8 489.0,1195.8 489.4,1197.2 489.7,1194.5 490.1,1197.6 490.4,1198.3 490.8,1199.0 491.1,1195.7 491.5,1195.9 491.8,1198.8 492.2,1198.8 492.5,1195.6 492.9,1195.5 493.2,1198.2 493.6,1196.5 493.9,1197.2 494.3,1202.3 494.6,1198.6 495.0,1197.2 495.3,1194.9 495.7,1194.9 496.0,1200.3 496.4,1199.0 496.7,1196.3 497.1,1195.2 497.5,1196.8 497.8,1199.4 498.2,1197.2 498.5,1198.9 498.9,1197.0 499.2,1198.0 499.6,1198.9 499.9,1199.7 500.3,1197.9 500.6,1197.6 501.0,1198.8 501.3,1195.5 501.7,1197.6 502.0,1199.1 502.4,1201.2 502.7,1200.0 503.1,1198.8 503.4,1199.0 503.8,1197.6 504.1,1198.5 504.5,1200.8 504.8,1201.4 505.2,1199.0 505.5,1199.3 505.9,1195.8 506.2,1200.8 506.6,1200.1 506.9,1201.1 507.3,1198.9 507.6,1199.5 508.0,1201.2 508.3,1203.2 508.7,1199.0 509.0,1201.8 509.4,1201.0 509.7,1199.6 510.1,1201.9 510.4,1200.9 510.8,1200.6 511.1,1199.7 511.5,1201.2 511.8,1201.5 512.2,1200.7 512.5,1198.6 512.9,1198.0 513.2,1199.8 513.6,1202.8 514.0,1201.0 514.3,1203.3 514.7,1201.0 515.0,1197.4 515.4,1199.9 515.7,1197.4 516.1,1199.1 516.4,1201.2 516.8,1198.7 517.1,1198.0 517.5,1203.1 517.8,1200.5 518.2,1199.6 518.5,1200.7 518.9,1198.9 519.2,1199.0 519.6,1200.3 519.9,1194.7 520.3,1200.6 520.6,1198.1 521.0,1196.8 521.3,1200.0 521.7,1199.9 522.0,1197.6 522.4,1199.7 522.7,1197.3 523.1,1197.2 523.4,1195.2 523.8,1195.2 524.1,1197.9 524.5,1198.3 524.8,1198.7 525.2,1199.4 525.5,1197.4 525.9,1195.0 526.2,1194.8 526.6,1198.9 526.9,1197.2 527.3,1197.0 527.6,1195.8 528.0,1196.1 528.3,1197.1 528.7,1196.5 529.0,1195.7 529.4,1193.7 529.7,1192.6 530.1,1195.1 530.5,1196.7 530.8,1197.6 531.2,1196.2 531.5,1193.2 531.9,1194.9 532.2,1195.3 532.6,1191.3 532.9,1194.8 533.3,1195.4 533.6,1198.6 534.0,1194.2 534.3,1191.8 534.7,1195.7 535.0,1192.4 535.4,1193.6 535.7,1192.9 536.1,1192.3 536.4,1190.2 536.8,1192.5 537.1,1195.7 537.5,1195.5 537.8,1194.9 538.2,1192.8 538.5,1195.7 538.9,1195.4 539.2,1196.5 539.6,1191.3 539.9,1193.3 540.3,1191.2 540.6,1193.4 541.0,1194.2 541.3,1191.1 541.7,1192.8 542.0,1195.7 542.4,1195.8 542.7,1196.1 543.1,1192.5 543.4,1191.2 543.8,1189.9 544.1,1192.4 544.5,1195.9 544.8,1195.7 545.2,1194.9 545.5,1192.2 545.9,1194.5 546.2,1194.6 546.6,1190.7 547.0,1189.3 547.3,1191.6 547.7,1191.7 548.0,1196.8 548.4,1195.4 548.7,1191.8 549.1,1191.1 549.4,1194.8 549.8,1191.2 550.1,1193.4 550.5,1193.2 550.8,1195.2 551.2,1194.2 551.5,1191.4 551.9,1191.9 552.2,1191.1 552.6,1193.0 552.9,1191.8 553.3,1195.6 553.6,1192.8 554.0,1192.7 554.3,1190.2 554.7,1190.9 555.0,1191.7 555.4,1192.3 555.7,1194.5 556.1,1192.5 556.4,1145.0 556.8,1161.4 557.1,1170.0 557.5,1176.0 557.8,1184.2 558.2,1188.1 558.5,1183.9 558.9,1187.3 559.2,1192.0 559.6,1195.0 559.9,1194.0 560.3,1197.7 560.6,1194.2 561.0,1194.0 561.3,1195.2 561.7,1195.1 562.0,1197.5 562.4,1198.8 562.7,1196.5 563.1,1198.6 563.4,1194.7 563.8,1194.2 564.2,1198.5 564.5,1196.9 564.9,1198.5 565.2,1195.8 565.6,1194.9 565.9,1195.0 566.3,1195.4 566.6,1194.6 567.0,1194.7 567.3,1195.9 567.7,1197.7 568.0,1196.6 568.4,1196.7 568.7,1197.0 569.1,1192.8 569.4,1190.1 569.8,1196.0 570.1,1198.4 570.5,1196.9 570.8,1196.8 571.2,1193.3 571.5,1191.3 571.9,1194.2 572.2,1191.1 572.6,1194.5 572.9,1192.3 573.3,1192.8 573.6,1196.9 574.0,1198.3 574.3,1194.3 574.7,1194.9 575.0,1190.7 575.4,1190.1 575.7,1192.2 576.1,1195.6 576.4,1193.1 576.8,1193.7 577.1,1192.8 577.5,1189.4 577.8,1190.3 578.2,1194.3 578.5,1192.4 578.9,1192.4 579.2,1192.4 579.6,1188.5 579.9,1191.5 580.3,1193.5 580.7,1194.9 581.0,1195.2 581.4,1191.4 581.7,1189.5 582.1,1188.1 582.4,1187.7 582.8,1187.8 583.1,1191.9 583.5,1194.6 583.8,1191.3 584.2,1193.0 584.5,1189.0 584.9,1189.4 585.2,1188.6 585.6,1186.7 585.9,1190.0 586.3,1191.3 586.6,1190.8 587.0,1190.0 587.3,1188.5 587.7,1189.6 588.0,1189.0 588.4,1190.1 588.7,1187.0 589.1,1188.5 589.4,1189.8 589.8,1192.3 590.1,1193.1 590.5,1190.9 590.8,1187.6 591.2,1184.3 591.5,1187.3 591.9,1192.1 592.2,1195.0 592.6,1186.9 592.9,1186.7 593.3,1187.6 593.6,1186.8 594.0,1189.9 594.3,1190.6 594.7,1189.6 595.0,1190.0 595.4,1186.8 595.7,1186.8 596.1,1186.8 596.4,1190.6 596.8,1186.5 597.2,1187.5 597.5,1189.8 597.9,1188.5 598.2,1189.5 598.6,1186.1 598.9,1186.5 599.3,1187.9 599.6,1191.4 600.0,1189.5 600.3,1189.7 600.7,1186.3 601.0,1185.0 601.4,1187.5 601.7,1186.0 602.1,1187.6 602.4,1186.2 602.8,1188.5 603.1,1190.3 603.5,1184.1 603.8,1187.3 604.2,1186.0 604.5,1186.1 604.9,1185.5 605.2,1186.7 605.6,1183.3 605.9,1182.5 606.3,1182.3 606.6,1184.8 607.0,1188.1 607.3,1189.0 607.7,1188.5 608.0,1186.0 608.4,1182.2 608.7,1185.7 609.1,1187.0 609.4,1188.9 609.8,1192.0 610.1,1189.5 610.5,1188.7 610.8,1183.7 611.2,1188.2 611.5,1189.5 611.9,1188.1 612.2,1189.9 612.6,1186.8 612.9,1186.6 613.3,1191.9 613.7,1191.5 614.0,1191.3 614.4,1190.7 614.7,1190.0 615.1,1189.3 615.4,1194.0 615.8,1191.8 616.1,1193.4 616.5,1191.9 616.8,1190.7 617.2,1186.3 617.5,1185.5 617.9,1193.0 618.2,1196.5 618.6,1193.4 618.9,1192.6 619.3,1193.5 619.6,1191.5 620.0,1196.8 620.3,1193.0 620.7,1191.7 621.0,1187.1 621.4,1194.2 621.7,1194.7 622.1,1198.1 622.4,1193.3 622.8,1192.8 623.1,1192.2 623.5,1192.3 623.8,1196.7 624.2,1198.6 624.5,1197.5 624.9,1193.1 625.2,1193.9 625.6,1196.1 625.9,1195.8 626.3,1195.8 626.6,1195.8 627.0,1193.0 627.3,1194.4 627.7,1198.6 628.0,1195.0 628.4,1196.3 628.7,1198.6 629.1,1195.2 629.4,1197.1 629.8,1194.4 630.1,1195.8 630.5,1194.9 630.9,1196.0 631.2,1197.0 631.6,1197.6 631.9,1198.2 632.3,1193.5 632.6,1200.0 633.0,1199.0 633.3,1196.8 633.7,1197.0 634.0,1198.5 634.4,1196.9 634.7,1197.3 635.1,1197.1 635.4,1199.0 635.8,1196.8 636.1,1198.1 636.5,1198.6 636.8,1197.6 637.2,1200.2 637.5,1198.5 637.9,1195.1 638.2,1196.3 638.6,1196.4 638.9,1196.2 639.3,1196.7 639.6,1201.0 640.0,1198.3 640.3,1197.8 640.7,1196.3 641.0,1198.9 641.4,1197.1 641.7,1194.8 642.1,1193.0 642.4,1195.5 642.8,1197.0 643.1,1192.6 643.5,1192.2 643.8,1194.3 644.2,1196.1 644.5,1191.9 644.9,1191.5 645.2,1193.9 645.6,1192.0 645.9,1191.2 646.3,1190.1 646.6,1187.6 647.0,1189.4" fill="none" stroke="none" marker-start="url(#m3)" marker-mid="url(#m3)" marker-end="url(#m3)"/>
<rect x="449.9" y="864.7" width="193.6" height="37.5" fill="#fff" stroke="#1a1a1a" stroke-width="1.2"/>
<line x1="456.5" y1="874.3" x2="489.5" y2="874.3" stroke="#7f7f7f" stroke-width="1"/>
<ellipse cx="473.3" cy="891.3" rx="2.45" ry="1.85" fill="none" stroke="#008000" stroke-width="1.15"/>
<text class="b" transform="translate(492.60,879.50) scale(1.262,1)" font-size="12.6" text-anchor="start" fill="#000">Spread-Range Ratio</text>
<text class="b" transform="translate(492.60,896.70) scale(1.25,1)" font-size="12.6" text-anchor="start" fill="#000">Conditional Mean</text>
<text class="b" transform="translate(201.80,174.90) scale(1.28,1)" font-size="12.6" text-anchor="start" fill="#000">SNB intervention</text>
<text class="b" transform="translate(201.80,189.90) scale(1.28,1)" font-size="12.6" text-anchor="start" fill="#000">on Sep 06 2011</text>
<line x1="282.4" y1="204.2" x2="282.4" y2="274.40000000000003" stroke="#2a2a2a" stroke-width="1.3"/><path d="M282.4,282.6 L277.79999999999995,272.40000000000003 L282.4,274.8 L287.0,272.40000000000003 Z" fill="#000"/>
<text class="b" transform="translate(484.10,166.20) scale(1.28,1)" font-size="12.6" text-anchor="start" fill="#000">Intervention ends on</text>
<text class="b" transform="translate(484.10,181.30) scale(1.28,1)" font-size="12.6" text-anchor="start" fill="#000">Jan 15 2015</text>
<line x1="576.9" y1="189.7" x2="576.9" y2="259.0" stroke="#2a2a2a" stroke-width="1.3"/><path d="M576.9,267.2 L572.3,257.0 L576.9,259.4 L581.5,257.0 Z" fill="#000"/>
<text class="b" transform="translate(359.90,599.30) scale(1.28,1)" font-size="12.6" text-anchor="start" fill="#000">Brexit referendum</text>
<text class="b" transform="translate(359.90,614.60) scale(1.28,1)" font-size="12.6" text-anchor="start" fill="#000">on June 23, 2016</text>
<line x1="427.3" y1="626" x2="427.3" y2="698.4" stroke="#2a2a2a" stroke-width="1.3"/><path d="M427.3,706.6 L422.7,696.4 L427.3,698.8 L431.90000000000003,696.4 Z" fill="#000"/>
<text class="b" transform="translate(244.00,1063.00) scale(1.28,1)" font-size="12.6" text-anchor="start" fill="#000">Tohoku earthquake on</text>
<text class="b" transform="translate(244.00,1079.00) scale(1.28,1)" font-size="12.6" text-anchor="start" fill="#000">March 11 2011</text>
<line x1="305.5" y1="1085.5" x2="305.5" y2="1153.3" stroke="#2a2a2a" stroke-width="1.3"/><path d="M305.5,1161.5 L300.9,1151.3 L305.5,1153.7 L310.1,1151.3 Z" fill="#000"/>
</svg>
</body></html>
